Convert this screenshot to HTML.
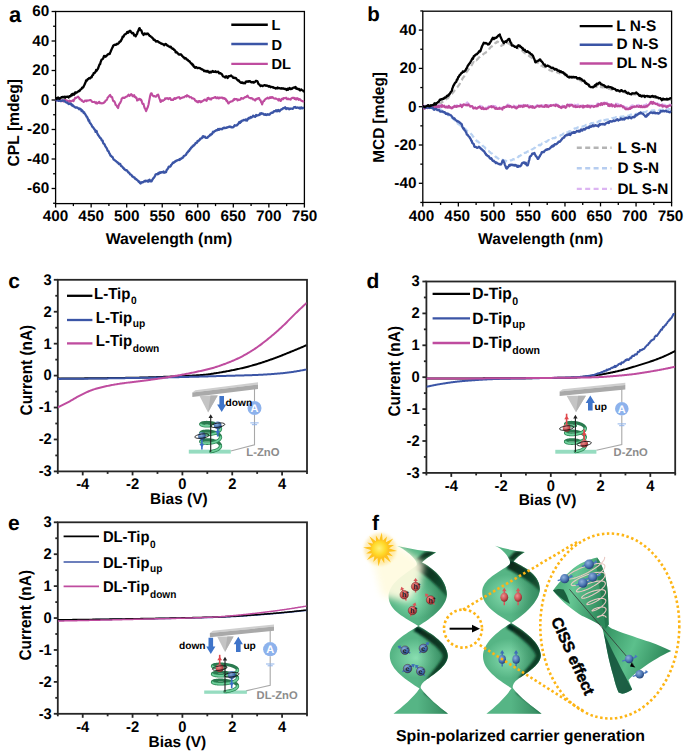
<!DOCTYPE html>
<html><head><meta charset="utf-8"><style>
html,body{margin:0;padding:0;background:#fff;width:685px;height:752px;overflow:hidden}
svg{display:block}
text{font-family:"Liberation Sans",sans-serif;font-weight:bold}
svg{text-rendering:geometricPrecision}
</style></head><body>
<svg width="685" height="752" viewBox="0 0 685 752">
<defs>
<filter id="fBlur3" x="-50%" y="-50%" width="200%" height="200%"><feGaussianBlur stdDeviation="3.5"/></filter>
<filter id="fBlur1" x="-50%" y="-50%" width="200%" height="200%"><feGaussianBlur stdDeviation="1.5"/></filter>
<filter id="fBlur05" x="-50%" y="-50%" width="200%" height="200%"><feGaussianBlur stdDeviation="0.6"/></filter>
<filter id="fBlurB" x="-50%" y="-50%" width="200%" height="200%"><feGaussianBlur stdDeviation="1.2"/></filter>
<clipPath id="clipa"><rect x="55.6" y="11.5" width="248.8" height="192.1"/></clipPath>
<clipPath id="clipb"><rect x="422.8" y="11.2" width="248.8" height="191.2"/></clipPath>
<clipPath id="clipc"><rect x="57.8" y="279.6" width="248.7" height="191.9"/></clipPath>
<clipPath id="clipd"><rect x="426.4" y="281.5" width="248.8" height="191.4"/></clipPath>
<clipPath id="clipe"><rect x="57.8" y="522.3" width="248.7" height="191.5"/></clipPath>
<radialGradient id="gRed" cx="0.38" cy="0.35" r="0.7"><stop offset="0" stop-color="#ec9292"/><stop offset="0.6" stop-color="#c94f52"/><stop offset="1" stop-color="#7e2528"/></radialGradient>
<radialGradient id="gBlue" cx="0.38" cy="0.35" r="0.7"><stop offset="0" stop-color="#8fb0dc"/><stop offset="0.6" stop-color="#4872b0"/><stop offset="1" stop-color="#1f3c6e"/></radialGradient>
<radialGradient id="gBulb" cx="0.45" cy="0.55" r="0.6"><stop offset="0" stop-color="#8fe0b2"/><stop offset="0.55" stop-color="#55b987"/><stop offset="1" stop-color="#2a8a5c"/></radialGradient>
<linearGradient id="gWing" x1="0" y1="0" x2="1" y2="1"><stop offset="0" stop-color="#6cc796"/><stop offset="0.6" stop-color="#3d9c6a"/><stop offset="1" stop-color="#0f4a2c"/></linearGradient>
<linearGradient id="gBase" x1="0" y1="0" x2="1" y2="0"><stop offset="0" stop-color="#5fbf8c"/><stop offset="0.5" stop-color="#62c48f"/><stop offset="1" stop-color="#1d6b44"/></linearGradient>
<linearGradient id="gCone" x1="0" y1="0" x2="1" y2="0.3"><stop offset="0" stop-color="#3c9f6b"/><stop offset="0.45" stop-color="#66c794"/><stop offset="1" stop-color="#2e8a5b"/></linearGradient>
<linearGradient id="gCone2" x1="0" y1="0" x2="1" y2="0.4"><stop offset="0" stop-color="#2f8d5c"/><stop offset="0.5" stop-color="#5cc08c"/><stop offset="1" stop-color="#2a8456"/></linearGradient>
<radialGradient id="gSun" cx="0.45" cy="0.45" r="0.6"><stop offset="0" stop-color="#fff27a"/><stop offset="0.6" stop-color="#ffd928"/><stop offset="1" stop-color="#ffb81c"/></radialGradient>
<linearGradient id="gGlow" x1="0" y1="0" x2="1" y2="1"><stop offset="0" stop-color="#fffbe6" stop-opacity="0.95"/><stop offset="0.6" stop-color="#fffce8" stop-opacity="0.85"/><stop offset="1" stop-color="#fffdf0" stop-opacity="0"/></linearGradient>
<radialGradient id="gHiL" cx="0.5" cy="0.5" r="0.5"><stop offset="0" stop-color="#8fe3b6" stop-opacity="0.9"/><stop offset="1" stop-color="#8fe3b6" stop-opacity="0"/></radialGradient>
<linearGradient id="gDarkR" x1="0" y1="0" x2="1" y2="0"><stop offset="0" stop-color="#1d6b44" stop-opacity="0"/><stop offset="0.7" stop-color="#1d6b44" stop-opacity="0.55"/><stop offset="1" stop-color="#0f4a2c" stop-opacity="0.8"/></linearGradient>
<linearGradient id="gDarkBand" x1="0" y1="0" x2="1" y2="1"><stop offset="0" stop-color="#05261a"/><stop offset="0.5" stop-color="#0b3b24"/><stop offset="1" stop-color="#1a5a38"/></linearGradient>
<radialGradient id="gGlow2" cx="0.3" cy="0.2" r="0.8"><stop offset="0" stop-color="#fffbd0" stop-opacity="0.9"/><stop offset="1" stop-color="#fffbd0" stop-opacity="0"/></radialGradient>
</defs>
<rect x="55.6" y="11.5" width="248.79999999999998" height="192.1" fill="none" stroke="#000" stroke-width="1.3"/>
<line x1="51.60" y1="11.50" x2="55.60" y2="11.50" stroke="#000" stroke-width="1.3" />
<text transform="translate(49.20,16.33)" font-size="15.3" text-anchor="end" fill="#000" >60</text>
<line x1="51.60" y1="41.00" x2="55.60" y2="41.00" stroke="#000" stroke-width="1.3" />
<text transform="translate(49.20,45.83)" font-size="15.3" text-anchor="end" fill="#000" >40</text>
<line x1="51.60" y1="70.50" x2="55.60" y2="70.50" stroke="#000" stroke-width="1.3" />
<text transform="translate(49.20,75.33)" font-size="15.3" text-anchor="end" fill="#000" >20</text>
<line x1="51.60" y1="100.00" x2="55.60" y2="100.00" stroke="#000" stroke-width="1.3" />
<text transform="translate(49.20,104.83)" font-size="15.3" text-anchor="end" fill="#000" >0</text>
<line x1="51.60" y1="129.50" x2="55.60" y2="129.50" stroke="#000" stroke-width="1.3" />
<text transform="translate(49.20,134.33)" font-size="15.3" text-anchor="end" fill="#000" >-20</text>
<line x1="51.60" y1="159.00" x2="55.60" y2="159.00" stroke="#000" stroke-width="1.3" />
<text transform="translate(49.20,163.83)" font-size="15.3" text-anchor="end" fill="#000" >-40</text>
<line x1="51.60" y1="188.50" x2="55.60" y2="188.50" stroke="#000" stroke-width="1.3" />
<text transform="translate(49.20,193.33)" font-size="15.3" text-anchor="end" fill="#000" >-60</text>
<line x1="53.10" y1="26.25" x2="55.60" y2="26.25" stroke="#000" stroke-width="1.3" />
<line x1="53.10" y1="55.75" x2="55.60" y2="55.75" stroke="#000" stroke-width="1.3" />
<line x1="53.10" y1="85.25" x2="55.60" y2="85.25" stroke="#000" stroke-width="1.3" />
<line x1="53.10" y1="114.75" x2="55.60" y2="114.75" stroke="#000" stroke-width="1.3" />
<line x1="53.10" y1="144.25" x2="55.60" y2="144.25" stroke="#000" stroke-width="1.3" />
<line x1="53.10" y1="173.75" x2="55.60" y2="173.75" stroke="#000" stroke-width="1.3" />
<line x1="53.10" y1="203.25" x2="55.60" y2="203.25" stroke="#000" stroke-width="1.3" />
<line x1="55.60" y1="203.60" x2="55.60" y2="207.60" stroke="#000" stroke-width="1.3" />
<text transform="translate(55.60,221.40)" font-size="15.3" text-anchor="middle" fill="#000" >400</text>
<line x1="91.14" y1="203.60" x2="91.14" y2="207.60" stroke="#000" stroke-width="1.3" />
<text transform="translate(91.14,221.40)" font-size="15.3" text-anchor="middle" fill="#000" >450</text>
<line x1="126.69" y1="203.60" x2="126.69" y2="207.60" stroke="#000" stroke-width="1.3" />
<text transform="translate(126.69,221.40)" font-size="15.3" text-anchor="middle" fill="#000" >500</text>
<line x1="162.23" y1="203.60" x2="162.23" y2="207.60" stroke="#000" stroke-width="1.3" />
<text transform="translate(162.23,221.40)" font-size="15.3" text-anchor="middle" fill="#000" >550</text>
<line x1="197.77" y1="203.60" x2="197.77" y2="207.60" stroke="#000" stroke-width="1.3" />
<text transform="translate(197.77,221.40)" font-size="15.3" text-anchor="middle" fill="#000" >600</text>
<line x1="233.31" y1="203.60" x2="233.31" y2="207.60" stroke="#000" stroke-width="1.3" />
<text transform="translate(233.31,221.40)" font-size="15.3" text-anchor="middle" fill="#000" >650</text>
<line x1="268.86" y1="203.60" x2="268.86" y2="207.60" stroke="#000" stroke-width="1.3" />
<text transform="translate(268.86,221.40)" font-size="15.3" text-anchor="middle" fill="#000" >700</text>
<line x1="304.40" y1="203.60" x2="304.40" y2="207.60" stroke="#000" stroke-width="1.3" />
<text transform="translate(304.40,221.40)" font-size="15.3" text-anchor="middle" fill="#000" >750</text>
<line x1="73.37" y1="203.60" x2="73.37" y2="206.10" stroke="#000" stroke-width="1.3" />
<line x1="108.91" y1="203.60" x2="108.91" y2="206.10" stroke="#000" stroke-width="1.3" />
<line x1="144.46" y1="203.60" x2="144.46" y2="206.10" stroke="#000" stroke-width="1.3" />
<line x1="180.00" y1="203.60" x2="180.00" y2="206.10" stroke="#000" stroke-width="1.3" />
<line x1="215.54" y1="203.60" x2="215.54" y2="206.10" stroke="#000" stroke-width="1.3" />
<line x1="251.09" y1="203.60" x2="251.09" y2="206.10" stroke="#000" stroke-width="1.3" />
<line x1="286.63" y1="203.60" x2="286.63" y2="206.10" stroke="#000" stroke-width="1.3" />
<text transform="translate(8.90,21.60)" font-size="22" text-anchor="start" fill="#000" >a</text>
<text transform="translate(18.60,122.70) rotate(-90) scale(1.0,1.03)" font-size="15.65" text-anchor="middle" fill="#000" >CPL [mdeg]</text>
<text transform="translate(169.00,243.80)" font-size="15.8" text-anchor="middle" fill="#000" >Wavelength (nm)</text>
<line x1="231.30" y1="24.80" x2="267.80" y2="24.80" stroke="#000" stroke-width="2.6" />
<text transform="translate(271.50,30.20)" font-size="14.6" text-anchor="start" fill="#000" >L</text>
<line x1="231.30" y1="44.00" x2="267.80" y2="44.00" stroke="#3b55a6" stroke-width="2.6" />
<text transform="translate(271.50,49.60)" font-size="14.6" text-anchor="start" fill="#000" >D</text>
<line x1="231.30" y1="63.90" x2="267.80" y2="63.90" stroke="#bf4c9f" stroke-width="2.4" />
<text transform="translate(271.50,69.20)" font-size="14.6" text-anchor="start" fill="#000" >DL</text>
<g clip-path="url(#clipa)">
<path d="M55.60,99.58 L56.10,100.16 L56.60,100.64 L57.10,100.12 L57.60,99.61 L58.10,100.05 L58.60,100.45 L59.10,100.86 L59.60,99.97 L60.10,99.68 L60.60,100.51 L61.10,100.65 L61.60,101.16 L62.10,101.07 L62.60,100.56 L63.10,100.32 L63.60,101.53 L64.10,100.61 L64.60,100.11 L65.10,99.80 L65.60,100.26 L66.10,100.45 L66.60,100.42 L67.10,100.63 L67.60,100.95 L68.10,101.33 L68.60,101.72 L69.10,101.53 L69.60,100.68 L70.10,101.64 L70.60,101.07 L71.10,101.56 L71.60,100.96 L72.10,100.98 L72.60,100.28 L73.10,100.17 L73.60,101.18 L74.10,99.62 L74.60,99.21 L75.10,97.76 L75.60,97.68 L76.10,97.90 L76.60,97.45 L77.10,97.34 L77.60,97.00 L78.10,96.64 L78.60,97.64 L79.10,97.63 L79.60,99.14 L80.10,98.84 L80.60,99.59 L81.10,99.79 L81.60,100.56 L82.10,100.38 L82.60,101.33 L83.10,101.40 L83.60,101.97 L84.10,101.63 L84.60,101.17 L85.10,100.48 L85.60,100.82 L86.10,100.68 L86.60,101.18 L87.10,100.39 L87.60,100.54 L88.10,100.54 L88.60,100.41 L89.10,100.31 L89.60,100.24 L90.10,100.07 L90.60,100.02 L91.10,100.46 L91.60,101.18 L92.10,101.84 L92.60,101.86 L93.10,101.97 L93.60,101.94 L94.10,101.96 L94.60,101.91 L95.10,102.33 L95.60,103.07 L96.10,102.51 L96.60,102.34 L97.10,103.57 L97.60,102.95 L98.10,102.98 L98.60,102.82 L99.10,101.76 L99.60,102.93 L100.10,103.26 L100.60,102.91 L101.10,103.29 L101.60,103.36 L102.10,103.16 L102.60,103.35 L103.10,103.15 L103.60,103.08 L104.10,102.54 L104.60,101.75 L105.10,101.76 L105.60,100.44 L106.10,100.38 L106.60,100.14 L107.10,99.08 L107.60,97.72 L108.10,97.15 L108.60,96.71 L109.10,96.01 L109.60,95.56 L110.10,94.94 L110.60,95.81 L111.10,96.86 L111.60,97.31 L112.10,97.01 L112.60,98.90 L113.10,100.69 L113.60,101.20 L114.10,101.08 L114.60,101.86 L115.10,102.96 L115.60,104.90 L116.10,105.22 L116.60,105.57 L117.10,106.85 L117.60,107.01 L118.10,108.04 L118.60,105.83 L119.10,104.36 L119.60,103.57 L120.10,103.01 L120.60,101.95 L121.10,100.87 L121.60,99.00 L122.10,98.34 L122.60,97.73 L123.10,97.64 L123.60,98.00 L124.10,97.58 L124.60,97.85 L125.10,97.50 L125.60,96.99 L126.10,96.79 L126.60,96.63 L127.10,96.55 L127.60,95.69 L128.10,95.35 L128.60,94.70 L129.10,95.75 L129.60,95.91 L130.10,95.14 L130.60,94.68 L131.10,94.12 L131.60,94.49 L132.10,94.98 L132.60,96.24 L133.10,95.98 L133.60,95.66 L134.10,95.04 L134.60,96.89 L135.10,97.30 L135.60,96.97 L136.10,98.04 L136.60,97.92 L137.10,100.54 L137.60,100.23 L138.10,99.97 L138.60,99.64 L139.10,98.75 L139.60,99.47 L140.10,99.13 L140.60,100.08 L141.10,99.65 L141.60,100.74 L142.10,102.61 L142.60,103.94 L143.10,103.65 L143.60,104.10 L144.10,106.39 L144.60,108.01 L145.10,108.61 L145.60,109.87 L146.10,111.20 L146.60,109.89 L147.10,108.36 L147.60,107.60 L148.10,105.93 L148.60,104.28 L149.10,101.22 L149.60,98.69 L150.10,96.06 L150.60,94.31 L151.10,93.25 L151.60,93.24 L152.10,94.58 L152.60,95.55 L153.10,95.81 L153.60,96.34 L154.10,96.23 L154.60,95.99 L155.10,96.50 L155.60,96.67 L156.10,96.62 L156.60,95.92 L157.10,95.15 L157.60,95.06 L158.10,94.58 L158.60,95.73 L159.10,97.88 L159.60,98.91 L160.10,100.35 L160.60,102.01 L161.10,101.51 L161.60,100.38 L162.10,101.01 L162.60,100.29 L163.10,100.72 L163.60,100.16 L164.10,100.04 L164.60,99.68 L165.10,98.25 L165.60,98.98 L166.10,98.48 L166.60,98.19 L167.10,98.16 L167.60,98.59 L168.10,98.67 L168.60,99.05 L169.10,98.15 L169.60,98.53 L170.10,98.03 L170.60,99.08 L171.10,99.89 L171.60,99.70 L172.10,99.96 L172.60,99.79 L173.10,99.90 L173.60,98.93 L174.10,98.45 L174.60,98.15 L175.10,99.00 L175.60,98.82 L176.10,98.12 L176.60,97.96 L177.10,97.75 L177.60,97.61 L178.10,97.27 L178.60,97.33 L179.10,97.13 L179.60,97.53 L180.10,98.78 L180.60,98.47 L181.10,98.08 L181.60,97.75 L182.10,97.69 L182.60,97.71 L183.10,97.18 L183.60,97.32 L184.10,97.25 L184.60,96.67 L185.10,96.37 L185.60,96.07 L186.10,95.84 L186.60,96.53 L187.10,95.16 L187.60,95.78 L188.10,95.96 L188.60,96.12 L189.10,96.61 L189.60,97.33 L190.10,97.19 L190.60,97.16 L191.10,97.10 L191.60,97.63 L192.10,98.52 L192.60,98.48 L193.10,98.40 L193.60,98.59 L194.10,98.99 L194.60,99.26 L195.10,100.59 L195.60,100.83 L196.10,100.81 L196.60,101.75 L197.10,101.25 L197.60,101.91 L198.10,102.30 L198.60,101.30 L199.10,100.93 L199.60,101.07 L200.10,101.90 L200.60,102.29 L201.10,101.23 L201.60,101.90 L202.10,101.36 L202.60,101.03 L203.10,100.73 L203.60,100.60 L204.10,99.75 L204.60,99.73 L205.10,99.48 L205.60,100.02 L206.10,100.63 L206.60,100.86 L207.10,99.32 L207.60,97.99 L208.10,97.95 L208.60,97.77 L209.10,99.23 L209.60,99.16 L210.10,98.68 L210.60,99.42 L211.10,99.50 L211.60,98.27 L212.10,98.21 L212.60,98.14 L213.10,98.06 L213.60,97.91 L214.10,97.47 L214.60,97.39 L215.10,97.15 L215.60,97.05 L216.10,98.19 L216.60,98.10 L217.10,98.19 L217.60,97.40 L218.10,97.89 L218.60,98.42 L219.10,97.51 L219.60,98.23 L220.10,97.69 L220.60,97.80 L221.10,97.51 L221.60,97.49 L222.10,97.92 L222.60,97.61 L223.10,98.58 L223.60,98.00 L224.10,97.95 L224.60,98.85 L225.10,98.51 L225.60,98.91 L226.10,100.16 L226.60,101.13 L227.10,100.52 L227.60,101.82 L228.10,103.28 L228.60,103.53 L229.10,102.70 L229.60,102.17 L230.10,102.03 L230.60,101.49 L231.10,101.61 L231.60,101.35 L232.10,101.03 L232.60,101.27 L233.10,100.45 L233.60,99.38 L234.10,99.93 L234.60,98.88 L235.10,98.93 L235.60,99.17 L236.10,99.19 L236.60,98.94 L237.10,99.26 L237.60,100.50 L238.10,99.66 L238.60,99.57 L239.10,99.96 L239.60,99.79 L240.10,99.63 L240.60,99.52 L241.10,98.09 L241.60,98.05 L242.10,98.37 L242.60,98.52 L243.10,98.79 L243.60,98.32 L244.10,97.70 L244.60,97.48 L245.10,97.13 L245.60,97.07 L246.10,97.08 L246.60,96.47 L247.10,95.90 L247.60,95.66 L248.10,96.78 L248.60,97.40 L249.10,97.66 L249.60,97.87 L250.10,98.12 L250.60,98.02 L251.10,98.49 L251.60,98.04 L252.10,98.47 L252.60,98.55 L253.10,99.41 L253.60,99.27 L254.10,99.62 L254.60,100.14 L255.10,100.60 L255.60,99.53 L256.10,98.96 L256.60,99.40 L257.10,98.49 L257.60,98.74 L258.10,98.17 L258.60,98.21 L259.10,98.11 L259.60,99.67 L260.10,100.04 L260.60,100.42 L261.10,102.32 L261.60,102.72 L262.10,104.55 L262.60,102.86 L263.10,101.57 L263.60,100.94 L264.10,100.97 L264.60,99.80 L265.10,99.39 L265.60,99.25 L266.10,98.44 L266.60,98.53 L267.10,98.15 L267.60,97.57 L268.10,98.38 L268.60,98.51 L269.10,98.26 L269.60,97.73 L270.10,97.05 L270.60,97.95 L271.10,97.94 L271.60,97.20 L272.10,97.69 L272.60,97.16 L273.10,97.66 L273.60,98.07 L274.10,98.42 L274.60,98.59 L275.10,98.74 L275.60,98.33 L276.10,98.67 L276.60,98.84 L277.10,99.09 L277.60,99.48 L278.10,99.84 L278.60,100.49 L279.10,98.88 L279.60,99.81 L280.10,99.91 L280.60,100.98 L281.10,100.45 L281.60,98.94 L282.10,99.22 L282.60,98.71 L283.10,99.05 L283.60,98.05 L284.10,98.06 L284.60,98.20 L285.10,98.32 L285.60,98.21 L286.10,97.67 L286.60,98.61 L287.10,99.19 L287.60,98.95 L288.10,98.52 L288.60,99.00 L289.10,99.37 L289.60,99.18 L290.10,99.08 L290.60,99.63 L291.10,98.60 L291.60,98.47 L292.10,97.77 L292.60,98.03 L293.10,98.03 L293.60,97.87 L294.10,97.88 L294.60,98.93 L295.10,98.34 L295.60,98.35 L296.10,99.49 L296.60,98.91 L297.10,98.08 L297.60,98.89 L298.10,98.63 L298.60,99.81 L299.10,99.13 L299.60,99.45 L300.10,99.30 L300.60,100.24 L301.10,100.24 L301.60,100.88 L302.10,101.15 L302.60,101.03 L303.10,101.50 L303.60,101.49 L304.10,100.95" fill="none" stroke="#bf4c9f" stroke-width="2.1" stroke-linejoin="round" />
<path d="M55.60,99.82 L56.10,100.36 L56.60,99.69 L57.10,100.31 L57.60,100.04 L58.10,100.00 L58.60,100.90 L59.10,100.52 L59.60,100.37 L60.10,100.68 L60.60,100.98 L61.10,100.65 L61.60,100.85 L62.10,100.33 L62.60,100.46 L63.10,100.70 L63.60,100.58 L64.10,100.65 L64.60,100.80 L65.10,101.57 L65.60,102.00 L66.10,102.24 L66.60,102.64 L67.10,102.37 L67.60,102.96 L68.10,103.44 L68.60,103.96 L69.10,103.66 L69.60,103.93 L70.10,103.54 L70.60,104.21 L71.10,103.91 L71.60,104.31 L72.10,105.61 L72.60,104.86 L73.10,106.01 L73.60,106.35 L74.10,106.37 L74.60,106.85 L75.10,107.20 L75.60,107.68 L76.10,107.49 L76.60,107.46 L77.10,107.61 L77.60,107.68 L78.10,108.25 L78.60,108.30 L79.10,109.22 L79.60,108.50 L80.10,108.89 L80.60,109.36 L81.10,109.32 L81.60,111.19 L82.10,110.31 L82.60,111.18 L83.10,111.63 L83.60,112.92 L84.10,112.13 L84.60,113.57 L85.10,113.94 L85.60,114.86 L86.10,115.51 L86.60,116.81 L87.10,117.06 L87.60,118.17 L88.10,119.28 L88.60,120.82 L89.10,120.19 L89.60,122.18 L90.10,123.16 L90.60,123.49 L91.10,124.51 L91.60,125.00 L92.10,126.51 L92.60,126.92 L93.10,127.39 L93.60,128.06 L94.10,128.79 L94.60,129.55 L95.10,130.02 L95.60,131.86 L96.10,131.35 L96.60,131.04 L97.10,132.87 L97.60,133.93 L98.10,134.98 L98.60,135.59 L99.10,136.23 L99.60,137.05 L100.10,138.00 L100.60,138.16 L101.10,138.68 L101.60,140.21 L102.10,140.55 L102.60,140.63 L103.10,142.75 L103.60,143.47 L104.10,143.83 L104.60,144.41 L105.10,145.87 L105.60,146.56 L106.10,147.37 L106.60,148.06 L107.10,149.12 L107.60,150.64 L108.10,151.03 L108.60,151.30 L109.10,152.78 L109.60,153.54 L110.10,154.63 L110.60,155.65 L111.10,155.93 L111.60,156.40 L112.10,157.01 L112.60,157.18 L113.10,158.38 L113.60,159.44 L114.10,159.71 L114.60,160.04 L115.10,160.56 L115.60,160.93 L116.10,161.29 L116.60,161.82 L117.10,162.09 L117.60,162.60 L118.10,162.58 L118.60,163.62 L119.10,164.09 L119.60,164.03 L120.10,163.83 L120.60,164.98 L121.10,166.15 L121.60,166.11 L122.10,166.55 L122.60,167.00 L123.10,167.97 L123.60,167.98 L124.10,169.10 L124.60,169.20 L125.10,169.97 L125.60,170.11 L126.10,170.32 L126.60,170.15 L127.10,170.68 L127.60,171.28 L128.10,172.09 L128.60,172.56 L129.10,172.67 L129.60,173.49 L130.10,174.32 L130.60,174.47 L131.10,174.74 L131.60,175.20 L132.10,176.16 L132.60,176.69 L133.10,176.55 L133.60,177.28 L134.10,177.42 L134.60,177.62 L135.10,178.75 L135.60,179.18 L136.10,178.96 L136.60,179.48 L137.10,180.20 L137.60,180.30 L138.10,180.89 L138.60,181.73 L139.10,181.35 L139.60,182.44 L140.10,183.28 L140.60,183.48 L141.10,182.50 L141.60,182.69 L142.10,182.10 L142.60,182.32 L143.10,182.23 L143.60,181.87 L144.10,181.19 L144.60,180.98 L145.10,181.41 L145.60,180.75 L146.10,181.01 L146.60,181.01 L147.10,180.60 L147.60,181.45 L148.10,180.74 L148.60,181.51 L149.10,180.17 L149.60,179.77 L150.10,181.03 L150.60,181.36 L151.10,181.17 L151.60,181.31 L152.10,180.10 L152.60,179.51 L153.10,178.55 L153.60,177.97 L154.10,177.62 L154.60,176.57 L155.10,175.76 L155.60,174.47 L156.10,174.21 L156.60,174.18 L157.10,173.84 L157.60,174.19 L158.10,173.26 L158.60,173.92 L159.10,172.80 L159.60,173.10 L160.10,172.29 L160.60,172.84 L161.10,172.23 L161.60,172.20 L162.10,172.46 L162.60,172.06 L163.10,171.87 L163.60,171.50 L164.10,172.77 L164.60,172.46 L165.10,172.50 L165.60,171.95 L166.10,172.06 L166.60,170.09 L167.10,169.76 L167.60,168.88 L168.10,168.46 L168.60,166.88 L169.10,166.55 L169.60,166.67 L170.10,166.67 L170.60,166.36 L171.10,164.96 L171.60,164.57 L172.10,164.06 L172.60,163.08 L173.10,162.43 L173.60,162.79 L174.10,162.36 L174.60,161.75 L175.10,161.83 L175.60,160.84 L176.10,160.98 L176.60,160.64 L177.10,160.34 L177.60,160.29 L178.10,159.98 L178.60,159.75 L179.10,159.50 L179.60,159.92 L180.10,158.97 L180.60,159.04 L181.10,158.73 L181.60,158.07 L182.10,158.16 L182.60,157.35 L183.10,157.49 L183.60,156.39 L184.10,155.84 L184.60,155.65 L185.10,155.45 L185.60,155.07 L186.10,154.60 L186.60,153.62 L187.10,152.57 L187.60,152.43 L188.10,151.85 L188.60,150.74 L189.10,150.75 L189.60,150.01 L190.10,148.89 L190.60,148.78 L191.10,147.69 L191.60,147.20 L192.10,147.21 L192.60,146.08 L193.10,146.03 L193.60,145.11 L194.10,145.32 L194.60,144.43 L195.10,144.17 L195.60,143.06 L196.10,142.84 L196.60,142.93 L197.10,142.40 L197.60,140.97 L198.10,141.29 L198.60,141.01 L199.10,140.08 L199.60,140.18 L200.10,138.88 L200.60,138.54 L201.10,138.58 L201.60,138.32 L202.10,137.90 L202.60,136.59 L203.10,136.13 L203.60,136.93 L204.10,136.50 L204.60,136.96 L205.10,136.71 L205.60,137.63 L206.10,137.87 L206.60,137.91 L207.10,137.77 L207.60,137.45 L208.10,136.80 L208.60,136.52 L209.10,136.04 L209.60,135.62 L210.10,134.80 L210.60,135.13 L211.10,134.23 L211.60,134.19 L212.10,133.89 L212.60,132.66 L213.10,131.71 L213.60,132.35 L214.10,131.62 L214.60,131.33 L215.10,130.93 L215.60,130.88 L216.10,130.22 L216.60,130.34 L217.10,130.11 L217.60,130.11 L218.10,129.06 L218.60,129.89 L219.10,129.82 L219.60,128.86 L220.10,128.85 L220.60,129.03 L221.10,129.21 L221.60,128.90 L222.10,129.24 L222.60,128.68 L223.10,127.99 L223.60,127.79 L224.10,128.19 L224.60,127.64 L225.10,127.95 L225.60,127.99 L226.10,127.72 L226.60,127.82 L227.10,127.39 L227.60,127.32 L228.10,127.07 L228.60,126.99 L229.10,126.58 L229.60,126.86 L230.10,126.74 L230.60,126.56 L231.10,127.14 L231.60,127.43 L232.10,127.10 L232.60,127.46 L233.10,127.22 L233.60,127.01 L234.10,126.11 L234.60,125.31 L235.10,125.71 L235.60,125.55 L236.10,125.49 L236.60,125.17 L237.10,125.24 L237.60,124.46 L238.10,124.29 L238.60,123.34 L239.10,122.21 L239.60,122.34 L240.10,122.88 L240.60,121.49 L241.10,121.88 L241.60,121.04 L242.10,120.62 L242.60,120.50 L243.10,120.48 L243.60,119.90 L244.10,120.07 L244.60,120.15 L245.10,120.24 L245.60,119.53 L246.10,120.14 L246.60,120.37 L247.10,120.55 L247.60,118.92 L248.10,118.88 L248.60,117.90 L249.10,118.35 L249.60,118.40 L250.10,117.58 L250.60,117.01 L251.10,117.39 L251.60,117.53 L252.10,116.85 L252.60,116.71 L253.10,115.66 L253.60,116.01 L254.10,116.37 L254.60,116.40 L255.10,116.90 L255.60,115.87 L256.10,115.04 L256.60,115.79 L257.10,115.33 L257.60,115.33 L258.10,115.29 L258.60,115.02 L259.10,115.07 L259.60,114.83 L260.10,113.34 L260.60,113.33 L261.10,113.93 L261.60,113.14 L262.10,113.69 L262.60,113.58 L263.10,113.55 L263.60,114.48 L264.10,114.69 L264.60,114.37 L265.10,114.88 L265.60,114.29 L266.10,114.49 L266.60,115.02 L267.10,114.75 L267.60,114.15 L268.10,114.49 L268.60,114.46 L269.10,114.75 L269.60,114.62 L270.10,113.90 L270.60,113.29 L271.10,112.98 L271.60,112.58 L272.10,112.87 L272.60,112.74 L273.10,112.34 L273.60,111.56 L274.10,111.08 L274.60,111.39 L275.10,110.95 L275.60,111.02 L276.10,110.25 L276.60,110.48 L277.10,111.27 L277.60,110.49 L278.10,110.04 L278.60,110.40 L279.10,111.21 L279.60,111.26 L280.10,110.35 L280.60,109.87 L281.10,109.70 L281.60,109.16 L282.10,109.22 L282.60,108.93 L283.10,108.21 L283.60,108.19 L284.10,108.14 L284.60,107.72 L285.10,107.33 L285.60,108.20 L286.10,108.94 L286.60,108.37 L287.10,108.23 L287.60,108.63 L288.10,108.54 L288.60,108.37 L289.10,109.27 L289.60,108.65 L290.10,108.66 L290.60,108.78 L291.10,108.58 L291.60,108.56 L292.10,108.71 L292.60,108.92 L293.10,108.50 L293.60,107.95 L294.10,107.09 L294.60,107.14 L295.10,106.96 L295.60,107.31 L296.10,107.90 L296.60,107.83 L297.10,107.71 L297.60,107.52 L298.10,107.81 L298.60,108.02 L299.10,107.72 L299.60,107.86 L300.10,108.52 L300.60,107.65 L301.10,107.78 L301.60,107.45 L302.10,108.36 L302.60,108.19 L303.10,108.02 L303.60,107.85 L304.10,107.68" fill="none" stroke="#3b55a6" stroke-width="2.3" stroke-linejoin="round" />
<path d="M55.60,98.67 L56.10,98.41 L56.60,98.97 L57.10,97.86 L57.60,98.29 L58.10,97.48 L58.60,98.49 L59.10,98.34 L59.60,98.67 L60.10,97.93 L60.60,97.98 L61.10,97.64 L61.60,97.27 L62.10,97.43 L62.60,96.84 L63.10,96.94 L63.60,97.30 L64.10,97.07 L64.60,96.76 L65.10,97.73 L65.60,97.17 L66.10,96.75 L66.60,96.92 L67.10,96.70 L67.60,96.68 L68.10,96.70 L68.60,97.45 L69.10,96.61 L69.60,96.19 L70.10,96.03 L70.60,96.29 L71.10,95.24 L71.60,94.53 L72.10,95.33 L72.60,93.92 L73.10,93.82 L73.60,94.08 L74.10,94.69 L74.60,93.46 L75.10,92.38 L75.60,93.17 L76.10,92.73 L76.60,92.35 L77.10,92.30 L77.60,91.93 L78.10,91.57 L78.60,90.91 L79.10,91.14 L79.60,91.02 L80.10,90.08 L80.60,89.28 L81.10,89.21 L81.60,88.77 L82.10,87.72 L82.60,87.32 L83.10,87.49 L83.60,86.64 L84.10,85.38 L84.60,84.45 L85.10,83.32 L85.60,82.22 L86.10,80.36 L86.60,80.88 L87.10,80.15 L87.60,79.16 L88.10,79.27 L88.60,78.69 L89.10,78.07 L89.60,78.07 L90.10,78.33 L90.60,77.48 L91.10,77.40 L91.60,77.37 L92.10,75.79 L92.60,74.98 L93.10,74.80 L93.60,73.29 L94.10,72.96 L94.60,73.02 L95.10,72.49 L95.60,71.71 L96.10,70.04 L96.60,70.80 L97.10,69.87 L97.60,69.23 L98.10,68.49 L98.60,66.94 L99.10,65.58 L99.60,64.28 L100.10,64.20 L100.60,62.14 L101.10,60.82 L101.60,59.65 L102.10,59.46 L102.60,59.02 L103.10,58.43 L103.60,57.28 L104.10,55.82 L104.60,56.47 L105.10,56.54 L105.60,56.73 L106.10,56.06 L106.60,55.45 L107.10,55.47 L107.60,54.48 L108.10,54.19 L108.60,53.91 L109.10,54.14 L109.60,54.00 L110.10,52.72 L110.60,51.77 L111.10,50.41 L111.60,49.31 L112.10,48.12 L112.60,47.43 L113.10,45.91 L113.60,45.49 L114.10,44.87 L114.60,45.07 L115.10,44.85 L115.60,44.84 L116.10,44.82 L116.60,43.90 L117.10,43.99 L117.60,44.19 L118.10,43.29 L118.60,43.28 L119.10,42.60 L119.60,41.64 L120.10,41.87 L120.60,41.23 L121.10,40.51 L121.60,39.36 L122.10,38.61 L122.60,36.69 L123.10,37.09 L123.60,36.53 L124.10,35.40 L124.60,34.50 L125.10,34.26 L125.60,34.12 L126.10,33.64 L126.60,33.33 L127.10,32.13 L127.60,31.93 L128.10,32.69 L128.60,32.30 L129.10,31.30 L129.60,31.09 L130.10,30.73 L130.60,31.18 L131.10,32.43 L131.60,32.48 L132.10,33.28 L132.60,33.38 L133.10,33.04 L133.60,33.65 L134.10,35.36 L134.60,34.97 L135.10,35.07 L135.60,36.37 L136.10,35.45 L136.60,34.34 L137.10,33.91 L137.60,31.77 L138.10,31.31 L138.60,29.87 L139.10,28.60 L139.60,28.11 L140.10,29.71 L140.60,30.18 L141.10,30.16 L141.60,30.98 L142.10,32.82 L142.60,33.69 L143.10,33.62 L143.60,35.03 L144.10,34.13 L144.60,33.43 L145.10,33.57 L145.60,33.97 L146.10,34.27 L146.60,34.04 L147.10,33.42 L147.60,33.66 L148.10,33.70 L148.60,34.62 L149.10,35.02 L149.60,35.82 L150.10,35.78 L150.60,36.43 L151.10,36.83 L151.60,37.17 L152.10,37.63 L152.60,38.18 L153.10,38.63 L153.60,39.83 L154.10,40.11 L154.60,39.74 L155.10,40.52 L155.60,40.80 L156.10,41.51 L156.60,41.18 L157.10,41.22 L157.60,41.18 L158.10,41.64 L158.60,42.11 L159.10,42.35 L159.60,42.46 L160.10,43.04 L160.60,43.23 L161.10,43.56 L161.60,43.39 L162.10,44.02 L162.60,43.92 L163.10,44.17 L163.60,44.48 L164.10,45.22 L164.60,44.86 L165.10,44.22 L165.60,43.83 L166.10,44.20 L166.60,44.99 L167.10,45.51 L167.60,45.44 L168.10,45.92 L168.60,46.20 L169.10,46.57 L169.60,46.62 L170.10,47.09 L170.60,46.67 L171.10,47.14 L171.60,48.15 L172.10,48.11 L172.60,48.91 L173.10,48.60 L173.60,49.10 L174.10,49.97 L174.60,50.00 L175.10,50.49 L175.60,52.29 L176.10,51.89 L176.60,52.11 L177.10,52.58 L177.60,53.23 L178.10,53.55 L178.60,54.26 L179.10,54.59 L179.60,54.39 L180.10,54.55 L180.60,54.36 L181.10,54.46 L181.60,55.00 L182.10,55.96 L182.60,56.19 L183.10,56.84 L183.60,57.35 L184.10,57.32 L184.60,58.51 L185.10,58.06 L185.60,58.15 L186.10,58.52 L186.60,59.54 L187.10,59.58 L187.60,59.60 L188.10,60.35 L188.60,61.11 L189.10,61.09 L189.60,61.29 L190.10,62.15 L190.60,62.83 L191.10,63.48 L191.60,63.42 L192.10,64.27 L192.60,65.00 L193.10,64.78 L193.60,66.38 L194.10,66.76 L194.60,66.70 L195.10,67.86 L195.60,67.46 L196.10,67.10 L196.60,67.38 L197.10,67.84 L197.60,68.19 L198.10,68.06 L198.60,67.81 L199.10,67.92 L199.60,68.02 L200.10,68.13 L200.60,68.76 L201.10,68.93 L201.60,69.38 L202.10,69.33 L202.60,69.46 L203.10,69.96 L203.60,70.21 L204.10,71.07 L204.60,70.66 L205.10,71.16 L205.60,71.32 L206.10,70.88 L206.60,71.65 L207.10,71.71 L207.60,70.86 L208.10,71.77 L208.60,72.24 L209.10,71.74 L209.60,72.67 L210.10,72.38 L210.60,71.82 L211.10,72.41 L211.60,72.10 L212.10,71.54 L212.60,70.99 L213.10,71.73 L213.60,71.50 L214.10,71.93 L214.60,71.89 L215.10,71.45 L215.60,71.25 L216.10,72.07 L216.60,72.22 L217.10,72.06 L217.60,71.82 L218.10,71.71 L218.60,72.14 L219.10,73.32 L219.60,73.39 L220.10,73.33 L220.60,73.14 L221.10,73.87 L221.60,73.92 L222.10,74.69 L222.60,75.57 L223.10,76.32 L223.60,76.51 L224.10,76.72 L224.60,77.02 L225.10,77.63 L225.60,77.17 L226.10,76.26 L226.60,77.13 L227.10,76.81 L227.60,77.97 L228.10,76.66 L228.60,76.36 L229.10,76.13 L229.60,76.28 L230.10,75.93 L230.60,75.64 L231.10,75.49 L231.60,76.29 L232.10,76.49 L232.60,76.64 L233.10,77.90 L233.60,77.85 L234.10,78.08 L234.60,77.61 L235.10,77.92 L235.60,77.92 L236.10,78.29 L236.60,79.16 L237.10,79.70 L237.60,80.08 L238.10,80.48 L238.60,80.29 L239.10,80.86 L239.60,81.83 L240.10,82.16 L240.60,82.34 L241.10,82.74 L241.60,82.34 L242.10,82.32 L242.60,82.94 L243.10,82.63 L243.60,83.26 L244.10,83.08 L244.60,83.14 L245.10,83.29 L245.60,81.80 L246.10,82.01 L246.60,81.40 L247.10,81.38 L247.60,81.35 L248.10,81.71 L248.60,81.12 L249.10,81.55 L249.60,81.10 L250.10,81.33 L250.60,81.63 L251.10,82.24 L251.60,82.20 L252.10,82.13 L252.60,82.40 L253.10,81.92 L253.60,82.62 L254.10,82.45 L254.60,82.09 L255.10,81.75 L255.60,81.11 L256.10,80.83 L256.60,81.06 L257.10,81.18 L257.60,81.65 L258.10,83.18 L258.60,84.06 L259.10,84.25 L259.60,84.83 L260.10,85.30 L260.60,86.13 L261.10,85.51 L261.60,85.54 L262.10,85.71 L262.60,86.14 L263.10,85.59 L263.60,85.62 L264.10,85.34 L264.60,85.19 L265.10,85.14 L265.60,85.43 L266.10,85.84 L266.60,85.49 L267.10,85.54 L267.60,85.75 L268.10,86.23 L268.60,86.64 L269.10,86.09 L269.60,86.69 L270.10,86.44 L270.60,87.17 L271.10,86.83 L271.60,86.80 L272.10,87.00 L272.60,87.38 L273.10,87.18 L273.60,87.67 L274.10,87.85 L274.60,87.94 L275.10,88.10 L275.60,88.46 L276.10,87.98 L276.60,88.19 L277.10,88.30 L277.60,87.57 L278.10,88.31 L278.60,88.06 L279.10,88.01 L279.60,88.10 L280.10,88.35 L280.60,88.52 L281.10,88.63 L281.60,88.19 L282.10,88.62 L282.60,88.63 L283.10,88.31 L283.60,88.43 L284.10,88.85 L284.60,88.89 L285.10,89.06 L285.60,88.93 L286.10,89.36 L286.60,89.98 L287.10,89.51 L287.60,88.60 L288.10,89.72 L288.60,89.19 L289.10,88.66 L289.60,87.95 L290.10,88.73 L290.60,89.12 L291.10,89.08 L291.60,88.40 L292.10,88.81 L292.60,88.21 L293.10,87.71 L293.60,87.70 L294.10,87.64 L294.60,87.44 L295.10,87.83 L295.60,87.08 L296.10,88.54 L296.60,88.30 L297.10,88.90 L297.60,88.67 L298.10,89.17 L298.60,89.36 L299.10,89.03 L299.60,89.90 L300.10,90.44 L300.60,89.96 L301.10,89.45 L301.60,89.92 L302.10,90.03 L302.60,90.49 L303.10,90.62 L303.60,91.35 L304.10,91.23" fill="none" stroke="#000" stroke-width="2.3" stroke-linejoin="round" />
</g>
<rect x="422.8" y="11.2" width="248.8" height="191.20000000000002" fill="none" stroke="#000" stroke-width="1.3"/>
<line x1="418.80" y1="30.10" x2="422.80" y2="30.10" stroke="#000" stroke-width="1.3" />
<text transform="translate(416.40,34.93)" font-size="15.3" text-anchor="end" fill="#000" >40</text>
<line x1="418.80" y1="68.40" x2="422.80" y2="68.40" stroke="#000" stroke-width="1.3" />
<text transform="translate(416.40,73.23)" font-size="15.3" text-anchor="end" fill="#000" >20</text>
<line x1="418.80" y1="106.70" x2="422.80" y2="106.70" stroke="#000" stroke-width="1.3" />
<text transform="translate(416.40,111.53)" font-size="15.3" text-anchor="end" fill="#000" >0</text>
<line x1="418.80" y1="145.00" x2="422.80" y2="145.00" stroke="#000" stroke-width="1.3" />
<text transform="translate(416.40,149.83)" font-size="15.3" text-anchor="end" fill="#000" >-20</text>
<line x1="418.80" y1="183.30" x2="422.80" y2="183.30" stroke="#000" stroke-width="1.3" />
<text transform="translate(416.40,188.13)" font-size="15.3" text-anchor="end" fill="#000" >-40</text>
<line x1="420.30" y1="10.95" x2="422.80" y2="10.95" stroke="#000" stroke-width="1.3" />
<line x1="420.30" y1="49.25" x2="422.80" y2="49.25" stroke="#000" stroke-width="1.3" />
<line x1="420.30" y1="87.55" x2="422.80" y2="87.55" stroke="#000" stroke-width="1.3" />
<line x1="420.30" y1="125.85" x2="422.80" y2="125.85" stroke="#000" stroke-width="1.3" />
<line x1="420.30" y1="164.15" x2="422.80" y2="164.15" stroke="#000" stroke-width="1.3" />
<line x1="420.30" y1="202.45" x2="422.80" y2="202.45" stroke="#000" stroke-width="1.3" />
<line x1="422.80" y1="202.40" x2="422.80" y2="206.40" stroke="#000" stroke-width="1.3" />
<text transform="translate(421.60,221.40)" font-size="15.3" text-anchor="middle" fill="#000" >400</text>
<line x1="458.34" y1="202.40" x2="458.34" y2="206.40" stroke="#000" stroke-width="1.3" />
<text transform="translate(457.14,221.40)" font-size="15.3" text-anchor="middle" fill="#000" >450</text>
<line x1="493.89" y1="202.40" x2="493.89" y2="206.40" stroke="#000" stroke-width="1.3" />
<text transform="translate(492.69,221.40)" font-size="15.3" text-anchor="middle" fill="#000" >500</text>
<line x1="529.43" y1="202.40" x2="529.43" y2="206.40" stroke="#000" stroke-width="1.3" />
<text transform="translate(528.23,221.40)" font-size="15.3" text-anchor="middle" fill="#000" >550</text>
<line x1="564.97" y1="202.40" x2="564.97" y2="206.40" stroke="#000" stroke-width="1.3" />
<text transform="translate(563.77,221.40)" font-size="15.3" text-anchor="middle" fill="#000" >600</text>
<line x1="600.51" y1="202.40" x2="600.51" y2="206.40" stroke="#000" stroke-width="1.3" />
<text transform="translate(599.31,221.40)" font-size="15.3" text-anchor="middle" fill="#000" >650</text>
<line x1="636.06" y1="202.40" x2="636.06" y2="206.40" stroke="#000" stroke-width="1.3" />
<text transform="translate(634.86,221.40)" font-size="15.3" text-anchor="middle" fill="#000" >700</text>
<line x1="671.60" y1="202.40" x2="671.60" y2="206.40" stroke="#000" stroke-width="1.3" />
<text transform="translate(670.40,221.40)" font-size="15.3" text-anchor="middle" fill="#000" >750</text>
<line x1="440.57" y1="202.40" x2="440.57" y2="204.90" stroke="#000" stroke-width="1.3" />
<line x1="476.11" y1="202.40" x2="476.11" y2="204.90" stroke="#000" stroke-width="1.3" />
<line x1="511.66" y1="202.40" x2="511.66" y2="204.90" stroke="#000" stroke-width="1.3" />
<line x1="547.20" y1="202.40" x2="547.20" y2="204.90" stroke="#000" stroke-width="1.3" />
<line x1="582.74" y1="202.40" x2="582.74" y2="204.90" stroke="#000" stroke-width="1.3" />
<line x1="618.29" y1="202.40" x2="618.29" y2="204.90" stroke="#000" stroke-width="1.3" />
<line x1="653.83" y1="202.40" x2="653.83" y2="204.90" stroke="#000" stroke-width="1.3" />
<text transform="translate(367.30,20.60)" font-size="20.5" text-anchor="start" fill="#000" >b</text>
<text transform="translate(383.90,117.40) rotate(-90) scale(1.0,1.03)" font-size="15.4" text-anchor="middle" fill="#000" >MCD [mdeg]</text>
<text transform="translate(540.60,243.80)" font-size="15.6" text-anchor="middle" fill="#000" >Wavelength (nm)</text>
<line x1="579.70" y1="26.10" x2="612.60" y2="26.10" stroke="#000" stroke-width="2.4" />
<text transform="translate(616.30,30.80)" font-size="15.4" text-anchor="start" fill="#000" >L N-S</text>
<line x1="579.70" y1="44.70" x2="612.60" y2="44.70" stroke="#3b55a6" stroke-width="2.4" />
<text transform="translate(616.50,49.20)" font-size="15.4" text-anchor="start" fill="#000" >D N-S</text>
<line x1="579.70" y1="63.50" x2="612.60" y2="63.50" stroke="#bf4c9f" stroke-width="2.4" />
<text transform="translate(616.50,68.00)" font-size="15.4" text-anchor="start" fill="#000" >DL N-S</text>
<line x1="576.80" y1="147.70" x2="611.60" y2="147.70" stroke="#b4b4b4" stroke-width="2.4" stroke-dasharray="5,3.4"/>
<text transform="translate(617.50,152.80)" font-size="15.3" text-anchor="start" fill="#000" >L S-N</text>
<line x1="576.80" y1="168.30" x2="611.60" y2="168.30" stroke="#b6cdf0" stroke-width="2.4" stroke-dasharray="5,3.4"/>
<text transform="translate(617.50,173.30)" font-size="15.3" text-anchor="start" fill="#000" >D S-N</text>
<line x1="576.80" y1="188.90" x2="611.60" y2="188.90" stroke="#dcb4f2" stroke-width="2.4" stroke-dasharray="5,3.4"/>
<text transform="translate(617.50,193.90)" font-size="15.3" text-anchor="start" fill="#000" >DL S-N</text>
<g clip-path="url(#clipb)">
<path d="M422.80,106.69 L423.40,106.80 L424.00,106.25 L424.60,106.00 L425.20,106.17 L425.80,106.50 L426.40,106.21 L427.00,105.67 L427.60,105.54 L428.20,105.62 L428.80,105.83 L429.40,105.59 L430.00,105.37 L430.60,105.28 L431.20,105.28 L431.80,105.00 L432.40,105.04 L433.00,105.05 L433.60,105.33 L434.20,104.93 L434.80,105.00 L435.40,104.47 L436.00,104.71 L436.60,104.47 L437.20,104.02 L437.80,103.83 L438.40,103.82 L439.00,103.34 L439.60,103.35 L440.20,103.29 L440.80,103.12 L441.40,102.89 L442.00,101.93 L442.60,101.86 L443.20,101.41 L443.80,101.50 L444.40,101.13 L445.00,100.60 L445.60,100.08 L446.20,99.26 L446.80,98.77 L447.40,98.01 L448.00,98.07 L448.60,97.05 L449.20,96.45 L449.80,95.43 L450.40,94.79 L451.00,94.34 L451.60,94.20 L452.20,93.61 L452.80,92.79 L453.40,91.79 L454.00,91.59 L454.60,90.30 L455.20,89.44 L455.80,88.99 L456.40,87.97 L457.00,87.45 L457.60,86.95 L458.20,86.03 L458.80,85.35 L459.40,84.48 L460.00,83.23 L460.60,81.50 L461.20,80.73 L461.80,80.05 L462.40,78.71 L463.00,77.84 L463.60,77.03 L464.20,76.32 L464.80,74.71 L465.40,73.69 L466.00,72.83 L466.60,72.03 L467.20,70.78 L467.80,70.62 L468.40,69.34 L469.00,68.85 L469.60,67.81 L470.20,67.07 L470.80,66.58 L471.40,65.63 L472.00,64.62 L472.60,63.46 L473.20,62.63 L473.80,61.85 L474.40,62.11 L475.00,60.94 L475.60,59.96 L476.20,60.33 L476.80,59.99 L477.40,59.10 L478.00,58.76 L478.60,57.88 L479.20,57.30 L479.80,57.02 L480.40,56.56 L481.00,55.91 L481.60,55.92 L482.20,55.40 L482.80,54.78 L483.40,53.95 L484.00,53.72 L484.60,53.23 L485.20,52.83 L485.80,52.61 L486.40,51.89 L487.00,51.57 L487.60,51.17 L488.20,50.41 L488.80,50.17 L489.40,48.61 L490.00,48.06 L490.60,47.13 L491.20,46.64 L491.80,46.64 L492.40,45.12 L493.00,44.70 L493.60,44.56 L494.20,44.09 L494.80,43.87 L495.40,42.91 L496.00,42.97 L496.60,42.23 L497.20,41.65 L497.80,41.64 L498.40,42.49 L499.00,42.98 L499.60,43.63 L500.20,44.50 L500.80,45.34 L501.40,45.89 L502.00,45.28 L502.60,44.49 L503.20,44.88 L503.80,44.44 L504.40,43.68 L505.00,43.09 L505.60,42.85 L506.20,42.57 L506.80,42.02 L507.40,43.08 L508.00,43.36 L508.60,43.47 L509.20,43.88 L509.80,44.19 L510.40,44.69 L511.00,44.83 L511.60,45.36 L512.20,45.80 L512.80,45.68 L513.40,45.82 L514.00,45.96 L514.60,46.37 L515.20,46.59 L515.80,47.04 L516.40,47.46 L517.00,47.86 L517.60,47.76 L518.20,48.50 L518.80,48.59 L519.40,48.87 L520.00,49.07 L520.60,48.97 L521.20,49.86 L521.80,49.94 L522.40,51.00 L523.00,51.37 L523.60,52.18 L524.20,52.51 L524.80,52.94 L525.40,53.57 L526.00,53.71 L526.60,54.47 L527.20,54.60 L527.80,55.05 L528.40,55.26 L529.00,55.94 L529.60,56.48 L530.20,56.67 L530.80,56.84 L531.40,57.52 L532.00,58.14 L532.60,58.50 L533.20,58.72 L533.80,59.16 L534.40,59.71 L535.00,59.61 L535.60,60.41 L536.20,61.47 L536.80,61.43 L537.40,62.00 L538.00,62.96 L538.60,63.32 L539.20,63.80 L539.80,64.00 L540.40,64.08 L541.00,65.47 L541.60,65.57 L542.20,65.82 L542.80,66.51 L543.40,66.77 L544.00,66.93 L544.60,66.95 L545.20,67.46 L545.80,67.87 L546.40,68.13 L547.00,68.43 L547.60,68.74 L548.20,69.32 L548.80,69.58 L549.40,69.99 L550.00,70.40 L550.60,70.48 L551.20,70.55 L551.80,71.09 L552.40,71.15 L553.00,70.77 L553.60,70.97 L554.20,71.39 L554.80,71.38 L555.40,71.91 L556.00,71.57 L556.60,71.56 L557.20,72.41 L557.80,72.69 L558.40,72.36 L559.00,72.81 L559.60,73.39 L560.20,73.08 L560.80,73.09 L561.40,73.22 L562.00,73.44 L562.60,73.45 L563.20,73.89 L563.80,73.91 L564.40,74.42 L565.00,75.24 L565.60,74.80 L566.20,75.28 L566.80,75.62 L567.40,74.98 L568.00,75.52 L568.60,75.78 L569.20,75.90 L569.80,76.35 L570.40,76.30 L571.00,76.61 L571.60,76.65 L572.20,76.85 L572.80,76.88 L573.40,77.77 L574.00,77.59 L574.60,77.40 L575.20,78.23 L575.80,78.52 L576.40,78.41 L577.00,78.48 L577.60,78.70 L578.20,79.47 L578.80,79.53 L579.40,79.66 L580.00,80.31 L580.60,80.44 L581.20,80.75 L581.80,81.55 L582.40,81.74 L583.00,82.10 L583.60,82.22 L584.20,82.69 L584.80,82.68 L585.40,83.18 L586.00,83.56 L586.60,83.53 L587.20,83.52 L587.80,84.18 L588.40,84.43 L589.00,84.91 L589.60,84.96 L590.20,85.47 L590.80,85.95 L591.40,86.66 L592.00,86.94 L592.60,86.81 L593.20,87.01 L593.80,86.58 L594.40,86.94 L595.00,86.82 L595.60,87.11 L596.20,86.98 L596.80,86.84 L597.40,86.71 L598.00,87.19 L598.60,87.07 L599.20,87.23 L599.80,87.25 L600.40,86.66 L601.00,87.17 L601.60,87.11 L602.20,87.32 L602.80,87.44 L603.40,86.93 L604.00,87.19 L604.60,87.36 L605.20,87.55 L605.80,87.84 L606.40,87.66 L607.00,87.84 L607.60,88.23 L608.20,87.85 L608.80,88.78 L609.40,88.48 L610.00,89.07 L610.60,89.07 L611.20,89.63 L611.80,89.70 L612.40,89.58 L613.00,89.25 L613.60,89.72 L614.20,90.03 L614.80,90.30 L615.40,90.05 L616.00,90.20 L616.60,90.38 L617.20,90.82 L617.80,90.78 L618.40,91.03 L619.00,91.45 L619.60,91.32 L620.20,91.81 L620.80,91.78 L621.40,91.72 L622.00,92.12 L622.60,92.18 L623.20,92.09 L623.80,92.07 L624.40,92.29 L625.00,92.53 L625.60,92.89 L626.20,92.87 L626.80,92.72 L627.40,92.59 L628.00,93.03 L628.60,93.28 L629.20,93.62 L629.80,93.40 L630.40,93.22 L631.00,93.76 L631.60,93.75 L632.20,93.56 L632.80,94.28 L633.40,94.38 L634.00,94.28 L634.60,94.37 L635.20,94.22 L635.80,94.68 L636.40,94.53 L637.00,94.56 L637.60,94.67 L638.20,94.57 L638.80,95.15 L639.40,95.56 L640.00,95.53 L640.60,94.89 L641.20,95.20 L641.80,95.29 L642.40,95.64 L643.00,95.19 L643.60,95.12 L644.20,95.60 L644.80,96.17 L645.40,96.12 L646.00,96.77 L646.60,96.28 L647.20,96.43 L647.80,96.49 L648.40,96.41 L649.00,96.93 L649.60,96.55 L650.20,96.57 L650.80,96.81 L651.40,96.92 L652.00,97.42 L652.60,97.22 L653.20,97.49 L653.80,97.39 L654.40,97.86 L655.00,97.75 L655.60,97.85 L656.20,97.47 L656.80,98.01 L657.40,97.90 L658.00,98.31 L658.60,98.41 L659.20,98.51 L659.80,98.75 L660.40,98.71 L661.00,98.45 L661.60,98.69 L662.20,98.81 L662.80,98.57 L663.40,98.99 L664.00,99.38 L664.60,99.25 L665.20,99.23 L665.80,99.36 L666.40,99.61 L667.00,99.33 L667.60,99.67 L668.20,99.40 L668.80,99.69 L669.40,99.82 L670.00,99.47 L670.60,99.90 L671.20,99.97" fill="none" stroke="#b9b9b9" stroke-width="2.2" stroke-linejoin="round" stroke-dasharray="5.5,3.2"/>
<path d="M422.80,106.93 L423.40,106.88 L424.00,107.86 L424.60,107.44 L425.20,107.29 L425.80,107.37 L426.40,107.20 L427.00,107.15 L427.60,107.52 L428.20,107.43 L428.80,107.79 L429.40,107.68 L430.00,107.30 L430.60,107.36 L431.20,107.55 L431.80,107.37 L432.40,107.87 L433.00,108.02 L433.60,108.45 L434.20,108.16 L434.80,108.29 L435.40,108.60 L436.00,108.79 L436.60,108.45 L437.20,109.06 L437.80,108.74 L438.40,109.18 L439.00,108.98 L439.60,108.94 L440.20,108.88 L440.80,109.52 L441.40,110.66 L442.00,110.50 L442.60,111.31 L443.20,111.80 L443.80,111.78 L444.40,112.47 L445.00,113.04 L445.60,113.06 L446.20,113.29 L446.80,114.09 L447.40,114.42 L448.00,115.28 L448.60,115.38 L449.20,115.29 L449.80,115.85 L450.40,116.05 L451.00,117.02 L451.60,117.68 L452.20,117.96 L452.80,118.30 L453.40,119.25 L454.00,119.58 L454.60,120.48 L455.20,120.55 L455.80,121.13 L456.40,121.61 L457.00,122.01 L457.60,123.49 L458.20,124.04 L458.80,123.98 L459.40,124.71 L460.00,124.63 L460.60,125.77 L461.20,126.39 L461.80,126.53 L462.40,126.91 L463.00,127.51 L463.60,128.08 L464.20,128.37 L464.80,128.67 L465.40,129.24 L466.00,129.71 L466.60,130.50 L467.20,130.89 L467.80,131.38 L468.40,131.36 L469.00,132.03 L469.60,132.56 L470.20,133.02 L470.80,133.63 L471.40,134.32 L472.00,134.71 L472.60,135.96 L473.20,136.83 L473.80,137.21 L474.40,138.12 L475.00,138.48 L475.60,139.00 L476.20,139.93 L476.80,141.16 L477.40,141.39 L478.00,141.43 L478.60,142.26 L479.20,142.65 L479.80,143.08 L480.40,143.84 L481.00,143.87 L481.60,144.22 L482.20,144.76 L482.80,145.94 L483.40,146.40 L484.00,146.72 L484.60,147.16 L485.20,148.01 L485.80,148.78 L486.40,148.86 L487.00,149.51 L487.60,150.62 L488.20,150.85 L488.80,151.04 L489.40,151.64 L490.00,152.12 L490.60,152.78 L491.20,153.24 L491.80,153.46 L492.40,153.94 L493.00,154.54 L493.60,154.75 L494.20,155.33 L494.80,155.57 L495.40,156.52 L496.00,157.21 L496.60,157.09 L497.20,157.83 L497.80,158.19 L498.40,158.59 L499.00,158.94 L499.60,159.35 L500.20,159.72 L500.80,159.35 L501.40,159.93 L502.00,159.88 L502.60,159.74 L503.20,160.08 L503.80,160.47 L504.40,160.50 L505.00,160.71 L505.60,160.71 L506.20,160.76 L506.80,161.29 L507.40,161.04 L508.00,161.28 L508.60,161.08 L509.20,160.75 L509.80,160.57 L510.40,160.39 L511.00,160.30 L511.60,160.17 L512.20,160.01 L512.80,159.38 L513.40,159.05 L514.00,159.49 L514.60,159.26 L515.20,159.11 L515.80,158.94 L516.40,158.22 L517.00,158.33 L517.60,157.61 L518.20,156.99 L518.80,156.21 L519.40,156.13 L520.00,155.70 L520.60,155.42 L521.20,154.82 L521.80,153.88 L522.40,153.41 L523.00,153.79 L523.60,153.22 L524.20,153.05 L524.80,152.83 L525.40,152.78 L526.00,152.62 L526.60,152.01 L527.20,151.78 L527.80,151.27 L528.40,151.56 L529.00,151.31 L529.60,150.68 L530.20,150.96 L530.80,150.47 L531.40,149.78 L532.00,149.45 L532.60,149.03 L533.20,148.80 L533.80,148.49 L534.40,147.91 L535.00,147.72 L535.60,146.60 L536.20,146.59 L536.80,146.65 L537.40,146.53 L538.00,146.25 L538.60,145.47 L539.20,144.86 L539.80,144.81 L540.40,145.26 L541.00,144.66 L541.60,144.01 L542.20,143.36 L542.80,143.43 L543.40,143.08 L544.00,143.01 L544.60,142.70 L545.20,141.74 L545.80,141.81 L546.40,141.86 L547.00,141.31 L547.60,140.78 L548.20,140.42 L548.80,140.06 L549.40,140.64 L550.00,140.41 L550.60,139.61 L551.20,139.67 L551.80,138.85 L552.40,138.53 L553.00,138.17 L553.60,137.99 L554.20,137.95 L554.80,138.12 L555.40,137.68 L556.00,137.16 L556.60,136.91 L557.20,136.56 L557.80,136.45 L558.40,135.93 L559.00,135.89 L559.60,135.76 L560.20,135.69 L560.80,135.04 L561.40,135.00 L562.00,134.78 L562.60,134.27 L563.20,133.65 L563.80,133.66 L564.40,133.87 L565.00,133.43 L565.60,133.74 L566.20,133.18 L566.80,132.47 L567.40,132.21 L568.00,132.07 L568.60,131.82 L569.20,131.35 L569.80,131.18 L570.40,131.56 L571.00,130.94 L571.60,130.35 L572.20,129.80 L572.80,129.09 L573.40,129.17 L574.00,128.83 L574.60,128.61 L575.20,128.27 L575.80,128.41 L576.40,128.41 L577.00,127.84 L577.60,127.38 L578.20,127.55 L578.80,127.76 L579.40,127.45 L580.00,127.26 L580.60,126.61 L581.20,126.51 L581.80,126.65 L582.40,126.51 L583.00,126.24 L583.60,126.18 L584.20,126.11 L584.80,125.77 L585.40,125.33 L586.00,124.90 L586.60,125.05 L587.20,124.87 L587.80,124.69 L588.40,124.84 L589.00,124.30 L589.60,124.11 L590.20,124.16 L590.80,123.66 L591.40,123.06 L592.00,123.16 L592.60,123.41 L593.20,123.00 L593.80,122.84 L594.40,122.25 L595.00,122.73 L595.60,121.99 L596.20,121.92 L596.80,121.89 L597.40,122.30 L598.00,121.83 L598.60,121.36 L599.20,120.93 L599.80,121.01 L600.40,120.71 L601.00,120.67 L601.60,120.74 L602.20,120.96 L602.80,120.34 L603.40,120.69 L604.00,119.85 L604.60,120.49 L605.20,119.93 L605.80,119.74 L606.40,119.56 L607.00,119.59 L607.60,119.43 L608.20,119.22 L608.80,118.97 L609.40,118.83 L610.00,118.85 L610.60,118.61 L611.20,118.40 L611.80,118.06 L612.40,118.23 L613.00,118.30 L613.60,117.85 L614.20,118.12 L614.80,117.85 L615.40,117.71 L616.00,117.11 L616.60,117.46 L617.20,117.65 L617.80,117.81 L618.40,117.14 L619.00,117.00 L619.60,117.10 L620.20,117.00 L620.80,116.60 L621.40,116.59 L622.00,116.74 L622.60,116.61 L623.20,116.34 L623.80,116.47 L624.40,115.80 L625.00,116.01 L625.60,115.72 L626.20,115.64 L626.80,115.84 L627.40,116.06 L628.00,115.73 L628.60,115.48 L629.20,115.71 L629.80,115.49 L630.40,114.60 L631.00,114.67 L631.60,114.60 L632.20,114.51 L632.80,114.20 L633.40,114.57 L634.00,114.47 L634.60,114.74 L635.20,114.21 L635.80,114.06 L636.40,113.70 L637.00,113.94 L637.60,113.98 L638.20,114.00 L638.80,113.74 L639.40,113.17 L640.00,113.35 L640.60,112.78 L641.20,112.58 L641.80,112.54 L642.40,113.00 L643.00,112.34 L643.60,111.98 L644.20,112.08 L644.80,112.25 L645.40,112.05 L646.00,111.89 L646.60,111.40 L647.20,111.27 L647.80,111.55 L648.40,111.25 L649.00,110.87 L649.60,110.74 L650.20,111.03 L650.80,111.11 L651.40,110.76 L652.00,110.33 L652.60,110.79 L653.20,110.33 L653.80,110.34 L654.40,110.40 L655.00,110.27 L655.60,110.17 L656.20,110.55 L656.80,110.31 L657.40,109.77 L658.00,109.79 L658.60,110.24 L659.20,109.98 L659.80,109.66 L660.40,110.01 L661.00,109.98 L661.60,109.83 L662.20,109.89 L662.80,109.64 L663.40,109.67 L664.00,109.75 L664.60,109.46 L665.20,109.80 L665.80,109.29 L666.40,109.89 L667.00,109.54 L667.60,109.48 L668.20,109.04 L668.80,109.37 L669.40,109.04 L670.00,109.24 L670.60,109.15 L671.20,108.89" fill="none" stroke="#b9d2f2" stroke-width="2.2" stroke-linejoin="round" stroke-dasharray="5.5,3.2"/>
<path d="M422.80,106.77 L423.40,105.78 L424.00,106.11 L424.60,106.02 L425.20,105.79 L425.80,105.89 L426.40,105.99 L427.00,106.23 L427.60,106.55 L428.20,106.94 L428.80,106.78 L429.40,107.13 L430.00,107.02 L430.60,106.74 L431.20,106.48 L431.80,106.04 L432.40,105.61 L433.00,106.03 L433.60,106.06 L434.20,106.21 L434.80,106.20 L435.40,105.51 L436.00,105.47 L436.60,105.24 L437.20,105.96 L437.80,105.67 L438.40,105.63 L439.00,105.15 L439.60,104.81 L440.20,104.98 L440.80,105.33 L441.40,105.72 L442.00,105.12 L442.60,105.74 L443.20,105.52 L443.80,105.66 L444.40,105.84 L445.00,105.92 L445.60,106.37 L446.20,106.73 L446.80,106.70 L447.40,106.40 L448.00,106.76 L448.60,106.92 L449.20,107.23 L449.80,107.15 L450.40,106.32 L451.00,106.31 L451.60,106.37 L452.20,106.84 L452.80,106.48 L453.40,106.72 L454.00,106.47 L454.60,105.73 L455.20,105.92 L455.80,106.10 L456.40,106.02 L457.00,105.18 L457.60,105.60 L458.20,105.26 L458.80,104.48 L459.40,104.77 L460.00,104.23 L460.60,104.27 L461.20,105.27 L461.80,105.89 L462.40,105.45 L463.00,104.99 L463.60,105.35 L464.20,104.77 L464.80,103.99 L465.40,103.10 L466.00,104.08 L466.60,103.05 L467.20,102.42 L467.80,103.02 L468.40,103.75 L469.00,103.93 L469.60,105.02 L470.20,105.18 L470.80,105.63 L471.40,106.13 L472.00,106.16 L472.60,106.76 L473.20,108.06 L473.80,107.44 L474.40,107.60 L475.00,107.63 L475.60,107.12 L476.20,107.05 L476.80,106.27 L477.40,106.43 L478.00,106.57 L478.60,106.93 L479.20,106.87 L479.80,106.14 L480.40,105.83 L481.00,107.09 L481.60,107.23 L482.20,106.30 L482.80,106.79 L483.40,106.85 L484.00,107.12 L484.60,106.91 L485.20,107.50 L485.80,107.78 L486.40,107.81 L487.00,108.11 L487.60,107.70 L488.20,106.83 L488.80,106.18 L489.40,106.30 L490.00,106.83 L490.60,106.73 L491.20,105.91 L491.80,106.19 L492.40,106.09 L493.00,105.81 L493.60,106.26 L494.20,106.31 L494.80,106.04 L495.40,106.35 L496.00,106.80 L496.60,107.52 L497.20,106.91 L497.80,107.36 L498.40,107.53 L499.00,107.68 L499.60,107.37 L500.20,108.27 L500.80,108.33 L501.40,108.32 L502.00,107.72 L502.60,107.79 L503.20,107.29 L503.80,107.18 L504.40,106.47 L505.00,106.33 L505.60,105.92 L506.20,105.36 L506.80,105.29 L507.40,104.85 L508.00,104.57 L508.60,104.96 L509.20,105.06 L509.80,106.25 L510.40,106.56 L511.00,106.46 L511.60,106.39 L512.20,105.79 L512.80,106.14 L513.40,105.63 L514.00,105.89 L514.60,106.10 L515.20,106.29 L515.80,106.92 L516.40,106.35 L517.00,107.34 L517.60,106.35 L518.20,106.50 L518.80,105.46 L519.40,106.04 L520.00,105.26 L520.60,105.49 L521.20,105.37 L521.80,105.56 L522.40,105.43 L523.00,105.20 L523.60,104.81 L524.20,105.52 L524.80,104.91 L525.40,105.01 L526.00,104.93 L526.60,105.24 L527.20,104.98 L527.80,105.21 L528.40,105.74 L529.00,105.55 L529.60,106.01 L530.20,105.81 L530.80,106.65 L531.40,106.36 L532.00,107.13 L532.60,106.71 L533.20,106.25 L533.80,106.48 L534.40,106.56 L535.00,106.66 L535.60,106.56 L536.20,106.25 L536.80,105.26 L537.40,105.73 L538.00,105.39 L538.60,105.41 L539.20,105.69 L539.80,104.90 L540.40,105.52 L541.00,106.19 L541.60,105.69 L542.20,105.22 L542.80,105.80 L543.40,105.53 L544.00,105.84 L544.60,106.05 L545.20,105.03 L545.80,105.50 L546.40,104.94 L547.00,105.13 L547.60,105.76 L548.20,105.21 L548.80,105.13 L549.40,105.15 L550.00,105.39 L550.60,105.42 L551.20,105.39 L551.80,104.93 L552.40,104.63 L553.00,104.94 L553.60,104.44 L554.20,104.25 L554.80,104.73 L555.40,104.21 L556.00,103.94 L556.60,105.11 L557.20,105.27 L557.80,104.72 L558.40,105.44 L559.00,107.02 L559.60,108.14 L560.20,107.30 L560.80,107.21 L561.40,107.07 L562.00,106.74 L562.60,105.65 L563.20,106.34 L563.80,106.13 L564.40,105.74 L565.00,104.94 L565.60,104.97 L566.20,105.07 L566.80,104.91 L567.40,104.94 L568.00,104.57 L568.60,104.90 L569.20,104.88 L569.80,104.23 L570.40,104.30 L571.00,104.78 L571.60,104.58 L572.20,105.34 L572.80,104.84 L573.40,105.05 L574.00,105.30 L574.60,104.72 L575.20,105.55 L575.80,105.26 L576.40,105.01 L577.00,104.99 L577.60,104.63 L578.20,104.70 L578.80,105.91 L579.40,105.67 L580.00,105.58 L580.60,105.74 L581.20,105.96 L581.80,105.48 L582.40,105.59 L583.00,105.83 L583.60,106.21 L584.20,106.03 L584.80,106.55 L585.40,105.97 L586.00,105.76 L586.60,105.29 L587.20,105.70 L587.80,106.11 L588.40,105.89 L589.00,105.86 L589.60,105.55 L590.20,105.57 L590.80,105.50 L591.40,105.52 L592.00,105.89 L592.60,105.68 L593.20,105.67 L593.80,105.68 L594.40,104.92 L595.00,105.31 L595.60,104.81 L596.20,104.02 L596.80,103.96 L597.40,104.06 L598.00,103.40 L598.60,104.64 L599.20,103.97 L599.80,104.03 L600.40,103.12 L601.00,103.27 L601.60,103.28 L602.20,102.78 L602.80,102.93 L603.40,102.77 L604.00,102.88 L604.60,102.48 L605.20,103.17 L605.80,103.19 L606.40,103.10 L607.00,102.66 L607.60,103.46 L608.20,103.75 L608.80,105.07 L609.40,104.16 L610.00,105.09 L610.60,105.40 L611.20,105.29 L611.80,105.32 L612.40,105.40 L613.00,104.57 L613.60,105.44 L614.20,104.97 L614.80,104.63 L615.40,104.78 L616.00,103.69 L616.60,103.90 L617.20,103.98 L617.80,103.81 L618.40,104.59 L619.00,105.19 L619.60,104.70 L620.20,104.50 L620.80,105.00 L621.40,105.04 L622.00,105.53 L622.60,106.01 L623.20,106.12 L623.80,106.30 L624.40,106.77 L625.00,107.13 L625.60,107.71 L626.20,107.23 L626.80,107.30 L627.40,107.34 L628.00,107.61 L628.60,106.85 L629.20,107.49 L629.80,107.65 L630.40,106.69 L631.00,107.02 L631.60,105.70 L632.20,105.97 L632.80,105.32 L633.40,106.07 L634.00,106.07 L634.60,105.81 L635.20,105.23 L635.80,104.91 L636.40,105.46 L637.00,105.27 L637.60,105.72 L638.20,104.97 L638.80,105.58 L639.40,105.82 L640.00,104.80 L640.60,104.92 L641.20,105.21 L641.80,105.36 L642.40,104.98 L643.00,105.59 L643.60,105.34 L644.20,105.71 L644.80,105.14 L645.40,104.96 L646.00,105.34 L646.60,104.20 L647.20,104.25 L647.80,104.58 L648.40,104.13 L649.00,102.87 L649.60,103.62 L650.20,102.45 L650.80,102.42 L651.40,102.41 L652.00,102.09 L652.60,102.49 L653.20,101.36 L653.80,102.27 L654.40,102.67 L655.00,102.70 L655.60,103.01 L656.20,103.59 L656.80,103.82 L657.40,103.37 L658.00,103.91 L658.60,104.33 L659.20,104.14 L659.80,104.31 L660.40,103.32 L661.00,103.48 L661.60,104.42 L662.20,104.05 L662.80,104.99 L663.40,105.50 L664.00,104.89 L664.60,104.75 L665.20,105.19 L665.80,105.60 L666.40,105.89 L667.00,105.45 L667.60,105.34 L668.20,104.81 L668.80,105.08 L669.40,104.65 L670.00,105.15 L670.60,105.10 L671.20,104.06" fill="none" stroke="#dcb4f2" stroke-width="2.2" stroke-linejoin="round" stroke-dasharray="5.5,3.2"/>
<path d="M422.80,106.45 L423.30,105.66 L423.80,107.29 L424.30,108.80 L424.80,107.78 L425.30,108.01 L425.80,108.12 L426.30,107.92 L426.80,107.89 L427.30,108.13 L427.80,107.38 L428.30,106.42 L428.80,106.07 L429.30,107.43 L429.80,107.75 L430.30,107.52 L430.80,106.04 L431.30,106.78 L431.80,107.06 L432.30,106.54 L432.80,106.48 L433.30,108.16 L433.80,108.13 L434.30,107.75 L434.80,107.30 L435.30,106.67 L435.80,106.49 L436.30,107.02 L436.80,106.21 L437.30,106.29 L437.80,107.39 L438.30,105.92 L438.80,105.73 L439.30,107.17 L439.80,106.72 L440.30,106.50 L440.80,105.90 L441.30,105.43 L441.80,106.91 L442.30,105.15 L442.80,106.50 L443.30,106.35 L443.80,106.64 L444.30,105.59 L444.80,107.11 L445.30,107.45 L445.80,107.42 L446.30,107.55 L446.80,106.58 L447.30,107.26 L447.80,107.70 L448.30,107.56 L448.80,105.72 L449.30,107.06 L449.80,107.64 L450.30,107.03 L450.80,107.48 L451.30,108.29 L451.80,107.64 L452.30,108.22 L452.80,107.22 L453.30,106.74 L453.80,107.13 L454.30,106.49 L454.80,105.76 L455.30,106.69 L455.80,106.71 L456.30,107.00 L456.80,106.15 L457.30,106.09 L457.80,106.57 L458.30,106.06 L458.80,106.01 L459.30,106.20 L459.80,105.61 L460.30,105.96 L460.80,104.97 L461.30,105.79 L461.80,107.28 L462.30,106.44 L462.80,105.50 L463.30,104.41 L463.80,104.30 L464.30,104.72 L464.80,104.49 L465.30,105.12 L465.80,105.03 L466.30,105.31 L466.80,104.74 L467.30,105.11 L467.80,105.50 L468.30,104.45 L468.80,104.89 L469.30,105.25 L469.80,105.61 L470.30,106.69 L470.80,106.36 L471.30,106.16 L471.80,106.07 L472.30,106.19 L472.80,107.29 L473.30,108.45 L473.80,108.52 L474.30,107.99 L474.80,108.07 L475.30,107.56 L475.80,108.47 L476.30,108.13 L476.80,108.74 L477.30,108.36 L477.80,108.13 L478.30,107.04 L478.80,107.49 L479.30,107.01 L479.80,106.68 L480.30,107.10 L480.80,108.25 L481.30,108.04 L481.80,109.00 L482.30,108.60 L482.80,107.38 L483.30,107.64 L483.80,109.27 L484.30,109.10 L484.80,108.87 L485.30,108.60 L485.80,109.01 L486.30,109.17 L486.80,108.53 L487.30,108.41 L487.80,108.43 L488.30,107.48 L488.80,107.55 L489.30,107.13 L489.80,106.93 L490.30,106.56 L490.80,106.47 L491.30,106.18 L491.80,107.46 L492.30,106.78 L492.80,107.04 L493.30,106.53 L493.80,107.03 L494.30,107.46 L494.80,108.37 L495.30,108.83 L495.80,107.78 L496.30,108.88 L496.80,108.31 L497.30,108.91 L497.80,108.44 L498.30,108.86 L498.80,108.61 L499.30,107.89 L499.80,108.91 L500.30,108.61 L500.80,108.47 L501.30,108.53 L501.80,108.57 L502.30,109.62 L502.80,107.73 L503.30,107.37 L503.80,106.89 L504.30,107.90 L504.80,107.18 L505.30,106.67 L505.80,107.01 L506.30,106.76 L506.80,106.84 L507.30,105.55 L507.80,105.92 L508.30,106.41 L508.80,105.96 L509.30,106.96 L509.80,106.55 L510.30,106.09 L510.80,106.23 L511.30,106.89 L511.80,107.45 L512.30,106.79 L512.80,107.28 L513.30,106.96 L513.80,106.60 L514.30,106.51 L514.80,107.55 L515.30,107.23 L515.80,107.56 L516.30,108.46 L516.80,108.24 L517.30,107.26 L517.80,106.96 L518.30,107.10 L518.80,105.68 L519.30,106.77 L519.80,106.20 L520.30,106.79 L520.80,106.04 L521.30,105.94 L521.80,106.50 L522.30,106.48 L522.80,107.06 L523.30,105.82 L523.80,105.29 L524.30,106.40 L524.80,106.28 L525.30,105.33 L525.80,105.52 L526.30,106.16 L526.80,105.91 L527.30,105.34 L527.80,106.12 L528.30,106.65 L528.80,107.37 L529.30,107.56 L529.80,107.51 L530.30,106.64 L530.80,106.22 L531.30,106.28 L531.80,107.29 L532.30,107.74 L532.80,106.19 L533.30,107.07 L533.80,107.46 L534.30,107.88 L534.80,107.51 L535.30,107.45 L535.80,106.95 L536.30,106.44 L536.80,106.30 L537.30,106.26 L537.80,105.55 L538.30,105.87 L538.80,106.56 L539.30,105.93 L539.80,106.59 L540.30,105.57 L540.80,106.07 L541.30,105.55 L541.80,106.49 L542.30,106.61 L542.80,106.81 L543.30,106.82 L543.80,106.67 L544.30,107.01 L544.80,106.61 L545.30,104.99 L545.80,106.03 L546.30,106.59 L546.80,105.16 L547.30,106.78 L547.80,106.57 L548.30,107.10 L548.80,106.42 L549.30,106.44 L549.80,105.80 L550.30,105.89 L550.80,105.09 L551.30,105.84 L551.80,105.64 L552.30,105.37 L552.80,105.18 L553.30,104.93 L553.80,105.35 L554.30,105.37 L554.80,105.20 L555.30,106.06 L555.80,104.85 L556.30,105.06 L556.80,104.89 L557.30,105.68 L557.80,106.20 L558.30,105.65 L558.80,106.97 L559.30,106.21 L559.80,107.10 L560.30,107.46 L560.80,106.81 L561.30,108.06 L561.80,107.64 L562.30,106.54 L562.80,107.10 L563.30,107.17 L563.80,106.53 L564.30,106.08 L564.80,106.87 L565.30,107.80 L565.80,106.77 L566.30,107.46 L566.80,105.33 L567.30,104.63 L567.80,105.32 L568.30,105.00 L568.80,105.32 L569.30,106.44 L569.80,105.14 L570.30,105.64 L570.80,105.56 L571.30,104.83 L571.80,105.27 L572.30,104.92 L572.80,105.36 L573.30,106.54 L573.80,106.68 L574.30,106.77 L574.80,106.29 L575.30,105.81 L575.80,107.21 L576.30,106.47 L576.80,106.53 L577.30,106.95 L577.80,106.41 L578.30,106.65 L578.80,106.46 L579.30,106.67 L579.80,107.09 L580.30,105.92 L580.80,106.41 L581.30,106.20 L581.80,106.34 L582.30,106.73 L582.80,107.50 L583.30,105.66 L583.80,107.34 L584.30,106.51 L584.80,106.12 L585.30,106.08 L585.80,106.61 L586.30,106.76 L586.80,105.70 L587.30,105.46 L587.80,106.92 L588.30,106.74 L588.80,105.64 L589.30,106.29 L589.80,106.46 L590.30,107.51 L590.80,106.37 L591.30,106.07 L591.80,106.00 L592.30,106.34 L592.80,106.44 L593.30,106.47 L593.80,107.04 L594.30,106.04 L594.80,106.66 L595.30,105.88 L595.80,105.97 L596.30,106.02 L596.80,106.44 L597.30,104.86 L597.80,106.19 L598.30,104.06 L598.80,104.38 L599.30,104.38 L599.80,104.38 L600.30,105.13 L600.80,103.46 L601.30,103.18 L601.80,104.25 L602.30,104.95 L602.80,103.41 L603.30,103.18 L603.80,103.74 L604.30,104.08 L604.80,103.01 L605.30,103.64 L605.80,103.68 L606.30,103.42 L606.80,104.04 L607.30,103.96 L607.80,103.76 L608.30,105.89 L608.80,104.99 L609.30,104.55 L609.80,106.22 L610.30,105.51 L610.80,105.37 L611.30,104.21 L611.80,104.53 L612.30,106.39 L612.80,105.54 L613.30,105.50 L613.80,105.58 L614.30,105.82 L614.80,106.89 L615.30,105.08 L615.80,104.52 L616.30,106.20 L616.80,106.17 L617.30,106.16 L617.80,106.46 L618.30,105.70 L618.80,105.91 L619.30,106.16 L619.80,106.43 L620.30,105.93 L620.80,105.19 L621.30,105.42 L621.80,105.97 L622.30,106.21 L622.80,107.38 L623.30,106.60 L623.80,107.49 L624.30,107.39 L624.80,107.91 L625.30,109.00 L625.80,109.27 L626.30,108.58 L626.80,108.74 L627.30,109.18 L627.80,108.64 L628.30,108.97 L628.80,109.13 L629.30,108.06 L629.80,108.19 L630.30,108.94 L630.80,108.29 L631.30,107.19 L631.80,107.96 L632.30,107.27 L632.80,106.82 L633.30,106.97 L633.80,107.11 L634.30,106.28 L634.80,106.45 L635.30,106.66 L635.80,106.89 L636.30,106.46 L636.80,105.95 L637.30,106.30 L637.80,106.61 L638.30,106.61 L638.80,107.06 L639.30,106.87 L639.80,105.83 L640.30,106.68 L640.80,107.16 L641.30,105.79 L641.80,106.82 L642.30,107.24 L642.80,107.14 L643.30,107.20 L643.80,106.46 L644.30,107.04 L644.80,107.19 L645.30,106.24 L645.80,106.55 L646.30,106.64 L646.80,105.73 L647.30,106.49 L647.80,105.54 L648.30,104.97 L648.80,104.79 L649.30,104.26 L649.80,103.72 L650.30,103.06 L650.80,101.94 L651.30,101.72 L651.80,102.68 L652.30,103.85 L652.80,103.16 L653.30,101.88 L653.80,103.44 L654.30,102.92 L654.80,103.00 L655.30,103.83 L655.80,104.06 L656.30,104.21 L656.80,103.95 L657.30,103.88 L657.80,104.65 L658.30,105.15 L658.80,105.34 L659.30,105.63 L659.80,105.70 L660.30,105.14 L660.80,105.55 L661.30,105.50 L661.80,105.06 L662.30,106.52 L662.80,106.69 L663.30,105.87 L663.80,105.77 L664.30,106.17 L664.80,106.29 L665.30,106.25 L665.80,106.37 L666.30,107.31 L666.80,106.48 L667.30,105.96 L667.80,106.86 L668.30,106.21 L668.80,105.85 L669.30,105.45 L669.80,105.67 L670.30,105.51 L670.80,105.42 L671.30,105.35" fill="none" stroke="#bf4c9f" stroke-width="2.1" stroke-linejoin="round" />
<path d="M422.80,106.15 L423.30,107.29 L423.80,107.18 L424.30,106.80 L424.80,107.34 L425.30,106.74 L425.80,107.95 L426.30,107.66 L426.80,107.33 L427.30,107.62 L427.80,106.93 L428.30,107.47 L428.80,107.86 L429.30,108.00 L429.80,107.89 L430.30,107.30 L430.80,107.81 L431.30,107.37 L431.80,108.00 L432.30,107.96 L432.80,107.99 L433.30,108.74 L433.80,109.57 L434.30,109.73 L434.80,109.11 L435.30,109.01 L435.80,108.86 L436.30,109.08 L436.80,109.58 L437.30,110.00 L437.80,109.88 L438.30,110.17 L438.80,109.90 L439.30,110.22 L439.80,111.20 L440.30,111.64 L440.80,111.56 L441.30,111.49 L441.80,111.65 L442.30,111.46 L442.80,111.34 L443.30,112.13 L443.80,111.83 L444.30,112.49 L444.80,112.20 L445.30,112.74 L445.80,113.77 L446.30,113.83 L446.80,113.72 L447.30,114.01 L447.80,113.53 L448.30,114.57 L448.80,114.34 L449.30,114.43 L449.80,114.67 L450.30,115.23 L450.80,115.29 L451.30,115.67 L451.80,116.53 L452.30,116.97 L452.80,117.83 L453.30,118.21 L453.80,118.79 L454.30,118.31 L454.80,118.96 L455.30,119.63 L455.80,120.28 L456.30,120.28 L456.80,120.96 L457.30,121.60 L457.80,121.22 L458.30,121.40 L458.80,121.72 L459.30,122.50 L459.80,122.44 L460.30,123.14 L460.80,123.41 L461.30,123.94 L461.80,124.42 L462.30,126.82 L462.80,127.74 L463.30,128.53 L463.80,128.32 L464.30,129.85 L464.80,130.42 L465.30,130.83 L465.80,131.84 L466.30,132.78 L466.80,134.42 L467.30,134.71 L467.80,135.15 L468.30,135.93 L468.80,136.60 L469.30,136.54 L469.80,137.93 L470.30,138.41 L470.80,139.38 L471.30,140.76 L471.80,141.08 L472.30,142.96 L472.80,143.18 L473.30,143.98 L473.80,144.16 L474.30,146.38 L474.80,146.93 L475.30,146.78 L475.80,146.80 L476.30,147.31 L476.80,147.73 L477.30,147.76 L477.80,147.44 L478.30,147.23 L478.80,146.73 L479.30,147.14 L479.80,147.76 L480.30,147.66 L480.80,148.63 L481.30,149.02 L481.80,149.10 L482.30,149.88 L482.80,150.43 L483.30,150.64 L483.80,151.31 L484.30,151.47 L484.80,152.44 L485.30,153.64 L485.80,153.74 L486.30,155.00 L486.80,154.97 L487.30,155.69 L487.80,156.15 L488.30,156.20 L488.80,156.37 L489.30,157.41 L489.80,158.22 L490.30,158.49 L490.80,158.88 L491.30,158.20 L491.80,159.07 L492.30,160.19 L492.80,160.81 L493.30,160.95 L493.80,160.76 L494.30,161.60 L494.80,161.61 L495.30,162.28 L495.80,162.97 L496.30,162.46 L496.80,162.79 L497.30,163.30 L497.80,163.55 L498.30,163.61 L498.80,164.02 L499.30,164.27 L499.80,163.84 L500.30,163.99 L500.80,164.58 L501.30,164.01 L501.80,162.93 L502.30,161.24 L502.80,160.47 L503.30,160.63 L503.80,162.00 L504.30,162.56 L504.80,164.62 L505.30,165.71 L505.80,167.01 L506.30,168.19 L506.80,168.51 L507.30,167.10 L507.80,167.50 L508.30,166.77 L508.80,166.12 L509.30,164.87 L509.80,165.80 L510.30,165.12 L510.80,164.69 L511.30,164.63 L511.80,165.04 L512.30,164.65 L512.80,164.92 L513.30,165.26 L513.80,164.85 L514.30,164.79 L514.80,165.58 L515.30,165.07 L515.80,165.01 L516.30,165.62 L516.80,166.51 L517.30,166.76 L517.80,165.82 L518.30,166.83 L518.80,165.86 L519.30,166.01 L519.80,166.36 L520.30,166.17 L520.80,165.70 L521.30,165.10 L521.80,163.63 L522.30,162.93 L522.80,163.02 L523.30,162.89 L523.80,162.31 L524.30,162.40 L524.80,163.06 L525.30,163.79 L525.80,162.72 L526.30,164.35 L526.80,165.29 L527.30,165.42 L527.80,165.18 L528.30,163.50 L528.80,161.24 L529.30,159.76 L529.80,157.01 L530.30,156.31 L530.80,156.02 L531.30,155.33 L531.80,154.55 L532.30,153.63 L532.80,153.48 L533.30,153.76 L533.80,153.59 L534.30,152.86 L534.80,153.90 L535.30,154.92 L535.80,156.05 L536.30,156.44 L536.80,157.10 L537.30,157.97 L537.80,158.93 L538.30,158.93 L538.80,157.70 L539.30,156.93 L539.80,156.23 L540.30,155.12 L540.80,154.35 L541.30,153.48 L541.80,152.07 L542.30,152.50 L542.80,151.84 L543.30,151.83 L543.80,152.10 L544.30,151.37 L544.80,150.51 L545.30,150.39 L545.80,149.87 L546.30,149.71 L546.80,149.92 L547.30,149.21 L547.80,149.35 L548.30,149.07 L548.80,149.27 L549.30,148.68 L549.80,148.41 L550.30,148.01 L550.80,147.24 L551.30,146.83 L551.80,146.22 L552.30,145.72 L552.80,146.64 L553.30,145.44 L553.80,145.72 L554.30,145.03 L554.80,144.23 L555.30,144.22 L555.80,144.31 L556.30,144.14 L556.80,143.94 L557.30,143.17 L557.80,142.90 L558.30,142.14 L558.80,141.64 L559.30,141.85 L559.80,141.76 L560.30,141.06 L560.80,140.61 L561.30,139.79 L561.80,139.41 L562.30,138.42 L562.80,138.25 L563.30,137.73 L563.80,137.12 L564.30,137.44 L564.80,136.01 L565.30,135.60 L565.80,135.64 L566.30,134.93 L566.80,135.27 L567.30,134.53 L567.80,134.70 L568.30,134.53 L568.80,134.88 L569.30,133.61 L569.80,134.38 L570.30,134.99 L570.80,134.18 L571.30,133.13 L571.80,133.18 L572.30,132.52 L572.80,133.01 L573.30,132.77 L573.80,132.05 L574.30,132.90 L574.80,132.25 L575.30,132.65 L575.80,131.92 L576.30,131.59 L576.80,131.05 L577.30,131.40 L577.80,131.21 L578.30,130.74 L578.80,131.59 L579.30,130.96 L579.80,131.54 L580.30,130.92 L580.80,129.78 L581.30,129.45 L581.80,129.95 L582.30,130.59 L582.80,129.90 L583.30,129.24 L583.80,128.96 L584.30,129.49 L584.80,129.69 L585.30,128.92 L585.80,128.25 L586.30,127.81 L586.80,128.31 L587.30,127.58 L587.80,127.64 L588.30,127.43 L588.80,128.02 L589.30,126.61 L589.80,126.35 L590.30,126.35 L590.80,126.92 L591.30,126.28 L591.80,126.62 L592.30,125.99 L592.80,125.26 L593.30,125.43 L593.80,126.29 L594.30,125.78 L594.80,125.34 L595.30,125.52 L595.80,125.28 L596.30,125.62 L596.80,125.65 L597.30,125.89 L597.80,125.76 L598.30,126.45 L598.80,124.94 L599.30,125.50 L599.80,123.81 L600.30,124.75 L600.80,124.38 L601.30,124.27 L601.80,124.05 L602.30,124.31 L602.80,123.98 L603.30,124.23 L603.80,123.84 L604.30,124.08 L604.80,124.61 L605.30,123.86 L605.80,123.52 L606.30,122.84 L606.80,122.94 L607.30,122.69 L607.80,122.22 L608.30,122.02 L608.80,123.03 L609.30,121.65 L609.80,121.31 L610.30,121.21 L610.80,121.50 L611.30,121.37 L611.80,121.55 L612.30,121.47 L612.80,121.23 L613.30,120.59 L613.80,120.47 L614.30,120.98 L614.80,121.09 L615.30,120.41 L615.80,120.48 L616.30,119.89 L616.80,119.58 L617.30,119.24 L617.80,119.99 L618.30,120.59 L618.80,119.97 L619.30,119.86 L619.80,119.82 L620.30,119.39 L620.80,118.39 L621.30,119.28 L621.80,119.22 L622.30,119.54 L622.80,118.97 L623.30,118.60 L623.80,119.43 L624.30,119.49 L624.80,118.97 L625.30,117.98 L625.80,117.84 L626.30,117.73 L626.80,118.06 L627.30,117.99 L627.80,117.90 L628.30,118.22 L628.80,117.34 L629.30,116.90 L629.80,117.45 L630.30,117.76 L630.80,117.65 L631.30,118.32 L631.80,117.52 L632.30,117.25 L632.80,117.17 L633.30,116.80 L633.80,117.26 L634.30,116.89 L634.80,117.01 L635.30,115.43 L635.80,114.95 L636.30,115.55 L636.80,115.20 L637.30,114.61 L637.80,114.39 L638.30,114.29 L638.80,113.40 L639.30,113.66 L639.80,113.26 L640.30,112.61 L640.80,112.42 L641.30,113.35 L641.80,113.42 L642.30,113.55 L642.80,113.59 L643.30,114.20 L643.80,114.94 L644.30,115.04 L644.80,115.51 L645.30,116.65 L645.80,116.50 L646.30,116.53 L646.80,116.13 L647.30,114.47 L647.80,114.99 L648.30,114.60 L648.80,113.72 L649.30,113.52 L649.80,113.05 L650.30,112.78 L650.80,112.31 L651.30,112.61 L651.80,112.64 L652.30,112.96 L652.80,113.16 L653.30,112.46 L653.80,112.78 L654.30,113.00 L654.80,112.36 L655.30,113.27 L655.80,113.20 L656.30,113.09 L656.80,113.28 L657.30,112.85 L657.80,113.29 L658.30,113.60 L658.80,113.62 L659.30,113.00 L659.80,112.59 L660.30,112.10 L660.80,110.96 L661.30,111.21 L661.80,111.13 L662.30,111.37 L662.80,110.98 L663.30,110.66 L663.80,111.23 L664.30,111.15 L664.80,111.31 L665.30,110.75 L665.80,110.98 L666.30,110.92 L666.80,111.71 L667.30,111.62 L667.80,111.55 L668.30,111.75 L668.80,111.71 L669.30,112.25 L669.80,112.39 L670.30,112.02 L670.80,111.55 L671.30,111.97" fill="none" stroke="#3b55a6" stroke-width="2.3" stroke-linejoin="round" />
<path d="M422.80,106.50 L423.30,106.19 L423.80,106.50 L424.30,106.94 L424.80,107.17 L425.30,106.81 L425.80,106.45 L426.30,106.19 L426.80,106.01 L427.30,105.69 L427.80,105.35 L428.30,105.13 L428.80,106.20 L429.30,106.05 L429.80,106.41 L430.30,105.41 L430.80,105.61 L431.30,105.41 L431.80,105.48 L432.30,104.98 L432.80,105.16 L433.30,105.09 L433.80,105.05 L434.30,103.51 L434.80,103.26 L435.30,104.09 L435.80,104.65 L436.30,103.84 L436.80,102.90 L437.30,102.94 L437.80,102.25 L438.30,101.75 L438.80,101.75 L439.30,100.94 L439.80,99.69 L440.30,99.42 L440.80,99.75 L441.30,99.14 L441.80,99.32 L442.30,98.86 L442.80,99.03 L443.30,98.51 L443.80,98.79 L444.30,98.23 L444.80,97.52 L445.30,97.67 L445.80,97.39 L446.30,96.95 L446.80,95.89 L447.30,95.73 L447.80,95.99 L448.30,95.53 L448.80,94.42 L449.30,94.56 L449.80,93.80 L450.30,92.93 L450.80,92.03 L451.30,91.43 L451.80,90.89 L452.30,88.45 L452.80,87.53 L453.30,85.92 L453.80,85.14 L454.30,84.14 L454.80,83.29 L455.30,82.61 L455.80,82.34 L456.30,81.75 L456.80,79.74 L457.30,79.77 L457.80,78.53 L458.30,76.84 L458.80,76.97 L459.30,75.58 L459.80,74.80 L460.30,74.72 L460.80,73.78 L461.30,73.17 L461.80,72.95 L462.30,72.60 L462.80,71.33 L463.30,71.86 L463.80,71.63 L464.30,71.59 L464.80,70.96 L465.30,70.56 L465.80,69.70 L466.30,68.60 L466.80,68.09 L467.30,66.87 L467.80,65.64 L468.30,65.24 L468.80,64.45 L469.30,63.56 L469.80,63.12 L470.30,62.34 L470.80,61.35 L471.30,60.46 L471.80,59.48 L472.30,58.46 L472.80,58.96 L473.30,57.78 L473.80,56.07 L474.30,56.21 L474.80,55.54 L475.30,54.89 L475.80,54.60 L476.30,54.42 L476.80,54.33 L477.30,53.57 L477.80,53.09 L478.30,52.98 L478.80,51.53 L479.30,51.13 L479.80,50.81 L480.30,51.46 L480.80,49.94 L481.30,48.30 L481.80,47.01 L482.30,45.58 L482.80,44.92 L483.30,43.68 L483.80,42.66 L484.30,42.96 L484.80,43.23 L485.30,43.27 L485.80,43.01 L486.30,43.42 L486.80,43.51 L487.30,43.70 L487.80,44.43 L488.30,43.89 L488.80,44.40 L489.30,44.05 L489.80,43.13 L490.30,42.08 L490.80,41.43 L491.30,40.59 L491.80,39.47 L492.30,38.61 L492.80,37.76 L493.30,37.98 L493.80,39.17 L494.30,37.87 L494.80,38.21 L495.30,37.89 L495.80,37.99 L496.30,37.76 L496.80,37.01 L497.30,36.68 L497.80,36.15 L498.30,35.68 L498.80,35.22 L499.30,35.10 L499.80,34.46 L500.30,36.11 L500.80,37.55 L501.30,38.60 L501.80,39.53 L502.30,41.00 L502.80,41.12 L503.30,42.29 L503.80,43.06 L504.30,42.36 L504.80,41.84 L505.30,41.61 L505.80,41.23 L506.30,41.94 L506.80,41.07 L507.30,40.49 L507.80,39.75 L508.30,39.35 L508.80,38.96 L509.30,38.97 L509.80,40.39 L510.30,41.87 L510.80,42.70 L511.30,43.31 L511.80,45.53 L512.30,45.60 L512.80,45.72 L513.30,45.46 L513.80,46.06 L514.30,46.40 L514.80,46.83 L515.30,46.93 L515.80,46.95 L516.30,46.74 L516.80,47.85 L517.30,46.06 L517.80,46.32 L518.30,45.32 L518.80,45.95 L519.30,45.87 L519.80,45.62 L520.30,46.87 L520.80,46.96 L521.30,46.98 L521.80,47.90 L522.30,48.43 L522.80,48.22 L523.30,49.78 L523.80,49.75 L524.30,49.96 L524.80,49.62 L525.30,51.14 L525.80,51.35 L526.30,51.63 L526.80,51.83 L527.30,51.23 L527.80,51.37 L528.30,52.14 L528.80,52.07 L529.30,52.81 L529.80,52.71 L530.30,53.66 L530.80,54.32 L531.30,54.07 L531.80,54.48 L532.30,55.25 L532.80,55.52 L533.30,56.75 L533.80,58.18 L534.30,59.04 L534.80,60.37 L535.30,62.14 L535.80,62.32 L536.30,61.61 L536.80,61.28 L537.30,61.25 L537.80,61.00 L538.30,60.59 L538.80,60.18 L539.30,60.36 L539.80,59.35 L540.30,59.53 L540.80,60.66 L541.30,61.22 L541.80,61.68 L542.30,62.13 L542.80,62.82 L543.30,63.74 L543.80,64.57 L544.30,64.65 L544.80,64.54 L545.30,66.29 L545.80,66.00 L546.30,66.27 L546.80,66.03 L547.30,65.50 L547.80,65.66 L548.30,65.76 L548.80,66.16 L549.30,66.55 L549.80,66.73 L550.30,66.82 L550.80,67.63 L551.30,67.55 L551.80,68.08 L552.30,68.16 L552.80,67.74 L553.30,67.80 L553.80,68.89 L554.30,68.88 L554.80,69.61 L555.30,69.35 L555.80,68.99 L556.30,69.36 L556.80,69.85 L557.30,69.73 L557.80,70.68 L558.30,70.77 L558.80,70.88 L559.30,70.64 L559.80,71.88 L560.30,71.77 L560.80,71.34 L561.30,72.29 L561.80,72.02 L562.30,72.63 L562.80,72.26 L563.30,72.45 L563.80,73.51 L564.30,73.43 L564.80,73.63 L565.30,74.69 L565.80,74.91 L566.30,74.60 L566.80,75.94 L567.30,76.19 L567.80,76.86 L568.30,76.72 L568.80,77.37 L569.30,77.51 L569.80,76.65 L570.30,76.95 L570.80,77.23 L571.30,76.88 L571.80,77.50 L572.30,77.47 L572.80,76.96 L573.30,76.94 L573.80,76.98 L574.30,77.36 L574.80,77.09 L575.30,77.31 L575.80,77.15 L576.30,77.25 L576.80,78.11 L577.30,78.70 L577.80,78.60 L578.30,78.36 L578.80,78.17 L579.30,78.41 L579.80,78.06 L580.30,79.25 L580.80,79.12 L581.30,78.95 L581.80,79.33 L582.30,80.18 L582.80,80.70 L583.30,80.67 L583.80,81.29 L584.30,80.70 L584.80,81.72 L585.30,82.99 L585.80,83.30 L586.30,83.04 L586.80,83.94 L587.30,84.04 L587.80,84.09 L588.30,84.79 L588.80,84.95 L589.30,86.45 L589.80,86.54 L590.30,86.61 L590.80,87.06 L591.30,87.10 L591.80,87.01 L592.30,86.91 L592.80,87.28 L593.30,87.33 L593.80,86.74 L594.30,86.23 L594.80,85.29 L595.30,84.87 L595.80,85.73 L596.30,84.51 L596.80,83.64 L597.30,83.92 L597.80,84.26 L598.30,83.35 L598.80,82.94 L599.30,83.25 L599.80,82.57 L600.30,83.05 L600.80,83.86 L601.30,84.62 L601.80,84.40 L602.30,84.55 L602.80,84.97 L603.30,85.43 L603.80,85.10 L604.30,85.68 L604.80,86.15 L605.30,86.90 L605.80,86.56 L606.30,87.24 L606.80,87.29 L607.30,87.25 L607.80,86.77 L608.30,86.39 L608.80,86.91 L609.30,87.19 L609.80,87.07 L610.30,87.37 L610.80,87.23 L611.30,87.45 L611.80,87.60 L612.30,88.75 L612.80,87.92 L613.30,88.49 L613.80,88.93 L614.30,88.80 L614.80,88.78 L615.30,89.38 L615.80,89.89 L616.30,90.43 L616.80,90.64 L617.30,90.18 L617.80,90.27 L618.30,90.29 L618.80,90.83 L619.30,90.84 L619.80,91.32 L620.30,91.15 L620.80,90.72 L621.30,90.08 L621.80,90.34 L622.30,91.13 L622.80,91.47 L623.30,91.39 L623.80,91.49 L624.30,91.18 L624.80,90.85 L625.30,91.16 L625.80,91.71 L626.30,92.34 L626.80,92.98 L627.30,93.19 L627.80,93.50 L628.30,92.69 L628.80,93.23 L629.30,93.45 L629.80,94.00 L630.30,94.14 L630.80,94.23 L631.30,94.31 L631.80,93.50 L632.30,93.27 L632.80,93.43 L633.30,93.34 L633.80,93.32 L634.30,93.43 L634.80,93.48 L635.30,93.23 L635.80,92.78 L636.30,92.38 L636.80,93.15 L637.30,93.75 L637.80,93.69 L638.30,94.29 L638.80,94.95 L639.30,95.63 L639.80,95.90 L640.30,95.31 L640.80,96.05 L641.30,96.21 L641.80,96.59 L642.30,95.99 L642.80,95.80 L643.30,96.22 L643.80,96.21 L644.30,95.84 L644.80,97.07 L645.30,96.32 L645.80,96.12 L646.30,96.19 L646.80,95.98 L647.30,96.02 L647.80,96.50 L648.30,96.51 L648.80,96.07 L649.30,96.45 L649.80,96.96 L650.30,97.14 L650.80,96.50 L651.30,96.25 L651.80,96.52 L652.30,95.99 L652.80,95.97 L653.30,96.78 L653.80,96.67 L654.30,96.64 L654.80,96.42 L655.30,96.29 L655.80,96.54 L656.30,97.35 L656.80,97.28 L657.30,97.35 L657.80,97.54 L658.30,97.69 L658.80,98.34 L659.30,98.24 L659.80,98.07 L660.30,98.20 L660.80,98.93 L661.30,99.21 L661.80,100.22 L662.30,99.03 L662.80,99.62 L663.30,98.69 L663.80,99.36 L664.30,99.08 L664.80,99.24 L665.30,99.45 L665.80,99.15 L666.30,99.37 L666.80,98.76 L667.30,99.48 L667.80,99.13 L668.30,99.17 L668.80,99.27 L669.30,98.63 L669.80,98.64 L670.30,98.24 L670.80,98.37 L671.30,97.93" fill="none" stroke="#000" stroke-width="2.3" stroke-linejoin="round" />
</g>
<rect x="57.8" y="279.8" width="249.2" height="191.59999999999997" fill="none" stroke="#262626" stroke-width="1.8"/>
<line x1="53.80" y1="279.80" x2="57.80" y2="279.80" stroke="#262626" stroke-width="1.8" />
<text transform="translate(51.80,284.65) scale(1.0,1.04)" font-size="14.75" text-anchor="end" fill="#000" >3</text>
<line x1="53.80" y1="311.73" x2="57.80" y2="311.73" stroke="#262626" stroke-width="1.8" />
<text transform="translate(51.80,316.58) scale(1.0,1.04)" font-size="14.75" text-anchor="end" fill="#000" >2</text>
<line x1="53.80" y1="343.67" x2="57.80" y2="343.67" stroke="#262626" stroke-width="1.8" />
<text transform="translate(51.80,348.51) scale(1.0,1.04)" font-size="14.75" text-anchor="end" fill="#000" >1</text>
<line x1="53.80" y1="375.60" x2="57.80" y2="375.60" stroke="#262626" stroke-width="1.8" />
<text transform="translate(51.80,380.45) scale(1.0,1.04)" font-size="14.75" text-anchor="end" fill="#000" >0</text>
<line x1="53.80" y1="407.53" x2="57.80" y2="407.53" stroke="#262626" stroke-width="1.8" />
<text transform="translate(51.80,412.38) scale(1.0,1.04)" font-size="14.75" text-anchor="end" fill="#000" >-1</text>
<line x1="53.80" y1="439.47" x2="57.80" y2="439.47" stroke="#262626" stroke-width="1.8" />
<text transform="translate(51.80,444.31) scale(1.0,1.04)" font-size="14.75" text-anchor="end" fill="#000" >-2</text>
<line x1="53.80" y1="471.40" x2="57.80" y2="471.40" stroke="#262626" stroke-width="1.8" />
<text transform="translate(51.80,476.25) scale(1.0,1.04)" font-size="14.75" text-anchor="end" fill="#000" >-3</text>
<line x1="55.30" y1="295.77" x2="57.80" y2="295.77" stroke="#262626" stroke-width="1.8" />
<line x1="55.30" y1="327.70" x2="57.80" y2="327.70" stroke="#262626" stroke-width="1.8" />
<line x1="55.30" y1="359.63" x2="57.80" y2="359.63" stroke="#262626" stroke-width="1.8" />
<line x1="55.30" y1="391.57" x2="57.80" y2="391.57" stroke="#262626" stroke-width="1.8" />
<line x1="55.30" y1="423.50" x2="57.80" y2="423.50" stroke="#262626" stroke-width="1.8" />
<line x1="55.30" y1="455.43" x2="57.80" y2="455.43" stroke="#262626" stroke-width="1.8" />
<line x1="82.72" y1="471.40" x2="82.72" y2="475.40" stroke="#262626" stroke-width="1.8" />
<text transform="translate(82.72,489.40) scale(1.0,1.04)" font-size="14.75" text-anchor="middle" fill="#000" >-4</text>
<line x1="132.56" y1="471.40" x2="132.56" y2="475.40" stroke="#262626" stroke-width="1.8" />
<text transform="translate(132.56,489.40) scale(1.0,1.04)" font-size="14.75" text-anchor="middle" fill="#000" >-2</text>
<line x1="182.40" y1="471.40" x2="182.40" y2="475.40" stroke="#262626" stroke-width="1.8" />
<text transform="translate(182.40,489.40) scale(1.0,1.04)" font-size="14.75" text-anchor="middle" fill="#000" >0</text>
<line x1="232.24" y1="471.40" x2="232.24" y2="475.40" stroke="#262626" stroke-width="1.8" />
<text transform="translate(232.24,489.40) scale(1.0,1.04)" font-size="14.75" text-anchor="middle" fill="#000" >2</text>
<line x1="282.08" y1="471.40" x2="282.08" y2="475.40" stroke="#262626" stroke-width="1.8" />
<text transform="translate(282.08,489.40) scale(1.0,1.04)" font-size="14.75" text-anchor="middle" fill="#000" >4</text>
<line x1="57.80" y1="471.40" x2="57.80" y2="473.90" stroke="#262626" stroke-width="1.8" />
<line x1="107.64" y1="471.40" x2="107.64" y2="473.90" stroke="#262626" stroke-width="1.8" />
<line x1="157.48" y1="471.40" x2="157.48" y2="473.90" stroke="#262626" stroke-width="1.8" />
<line x1="207.32" y1="471.40" x2="207.32" y2="473.90" stroke="#262626" stroke-width="1.8" />
<line x1="257.16" y1="471.40" x2="257.16" y2="473.90" stroke="#262626" stroke-width="1.8" />
<line x1="307.00" y1="471.40" x2="307.00" y2="473.90" stroke="#262626" stroke-width="1.8" />
<text transform="translate(32.10,370.10) rotate(-90) scale(1.0,1.09)" font-size="15.4" text-anchor="middle" fill="#000" >Current (nA)</text>
<text transform="translate(178.90,503.80)" font-size="15.5" text-anchor="middle" fill="#000" >Bias (V)</text>
<text transform="translate(8.30,288.00)" font-size="21" text-anchor="start" fill="#000" >c</text>
<line x1="67.00" y1="295.80" x2="92.40" y2="295.80" stroke="#000" stroke-width="2.3" />
<text transform="translate(94.00,298.60) scale(1,1.06)" font-size="15.0" fill="#000" font-family="Liberation Sans, sans-serif" font-weight="bold">L-Tip<tspan font-size="10.2" dy="5.3" dx="0.5">0</tspan></text>
<line x1="67.00" y1="320.00" x2="92.40" y2="320.00" stroke="#3b55a6" stroke-width="2.3" />
<text transform="translate(95.80,322.80) scale(1,1.06)" font-size="15.0" fill="#000" font-family="Liberation Sans, sans-serif" font-weight="bold">L-Tip<tspan font-size="10.2" dy="4.2" dx="0.5">up</tspan></text>
<line x1="67.00" y1="343.40" x2="92.40" y2="343.40" stroke="#bf4c9f" stroke-width="2.3" />
<text transform="translate(95.80,346.20) scale(1,1.06)" font-size="15.0" fill="#000" font-family="Liberation Sans, sans-serif" font-weight="bold">L-Tip<tspan font-size="10.2" dy="5.3" dx="0.5">down</tspan></text>
<g clip-path="url(#clipc)">
<path d="M57.80,378.50 L58.80,378.50 L59.80,378.50 L60.80,378.50 L61.80,378.50 L62.80,378.49 L63.80,378.49 L64.80,378.49 L65.80,378.49 L66.80,378.48 L67.80,378.48 L68.80,378.48 L69.80,378.47 L70.80,378.47 L71.80,378.46 L72.80,378.46 L73.80,378.45 L74.80,378.45 L75.80,378.44 L76.80,378.43 L77.80,378.43 L78.80,378.42 L79.80,378.41 L80.80,378.41 L81.80,378.40 L82.80,378.39 L83.80,378.38 L84.80,378.37 L85.80,378.36 L86.80,378.36 L87.80,378.35 L88.80,378.34 L89.80,378.33 L90.80,378.32 L91.80,378.31 L92.80,378.30 L93.80,378.29 L94.80,378.28 L95.80,378.26 L96.80,378.25 L97.80,378.24 L98.80,378.23 L99.80,378.22 L100.80,378.21 L101.80,378.19 L102.80,378.18 L103.80,378.17 L104.80,378.16 L105.80,378.14 L106.80,378.13 L107.80,378.12 L108.80,378.11 L109.80,378.09 L110.80,378.08 L111.80,378.07 L112.80,378.05 L113.80,378.04 L114.80,378.02 L115.80,378.01 L116.80,378.00 L117.80,377.98 L118.80,377.97 L119.80,377.95 L120.80,377.94 L121.80,377.92 L122.80,377.91 L123.80,377.89 L124.80,377.88 L125.80,377.86 L126.80,377.85 L127.80,377.83 L128.80,377.82 L129.80,377.80 L130.80,377.79 L131.80,377.77 L132.80,377.75 L133.80,377.74 L134.80,377.72 L135.80,377.70 L136.80,377.68 L137.80,377.66 L138.80,377.63 L139.80,377.61 L140.80,377.59 L141.80,377.56 L142.80,377.54 L143.80,377.51 L144.80,377.49 L145.80,377.46 L146.80,377.43 L147.80,377.40 L148.80,377.37 L149.80,377.34 L150.80,377.31 L151.80,377.28 L152.80,377.25 L153.80,377.22 L154.80,377.19 L155.80,377.15 L156.80,377.12 L157.80,377.09 L158.80,377.05 L159.80,377.02 L160.80,376.98 L161.80,376.94 L162.80,376.91 L163.80,376.87 L164.80,376.83 L165.80,376.79 L166.80,376.75 L167.80,376.72 L168.80,376.68 L169.80,376.64 L170.80,376.60 L171.80,376.55 L172.80,376.51 L173.80,376.47 L174.80,376.43 L175.80,376.39 L176.80,376.35 L177.80,376.30 L178.80,376.26 L179.80,376.22 L180.80,376.17 L181.80,376.13 L182.80,376.08 L183.80,376.04 L184.80,376.00 L185.80,375.95 L186.80,375.90 L187.80,375.86 L188.80,375.81 L189.80,375.76 L190.80,375.71 L191.80,375.66 L192.80,375.60 L193.80,375.54 L194.80,375.49 L195.80,375.42 L196.80,375.36 L197.80,375.29 L198.80,375.23 L199.80,375.15 L200.80,375.08 L201.80,375.00 L202.80,374.92 L203.80,374.83 L204.80,374.73 L205.80,374.62 L206.80,374.51 L207.80,374.39 L208.80,374.26 L209.80,374.12 L210.80,373.98 L211.80,373.83 L212.80,373.68 L213.80,373.52 L214.80,373.36 L215.80,373.20 L216.80,373.03 L217.80,372.87 L218.80,372.70 L219.80,372.53 L220.80,372.37 L221.80,372.20 L222.80,372.03 L223.80,371.86 L224.80,371.68 L225.80,371.50 L226.80,371.32 L227.80,371.13 L228.80,370.94 L229.80,370.75 L230.80,370.55 L231.80,370.35 L232.80,370.14 L233.80,369.94 L234.80,369.73 L235.80,369.51 L236.80,369.30 L237.80,369.08 L238.80,368.86 L239.80,368.63 L240.80,368.40 L241.80,368.17 L242.80,367.93 L243.80,367.69 L244.80,367.44 L245.80,367.19 L246.80,366.93 L247.80,366.67 L248.80,366.41 L249.80,366.14 L250.80,365.87 L251.80,365.60 L252.80,365.32 L253.80,365.03 L254.80,364.75 L255.80,364.46 L256.80,364.17 L257.80,363.87 L258.80,363.57 L259.80,363.26 L260.80,362.95 L261.80,362.63 L262.80,362.30 L263.80,361.98 L264.80,361.64 L265.80,361.30 L266.80,360.96 L267.80,360.61 L268.80,360.26 L269.80,359.91 L270.80,359.55 L271.80,359.19 L272.80,358.83 L273.80,358.47 L274.80,358.10 L275.80,357.74 L276.80,357.37 L277.80,356.99 L278.80,356.61 L279.80,356.23 L280.80,355.84 L281.80,355.45 L282.80,355.05 L283.80,354.65 L284.80,354.25 L285.80,353.85 L286.80,353.44 L287.80,353.03 L288.80,352.62 L289.80,352.21 L290.80,351.80 L291.80,351.39 L292.80,350.98 L293.80,350.56 L294.80,350.15 L295.80,349.74 L296.80,349.33 L297.80,348.91 L298.80,348.49 L299.80,348.07 L300.80,347.65 L301.80,347.23 L302.80,346.80 L303.80,346.37 L304.80,345.95 L305.80,345.52 L306.80,345.09" fill="none" stroke="#000" stroke-width="2.0" stroke-linejoin="round" />
<path d="M57.80,378.90 L58.80,378.89 L59.80,378.88 L60.80,378.88 L61.80,378.87 L62.80,378.86 L63.80,378.86 L64.80,378.85 L65.80,378.84 L66.80,378.83 L67.80,378.83 L68.80,378.82 L69.80,378.81 L70.80,378.80 L71.80,378.79 L72.80,378.78 L73.80,378.78 L74.80,378.77 L75.80,378.76 L76.80,378.75 L77.80,378.74 L78.80,378.73 L79.80,378.72 L80.80,378.71 L81.80,378.70 L82.80,378.69 L83.80,378.68 L84.80,378.67 L85.80,378.66 L86.80,378.65 L87.80,378.63 L88.80,378.62 L89.80,378.61 L90.80,378.60 L91.80,378.59 L92.80,378.58 L93.80,378.56 L94.80,378.55 L95.80,378.54 L96.80,378.53 L97.80,378.51 L98.80,378.50 L99.80,378.49 L100.80,378.48 L101.80,378.46 L102.80,378.45 L103.80,378.44 L104.80,378.42 L105.80,378.41 L106.80,378.39 L107.80,378.38 L108.80,378.37 L109.80,378.35 L110.80,378.34 L111.80,378.32 L112.80,378.31 L113.80,378.29 L114.80,378.28 L115.80,378.26 L116.80,378.25 L117.80,378.23 L118.80,378.22 L119.80,378.20 L120.80,378.19 L121.80,378.17 L122.80,378.16 L123.80,378.14 L124.80,378.13 L125.80,378.11 L126.80,378.09 L127.80,378.08 L128.80,378.06 L129.80,378.04 L130.80,378.03 L131.80,378.01 L132.80,378.00 L133.80,377.98 L134.80,377.96 L135.80,377.95 L136.80,377.93 L137.80,377.91 L138.80,377.89 L139.80,377.88 L140.80,377.86 L141.80,377.84 L142.80,377.83 L143.80,377.81 L144.80,377.79 L145.80,377.77 L146.80,377.76 L147.80,377.74 L148.80,377.72 L149.80,377.70 L150.80,377.69 L151.80,377.67 L152.80,377.65 L153.80,377.63 L154.80,377.61 L155.80,377.60 L156.80,377.58 L157.80,377.56 L158.80,377.54 L159.80,377.52 L160.80,377.50 L161.80,377.49 L162.80,377.47 L163.80,377.45 L164.80,377.43 L165.80,377.41 L166.80,377.39 L167.80,377.38 L168.80,377.36 L169.80,377.34 L170.80,377.32 L171.80,377.30 L172.80,377.28 L173.80,377.25 L174.80,377.23 L175.80,377.21 L176.80,377.19 L177.80,377.17 L178.80,377.14 L179.80,377.12 L180.80,377.10 L181.80,377.07 L182.80,377.05 L183.80,377.02 L184.80,377.00 L185.80,376.97 L186.80,376.95 L187.80,376.92 L188.80,376.90 L189.80,376.87 L190.80,376.84 L191.80,376.82 L192.80,376.79 L193.80,376.77 L194.80,376.74 L195.80,376.71 L196.80,376.68 L197.80,376.66 L198.80,376.63 L199.80,376.60 L200.80,376.57 L201.80,376.55 L202.80,376.52 L203.80,376.49 L204.80,376.46 L205.80,376.43 L206.80,376.41 L207.80,376.38 L208.80,376.35 L209.80,376.32 L210.80,376.29 L211.80,376.26 L212.80,376.24 L213.80,376.21 L214.80,376.18 L215.80,376.15 L216.80,376.12 L217.80,376.10 L218.80,376.07 L219.80,376.04 L220.80,376.01 L221.80,375.98 L222.80,375.96 L223.80,375.93 L224.80,375.90 L225.80,375.88 L226.80,375.85 L227.80,375.82 L228.80,375.80 L229.80,375.77 L230.80,375.75 L231.80,375.72 L232.80,375.70 L233.80,375.67 L234.80,375.64 L235.80,375.62 L236.80,375.59 L237.80,375.56 L238.80,375.54 L239.80,375.51 L240.80,375.48 L241.80,375.45 L242.80,375.43 L243.80,375.40 L244.80,375.37 L245.80,375.34 L246.80,375.30 L247.80,375.27 L248.80,375.24 L249.80,375.20 L250.80,375.17 L251.80,375.13 L252.80,375.10 L253.80,375.06 L254.80,375.02 L255.80,374.98 L256.80,374.94 L257.80,374.90 L258.80,374.85 L259.80,374.80 L260.80,374.76 L261.80,374.71 L262.80,374.65 L263.80,374.60 L264.80,374.54 L265.80,374.48 L266.80,374.42 L267.80,374.36 L268.80,374.29 L269.80,374.22 L270.80,374.15 L271.80,374.08 L272.80,374.01 L273.80,373.93 L274.80,373.85 L275.80,373.77 L276.80,373.69 L277.80,373.60 L278.80,373.52 L279.80,373.43 L280.80,373.34 L281.80,373.24 L282.80,373.15 L283.80,373.05 L284.80,372.95 L285.80,372.84 L286.80,372.72 L287.80,372.60 L288.80,372.47 L289.80,372.34 L290.80,372.20 L291.80,372.06 L292.80,371.91 L293.80,371.76 L294.80,371.60 L295.80,371.44 L296.80,371.28 L297.80,371.11 L298.80,370.93 L299.80,370.76 L300.80,370.58 L301.80,370.39 L302.80,370.21 L303.80,370.02 L304.80,369.83 L305.80,369.64 L306.80,369.44" fill="none" stroke="#3b55a6" stroke-width="2.0" stroke-linejoin="round" />
<path d="M57.80,407.34 L58.80,406.87 L59.80,406.41 L60.80,405.93 L61.80,405.45 L62.80,404.96 L63.80,404.46 L64.80,403.95 L65.80,403.44 L66.80,402.93 L67.80,402.41 L68.80,401.87 L69.80,401.31 L70.80,400.74 L71.80,400.15 L72.80,399.56 L73.80,398.96 L74.80,398.37 L75.80,397.79 L76.80,397.22 L77.80,396.67 L78.80,396.15 L79.80,395.64 L80.80,395.14 L81.80,394.63 L82.80,394.13 L83.80,393.63 L84.80,393.14 L85.80,392.66 L86.80,392.19 L87.80,391.73 L88.80,391.29 L89.80,390.87 L90.80,390.47 L91.80,390.09 L92.80,389.73 L93.80,389.40 L94.80,389.09 L95.80,388.79 L96.80,388.49 L97.80,388.21 L98.80,387.94 L99.80,387.68 L100.80,387.43 L101.80,387.19 L102.80,386.95 L103.80,386.72 L104.80,386.50 L105.80,386.28 L106.80,386.07 L107.80,385.86 L108.80,385.66 L109.80,385.46 L110.80,385.27 L111.80,385.08 L112.80,384.89 L113.80,384.72 L114.80,384.54 L115.80,384.37 L116.80,384.20 L117.80,384.04 L118.80,383.88 L119.80,383.73 L120.80,383.58 L121.80,383.43 L122.80,383.29 L123.80,383.15 L124.80,383.01 L125.80,382.88 L126.80,382.75 L127.80,382.63 L128.80,382.51 L129.80,382.39 L130.80,382.28 L131.80,382.16 L132.80,382.04 L133.80,381.93 L134.80,381.81 L135.80,381.69 L136.80,381.56 L137.80,381.44 L138.80,381.31 L139.80,381.18 L140.80,381.06 L141.80,380.93 L142.80,380.80 L143.80,380.68 L144.80,380.55 L145.80,380.42 L146.80,380.29 L147.80,380.16 L148.80,380.02 L149.80,379.89 L150.80,379.75 L151.80,379.61 L152.80,379.47 L153.80,379.33 L154.80,379.19 L155.80,379.04 L156.80,378.90 L157.80,378.75 L158.80,378.60 L159.80,378.45 L160.80,378.29 L161.80,378.14 L162.80,377.99 L163.80,377.83 L164.80,377.67 L165.80,377.51 L166.80,377.35 L167.80,377.19 L168.80,377.03 L169.80,376.86 L170.80,376.70 L171.80,376.53 L172.80,376.36 L173.80,376.19 L174.80,376.02 L175.80,375.85 L176.80,375.67 L177.80,375.50 L178.80,375.32 L179.80,375.14 L180.80,374.96 L181.80,374.77 L182.80,374.58 L183.80,374.40 L184.80,374.20 L185.80,374.01 L186.80,373.82 L187.80,373.62 L188.80,373.42 L189.80,373.22 L190.80,373.02 L191.80,372.81 L192.80,372.61 L193.80,372.40 L194.80,372.19 L195.80,371.98 L196.80,371.77 L197.80,371.56 L198.80,371.35 L199.80,371.14 L200.80,370.93 L201.80,370.71 L202.80,370.50 L203.80,370.28 L204.80,370.05 L205.80,369.82 L206.80,369.59 L207.80,369.34 L208.80,369.09 L209.80,368.83 L210.80,368.56 L211.80,368.29 L212.80,368.00 L213.80,367.70 L214.80,367.39 L215.80,367.08 L216.80,366.75 L217.80,366.42 L218.80,366.08 L219.80,365.74 L220.80,365.39 L221.80,365.03 L222.80,364.67 L223.80,364.31 L224.80,363.94 L225.80,363.56 L226.80,363.18 L227.80,362.80 L228.80,362.41 L229.80,362.01 L230.80,361.60 L231.80,361.18 L232.80,360.76 L233.80,360.33 L234.80,359.89 L235.80,359.44 L236.80,358.98 L237.80,358.52 L238.80,358.04 L239.80,357.55 L240.80,357.05 L241.80,356.54 L242.80,356.02 L243.80,355.48 L244.80,354.93 L245.80,354.37 L246.80,353.79 L247.80,353.21 L248.80,352.62 L249.80,352.01 L250.80,351.40 L251.80,350.77 L252.80,350.14 L253.80,349.49 L254.80,348.84 L255.80,348.17 L256.80,347.48 L257.80,346.78 L258.80,346.06 L259.80,345.33 L260.80,344.59 L261.80,343.83 L262.80,343.07 L263.80,342.29 L264.80,341.51 L265.80,340.72 L266.80,339.93 L267.80,339.12 L268.80,338.32 L269.80,337.51 L270.80,336.68 L271.80,335.85 L272.80,335.00 L273.80,334.15 L274.80,333.29 L275.80,332.41 L276.80,331.53 L277.80,330.64 L278.80,329.74 L279.80,328.84 L280.80,327.92 L281.80,327.00 L282.80,326.07 L283.80,325.13 L284.80,324.17 L285.80,323.18 L286.80,322.18 L287.80,321.17 L288.80,320.15 L289.80,319.12 L290.80,318.10 L291.80,317.09 L292.80,316.08 L293.80,315.09 L294.80,314.12 L295.80,313.15 L296.80,312.18 L297.80,311.22 L298.80,310.27 L299.80,309.32 L300.80,308.37 L301.80,307.43 L302.80,306.49 L303.80,305.56 L304.80,304.63 L305.80,303.70 L306.80,302.78" fill="none" stroke="#bf4c9f" stroke-width="2.0" stroke-linejoin="round" />
</g>
<rect x="426.4" y="281.5" width="248.80000000000007" height="191.39999999999998" fill="none" stroke="#262626" stroke-width="1.8"/>
<line x1="422.40" y1="281.50" x2="426.40" y2="281.50" stroke="#262626" stroke-width="1.8" />
<text transform="translate(419.60,286.35) scale(1.0,1.04)" font-size="14.75" text-anchor="end" fill="#000" >3</text>
<line x1="422.40" y1="313.40" x2="426.40" y2="313.40" stroke="#262626" stroke-width="1.8" />
<text transform="translate(419.60,318.25) scale(1.0,1.04)" font-size="14.75" text-anchor="end" fill="#000" >2</text>
<line x1="422.40" y1="345.30" x2="426.40" y2="345.30" stroke="#262626" stroke-width="1.8" />
<text transform="translate(419.60,350.15) scale(1.0,1.04)" font-size="14.75" text-anchor="end" fill="#000" >1</text>
<line x1="422.40" y1="377.20" x2="426.40" y2="377.20" stroke="#262626" stroke-width="1.8" />
<text transform="translate(419.60,382.05) scale(1.0,1.04)" font-size="14.75" text-anchor="end" fill="#000" >0</text>
<line x1="422.40" y1="409.10" x2="426.40" y2="409.10" stroke="#262626" stroke-width="1.8" />
<text transform="translate(419.60,413.95) scale(1.0,1.04)" font-size="14.75" text-anchor="end" fill="#000" >-1</text>
<line x1="422.40" y1="441.00" x2="426.40" y2="441.00" stroke="#262626" stroke-width="1.8" />
<text transform="translate(419.60,445.85) scale(1.0,1.04)" font-size="14.75" text-anchor="end" fill="#000" >-2</text>
<line x1="422.40" y1="472.90" x2="426.40" y2="472.90" stroke="#262626" stroke-width="1.8" />
<text transform="translate(419.60,477.75) scale(1.0,1.04)" font-size="14.75" text-anchor="end" fill="#000" >-3</text>
<line x1="423.90" y1="297.45" x2="426.40" y2="297.45" stroke="#262626" stroke-width="1.8" />
<line x1="423.90" y1="329.35" x2="426.40" y2="329.35" stroke="#262626" stroke-width="1.8" />
<line x1="423.90" y1="361.25" x2="426.40" y2="361.25" stroke="#262626" stroke-width="1.8" />
<line x1="423.90" y1="393.15" x2="426.40" y2="393.15" stroke="#262626" stroke-width="1.8" />
<line x1="423.90" y1="425.05" x2="426.40" y2="425.05" stroke="#262626" stroke-width="1.8" />
<line x1="423.90" y1="456.95" x2="426.40" y2="456.95" stroke="#262626" stroke-width="1.8" />
<line x1="451.28" y1="472.90" x2="451.28" y2="476.90" stroke="#262626" stroke-width="1.8" />
<text transform="translate(451.28,491.20) scale(1.0,1.04)" font-size="14.75" text-anchor="middle" fill="#000" >-4</text>
<line x1="501.04" y1="472.90" x2="501.04" y2="476.90" stroke="#262626" stroke-width="1.8" />
<text transform="translate(501.04,491.20) scale(1.0,1.04)" font-size="14.75" text-anchor="middle" fill="#000" >-2</text>
<line x1="550.80" y1="472.90" x2="550.80" y2="476.90" stroke="#262626" stroke-width="1.8" />
<text transform="translate(550.80,491.20) scale(1.0,1.04)" font-size="14.75" text-anchor="middle" fill="#000" >0</text>
<line x1="600.56" y1="472.90" x2="600.56" y2="476.90" stroke="#262626" stroke-width="1.8" />
<text transform="translate(600.56,491.20) scale(1.0,1.04)" font-size="14.75" text-anchor="middle" fill="#000" >2</text>
<line x1="650.32" y1="472.90" x2="650.32" y2="476.90" stroke="#262626" stroke-width="1.8" />
<text transform="translate(650.32,491.20) scale(1.0,1.04)" font-size="14.75" text-anchor="middle" fill="#000" >4</text>
<line x1="426.40" y1="472.90" x2="426.40" y2="475.40" stroke="#262626" stroke-width="1.8" />
<line x1="476.16" y1="472.90" x2="476.16" y2="475.40" stroke="#262626" stroke-width="1.8" />
<line x1="525.92" y1="472.90" x2="525.92" y2="475.40" stroke="#262626" stroke-width="1.8" />
<line x1="575.68" y1="472.90" x2="575.68" y2="475.40" stroke="#262626" stroke-width="1.8" />
<line x1="625.44" y1="472.90" x2="625.44" y2="475.40" stroke="#262626" stroke-width="1.8" />
<line x1="675.20" y1="472.90" x2="675.20" y2="475.40" stroke="#262626" stroke-width="1.8" />
<text transform="translate(399.70,371.30) rotate(-90) scale(1.0,1.09)" font-size="15.4" text-anchor="middle" fill="#000" >Current (nA)</text>
<text transform="translate(547.50,505.00)" font-size="15.5" text-anchor="middle" fill="#000" >Bias (V)</text>
<text transform="translate(366.50,288.30)" font-size="21" text-anchor="start" fill="#000" >d</text>
<line x1="432.60" y1="293.90" x2="470.00" y2="293.90" stroke="#000" stroke-width="2.3" />
<text transform="translate(472.30,299.00) scale(1,1.06)" font-size="15.6" fill="#000" font-family="Liberation Sans, sans-serif" font-weight="bold">D-Tip<tspan font-size="10.6" dy="5.3" dx="0.5">0</tspan></text>
<line x1="432.60" y1="318.40" x2="470.00" y2="318.40" stroke="#3b55a6" stroke-width="2.3" />
<text transform="translate(472.30,323.50) scale(1,1.06)" font-size="15.6" fill="#000" font-family="Liberation Sans, sans-serif" font-weight="bold">D-Tip<tspan font-size="10.6" dy="4.2" dx="0.5">up</tspan></text>
<line x1="432.60" y1="343.00" x2="470.00" y2="343.00" stroke="#bf4c9f" stroke-width="2.3" />
<text transform="translate(472.30,348.10) scale(1,1.06)" font-size="15.6" fill="#000" font-family="Liberation Sans, sans-serif" font-weight="bold">D-Tip<tspan font-size="10.6" dy="5.3" dx="0.5">down</tspan></text>
<g clip-path="url(#clipd)">
<path d="M426.40,378.50 L427.20,378.50 L428.00,378.50 L428.80,378.50 L429.60,378.50 L430.40,378.50 L431.20,378.50 L432.00,378.50 L432.80,378.50 L433.60,378.50 L434.40,378.50 L435.20,378.50 L436.00,378.50 L436.80,378.49 L437.60,378.49 L438.40,378.49 L439.20,378.49 L440.00,378.49 L440.80,378.49 L441.60,378.49 L442.40,378.49 L443.20,378.49 L444.00,378.49 L444.80,378.48 L445.60,378.48 L446.40,378.48 L447.20,378.48 L448.00,378.48 L448.80,378.48 L449.60,378.48 L450.40,378.47 L451.20,378.47 L452.00,378.47 L452.80,378.47 L453.60,378.47 L454.40,378.47 L455.20,378.46 L456.00,378.46 L456.80,378.46 L457.60,378.46 L458.40,378.46 L459.20,378.45 L460.00,378.45 L460.80,378.45 L461.60,378.45 L462.40,378.45 L463.20,378.44 L464.00,378.44 L464.80,378.44 L465.60,378.44 L466.40,378.43 L467.20,378.43 L468.00,378.43 L468.80,378.43 L469.60,378.42 L470.40,378.42 L471.20,378.42 L472.00,378.42 L472.80,378.41 L473.60,378.41 L474.40,378.41 L475.20,378.40 L476.00,378.40 L476.80,378.40 L477.60,378.40 L478.40,378.39 L479.20,378.39 L480.00,378.39 L480.80,378.38 L481.60,378.38 L482.40,378.38 L483.20,378.37 L484.00,378.37 L484.80,378.37 L485.60,378.36 L486.40,378.36 L487.20,378.36 L488.00,378.35 L488.80,378.35 L489.60,378.35 L490.40,378.34 L491.20,378.34 L492.00,378.34 L492.80,378.33 L493.60,378.33 L494.40,378.33 L495.20,378.32 L496.00,378.32 L496.80,378.32 L497.60,378.31 L498.40,378.31 L499.20,378.30 L500.00,378.30 L500.80,378.30 L501.60,378.29 L502.40,378.29 L503.20,378.29 L504.00,378.28 L504.80,378.28 L505.60,378.27 L506.40,378.27 L507.20,378.27 L508.00,378.26 L508.80,378.26 L509.60,378.25 L510.40,378.25 L511.20,378.25 L512.00,378.24 L512.80,378.24 L513.60,378.23 L514.40,378.23 L515.20,378.23 L516.00,378.22 L516.80,378.22 L517.60,378.21 L518.40,378.21 L519.20,378.20 L520.00,378.20 L520.80,378.20 L521.60,378.19 L522.40,378.19 L523.20,378.18 L524.00,378.18 L524.80,378.17 L525.60,378.17 L526.40,378.16 L527.20,378.16 L528.00,378.16 L528.80,378.15 L529.60,378.15 L530.40,378.14 L531.20,378.14 L532.00,378.13 L532.80,378.12 L533.60,378.12 L534.40,378.11 L535.20,378.11 L536.00,378.10 L536.80,378.10 L537.60,378.09 L538.40,378.08 L539.20,378.08 L540.00,378.07 L540.80,378.06 L541.60,378.06 L542.40,378.05 L543.20,378.04 L544.00,378.03 L544.80,378.03 L545.60,378.02 L546.40,378.01 L547.20,378.00 L548.00,377.99 L548.80,377.98 L549.60,377.97 L550.40,377.97 L551.20,377.96 L552.00,377.95 L552.80,377.94 L553.60,377.93 L554.40,377.91 L555.20,377.90 L556.00,377.89 L556.80,377.88 L557.60,377.87 L558.40,377.86 L559.20,377.84 L560.00,377.83 L560.80,377.82 L561.60,377.81 L562.40,377.79 L563.20,377.78 L564.00,377.76 L564.80,377.75 L565.60,377.73 L566.40,377.72 L567.20,377.70 L568.00,377.69 L568.80,377.67 L569.60,377.65 L570.40,377.64 L571.20,377.62 L572.00,377.60 L572.80,377.58 L573.60,377.55 L574.40,377.52 L575.20,377.48 L576.00,377.43 L576.80,377.38 L577.60,377.33 L578.40,377.27 L579.20,377.21 L580.00,377.14 L580.80,377.06 L581.60,376.99 L582.40,376.91 L583.20,376.82 L584.00,376.74 L584.80,376.65 L585.60,376.56 L586.40,376.46 L587.20,376.36 L588.00,376.26 L588.80,376.16 L589.60,376.06 L590.40,375.95 L591.20,375.85 L592.00,375.74 L592.80,375.63 L593.60,375.53 L594.40,375.42 L595.20,375.31 L596.00,375.20 L596.80,375.09 L597.60,374.99 L598.40,374.88 L599.20,374.76 L600.00,374.64 L600.80,374.52 L601.60,374.39 L602.40,374.26 L603.20,374.12 L604.00,373.98 L604.80,373.84 L605.60,373.69 L606.40,373.54 L607.20,373.39 L608.00,373.24 L608.80,373.08 L609.60,372.92 L610.40,372.75 L611.20,372.59 L612.00,372.42 L612.80,372.25 L613.60,372.08 L614.40,371.91 L615.20,371.73 L616.00,371.56 L616.80,371.38 L617.60,371.19 L618.40,371.00 L619.20,370.81 L620.00,370.62 L620.80,370.42 L621.60,370.21 L622.40,370.00 L623.20,369.79 L624.00,369.58 L624.80,369.36 L625.60,369.15 L626.40,368.92 L627.20,368.70 L628.00,368.47 L628.80,368.24 L629.60,368.01 L630.40,367.78 L631.20,367.55 L632.00,367.31 L632.80,367.07 L633.60,366.83 L634.40,366.59 L635.20,366.35 L636.00,366.11 L636.80,365.87 L637.60,365.63 L638.40,365.39 L639.20,365.14 L640.00,364.90 L640.80,364.65 L641.60,364.41 L642.40,364.16 L643.20,363.91 L644.00,363.66 L644.80,363.40 L645.60,363.15 L646.40,362.89 L647.20,362.63 L648.00,362.37 L648.80,362.10 L649.60,361.83 L650.40,361.56 L651.20,361.29 L652.00,361.01 L652.80,360.73 L653.60,360.45 L654.40,360.16 L655.20,359.87 L656.00,359.57 L656.80,359.28 L657.60,358.97 L658.40,358.67 L659.20,358.36 L660.00,358.04 L660.80,357.72 L661.60,357.39 L662.40,357.06 L663.20,356.72 L664.00,356.37 L664.80,356.02 L665.60,355.66 L666.40,355.30 L667.20,354.93 L668.00,354.56 L668.80,354.18 L669.60,353.80 L670.40,353.41 L671.20,353.02 L672.00,352.63 L672.80,352.23 L673.60,351.83 L674.40,351.42 L675.20,351.01" fill="none" stroke="#000" stroke-width="2.0" stroke-linejoin="round" />
<path d="M426.40,386.81 L426.90,386.70 L427.40,386.59 L427.90,386.48 L428.40,386.37 L428.90,386.26 L429.40,386.15 L429.90,386.04 L430.40,385.93 L430.90,385.83 L431.40,385.72 L431.90,385.62 L432.40,385.52 L432.90,385.41 L433.40,385.31 L433.90,385.21 L434.40,385.11 L434.90,385.02 L435.40,384.92 L435.90,384.83 L436.40,384.73 L436.90,384.64 L437.40,384.55 L437.90,384.46 L438.40,384.37 L438.90,384.28 L439.40,384.20 L439.90,384.11 L440.40,384.03 L440.90,383.95 L441.40,383.87 L441.90,383.79 L442.40,383.71 L442.90,383.63 L443.40,383.55 L443.90,383.48 L444.40,383.40 L444.90,383.32 L445.40,383.24 L445.90,383.17 L446.40,383.09 L446.90,383.01 L447.40,382.94 L447.90,382.86 L448.40,382.79 L448.90,382.72 L449.40,382.65 L449.90,382.57 L450.40,382.50 L450.90,382.43 L451.40,382.36 L451.90,382.30 L452.40,382.23 L452.90,382.16 L453.40,382.10 L453.90,382.03 L454.40,381.97 L454.90,381.91 L455.40,381.84 L455.90,381.78 L456.40,381.72 L456.90,381.67 L457.40,381.61 L457.90,381.55 L458.40,381.50 L458.90,381.44 L459.40,381.39 L459.90,381.34 L460.40,381.29 L460.90,381.24 L461.40,381.20 L461.90,381.15 L462.40,381.11 L462.90,381.07 L463.40,381.02 L463.90,380.98 L464.40,380.94 L464.90,380.90 L465.40,380.86 L465.90,380.82 L466.40,380.77 L466.90,380.73 L467.40,380.69 L467.90,380.65 L468.40,380.61 L468.90,380.58 L469.40,380.54 L469.90,380.50 L470.40,380.46 L470.90,380.42 L471.40,380.38 L471.90,380.35 L472.40,380.31 L472.90,380.27 L473.40,380.24 L473.90,380.20 L474.40,380.16 L474.90,380.13 L475.40,380.09 L475.90,380.06 L476.40,380.03 L476.90,379.99 L477.40,379.96 L477.90,379.92 L478.40,379.89 L478.90,379.86 L479.40,379.83 L479.90,379.80 L480.40,379.76 L480.90,379.73 L481.40,379.70 L481.90,379.67 L482.40,379.64 L482.90,379.61 L483.40,379.58 L483.90,379.56 L484.40,379.53 L484.90,379.50 L485.40,379.47 L485.90,379.45 L486.40,379.42 L486.90,379.39 L487.40,379.37 L487.90,379.34 L488.40,379.32 L488.90,379.29 L489.40,379.27 L489.90,379.25 L490.40,379.22 L490.90,379.20 L491.40,379.18 L491.90,379.16 L492.40,379.14 L492.90,379.11 L493.40,379.09 L493.90,379.07 L494.40,379.05 L494.90,379.04 L495.40,379.02 L495.90,379.00 L496.40,378.98 L496.90,378.97 L497.40,378.95 L497.90,378.93 L498.40,378.92 L498.90,378.90 L499.40,378.89 L499.90,378.87 L500.40,378.86 L500.90,378.85 L501.40,378.83 L501.90,378.82 L502.40,378.81 L502.90,378.79 L503.40,378.78 L503.90,378.77 L504.40,378.76 L504.90,378.75 L505.40,378.74 L505.90,378.72 L506.40,378.71 L506.90,378.70 L507.40,378.69 L507.90,378.68 L508.40,378.67 L508.90,378.66 L509.40,378.65 L509.90,378.64 L510.40,378.63 L510.90,378.62 L511.40,378.61 L511.90,378.60 L512.40,378.59 L512.90,378.58 L513.40,378.58 L513.90,378.57 L514.40,378.56 L514.90,378.55 L515.40,378.54 L515.90,378.53 L516.40,378.52 L516.90,378.52 L517.40,378.51 L517.90,378.50 L518.40,378.49 L518.90,378.48 L519.40,378.48 L519.90,378.47 L520.40,378.46 L520.90,378.45 L521.40,378.44 L521.90,378.44 L522.40,378.43 L522.90,378.42 L523.40,378.41 L523.90,378.40 L524.40,378.40 L524.90,378.39 L525.40,378.38 L525.90,378.37 L526.40,378.36 L526.90,378.36 L527.40,378.35 L527.90,378.34 L528.40,378.33 L528.90,378.32 L529.40,378.31 L529.90,378.31 L530.40,378.30 L530.90,378.29 L531.40,378.28 L531.90,378.27 L532.40,378.26 L532.90,378.25 L533.40,378.24 L533.90,378.23 L534.40,378.22 L534.90,378.21 L535.40,378.20 L535.90,378.19 L536.40,378.18 L536.90,378.17 L537.40,378.16 L537.90,378.15 L538.40,378.14 L538.90,378.13 L539.40,378.13 L539.90,378.12 L540.40,378.11 L540.90,378.10 L541.40,378.09 L541.90,378.08 L542.40,378.07 L542.90,378.06 L543.40,378.06 L543.90,378.05 L544.40,378.04 L544.90,378.03 L545.40,378.02 L545.90,378.02 L546.40,378.01 L546.90,378.00 L547.40,377.99 L547.90,377.98 L548.40,377.97 L548.90,377.97 L549.40,377.96 L549.90,377.95 L550.40,377.94 L550.90,377.93 L551.40,377.92 L551.90,377.92 L552.40,377.91 L552.90,377.90 L553.40,377.89 L553.90,377.88 L554.40,377.87 L554.90,377.86 L555.40,377.85 L555.90,377.84 L556.40,377.83 L556.90,377.82 L557.40,377.81 L557.90,377.80 L558.40,377.79 L558.90,377.78 L559.40,377.77 L559.90,377.76 L560.40,377.75 L560.90,377.74 L561.40,377.72 L561.90,377.71 L562.40,377.70 L562.90,377.69 L563.40,377.67 L563.90,377.66 L564.40,377.65 L564.90,377.63 L565.40,377.62 L565.90,377.61 L566.40,377.59 L566.90,377.58 L567.40,377.56 L567.90,377.54 L568.40,377.53 L568.90,377.51 L569.40,377.49 L569.90,377.48 L570.40,377.46 L570.90,377.44 L571.40,377.42 L571.90,377.40 L572.40,377.38 L572.90,377.36 L573.40,377.34 L573.90,377.31 L574.40,377.29 L574.90,377.26 L575.40,377.23 L575.90,377.19 L576.40,377.16 L576.90,377.13 L577.40,377.09 L577.90,377.05 L578.40,377.01 L578.90,376.97 L579.40,376.92 L579.90,376.88 L580.40,376.83 L580.90,376.78 L581.40,376.73 L581.90,376.68 L582.40,376.62 L582.90,376.57 L583.40,376.51 L583.90,376.45 L584.40,376.40 L584.90,376.33 L585.40,376.27 L585.90,376.21 L586.40,376.14 L586.90,376.08 L587.40,376.01 L587.90,375.94 L588.40,375.87 L588.90,375.79 L589.40,375.72 L589.90,375.65 L590.40,375.57 L590.90,375.49 L591.40,375.37 L591.90,375.31 L592.40,375.20 L592.90,375.09 L593.40,374.97 L593.90,374.93 L594.40,374.79 L594.90,374.68 L595.40,374.42 L595.90,374.22 L596.40,373.98 L596.90,373.88 L597.40,373.43 L597.90,373.71 L598.40,373.48 L598.90,373.28 L599.40,373.20 L599.90,372.86 L600.40,372.73 L600.90,372.65 L601.40,372.06 L601.90,372.37 L602.40,372.01 L602.90,371.87 L603.40,371.33 L603.90,371.11 L604.40,371.43 L604.90,370.86 L605.40,370.57 L605.90,370.57 L606.40,370.67 L606.90,369.53 L607.40,370.11 L607.90,369.81 L608.40,369.76 L608.90,369.03 L609.40,369.07 L609.90,369.35 L610.40,368.73 L610.90,368.21 L611.40,367.96 L611.90,367.68 L612.40,367.91 L612.90,367.60 L613.40,367.08 L613.90,367.24 L614.40,366.38 L614.90,365.81 L615.40,367.04 L615.90,365.96 L616.40,366.41 L616.90,365.63 L617.40,365.16 L617.90,365.16 L618.40,364.35 L618.90,363.92 L619.40,363.90 L619.90,363.61 L620.40,363.87 L620.90,364.35 L621.40,362.79 L621.90,362.28 L622.40,362.72 L622.90,362.54 L623.40,362.58 L623.90,361.50 L624.40,361.63 L624.90,361.15 L625.40,360.05 L625.90,360.52 L626.40,359.49 L626.90,360.00 L627.40,359.47 L627.90,359.22 L628.40,360.07 L628.90,359.82 L629.40,359.01 L629.90,358.53 L630.40,357.61 L630.90,358.09 L631.40,357.72 L631.90,356.67 L632.40,355.74 L632.90,356.04 L633.40,355.81 L633.90,356.02 L634.40,354.93 L634.90,354.44 L635.40,354.68 L635.90,354.35 L636.40,354.42 L636.90,354.27 L637.40,353.00 L637.90,351.66 L638.40,352.16 L638.90,351.67 L639.40,351.72 L639.90,350.04 L640.40,350.52 L640.90,350.48 L641.40,349.87 L641.90,349.92 L642.40,349.45 L642.90,349.08 L643.40,349.18 L643.90,348.91 L644.40,348.48 L644.90,347.65 L645.40,346.97 L645.90,346.66 L646.40,346.13 L646.90,345.15 L647.40,345.07 L647.90,344.97 L648.40,343.97 L648.90,343.01 L649.40,343.19 L649.90,342.27 L650.40,341.29 L650.90,341.25 L651.40,340.30 L651.90,340.53 L652.40,339.84 L652.90,339.56 L653.40,339.61 L653.90,339.23 L654.40,338.14 L654.90,336.38 L655.40,336.30 L655.90,335.54 L656.40,335.89 L656.90,335.89 L657.40,335.06 L657.90,334.35 L658.40,333.67 L658.90,333.10 L659.40,331.99 L659.90,331.84 L660.40,330.79 L660.90,329.63 L661.40,329.44 L661.90,329.70 L662.40,328.50 L662.90,326.96 L663.40,327.53 L663.90,326.81 L664.40,326.32 L664.90,325.28 L665.40,325.00 L665.90,325.05 L666.40,323.56 L666.90,323.34 L667.40,322.69 L667.90,321.50 L668.40,321.22 L668.90,320.92 L669.40,319.72 L669.90,319.91 L670.40,318.45 L670.90,318.69 L671.40,318.08 L671.90,317.30 L672.40,316.15 L672.90,315.38 L673.40,314.04 L673.90,314.27 L674.40,313.87 L674.90,313.66" fill="none" stroke="#3b55a6" stroke-width="2.0" stroke-linejoin="round" />
<path d="M426.40,378.50 L427.20,378.50 L428.00,378.50 L428.80,378.50 L429.60,378.50 L430.40,378.50 L431.20,378.50 L432.00,378.50 L432.80,378.50 L433.60,378.50 L434.40,378.50 L435.20,378.50 L436.00,378.50 L436.80,378.50 L437.60,378.50 L438.40,378.49 L439.20,378.49 L440.00,378.49 L440.80,378.49 L441.60,378.49 L442.40,378.49 L443.20,378.49 L444.00,378.49 L444.80,378.49 L445.60,378.49 L446.40,378.49 L447.20,378.48 L448.00,378.48 L448.80,378.48 L449.60,378.48 L450.40,378.48 L451.20,378.48 L452.00,378.48 L452.80,378.48 L453.60,378.47 L454.40,378.47 L455.20,378.47 L456.00,378.47 L456.80,378.47 L457.60,378.47 L458.40,378.46 L459.20,378.46 L460.00,378.46 L460.80,378.46 L461.60,378.46 L462.40,378.45 L463.20,378.45 L464.00,378.45 L464.80,378.45 L465.60,378.45 L466.40,378.44 L467.20,378.44 L468.00,378.44 L468.80,378.44 L469.60,378.43 L470.40,378.43 L471.20,378.43 L472.00,378.43 L472.80,378.42 L473.60,378.42 L474.40,378.42 L475.20,378.42 L476.00,378.41 L476.80,378.41 L477.60,378.41 L478.40,378.40 L479.20,378.40 L480.00,378.40 L480.80,378.39 L481.60,378.39 L482.40,378.39 L483.20,378.38 L484.00,378.38 L484.80,378.38 L485.60,378.37 L486.40,378.37 L487.20,378.37 L488.00,378.36 L488.80,378.36 L489.60,378.36 L490.40,378.35 L491.20,378.35 L492.00,378.34 L492.80,378.34 L493.60,378.34 L494.40,378.33 L495.20,378.33 L496.00,378.32 L496.80,378.32 L497.60,378.32 L498.40,378.31 L499.20,378.31 L500.00,378.30 L500.80,378.30 L501.60,378.29 L502.40,378.29 L503.20,378.28 L504.00,378.28 L504.80,378.27 L505.60,378.27 L506.40,378.26 L507.20,378.26 L508.00,378.25 L508.80,378.25 L509.60,378.24 L510.40,378.24 L511.20,378.23 L512.00,378.23 L512.80,378.22 L513.60,378.22 L514.40,378.21 L515.20,378.21 L516.00,378.20 L516.80,378.19 L517.60,378.19 L518.40,378.18 L519.20,378.18 L520.00,378.17 L520.80,378.17 L521.60,378.16 L522.40,378.15 L523.20,378.15 L524.00,378.14 L524.80,378.13 L525.60,378.13 L526.40,378.12 L527.20,378.12 L528.00,378.11 L528.80,378.10 L529.60,378.10 L530.40,378.09 L531.20,378.08 L532.00,378.08 L532.80,378.07 L533.60,378.06 L534.40,378.05 L535.20,378.05 L536.00,378.04 L536.80,378.03 L537.60,378.03 L538.40,378.02 L539.20,378.01 L540.00,378.00 L540.80,378.00 L541.60,377.99 L542.40,377.98 L543.20,377.97 L544.00,377.96 L544.80,377.96 L545.60,377.95 L546.40,377.94 L547.20,377.93 L548.00,377.92 L548.80,377.92 L549.60,377.91 L550.40,377.90 L551.20,377.89 L552.00,377.88 L552.80,377.87 L553.60,377.87 L554.40,377.86 L555.20,377.85 L556.00,377.84 L556.80,377.83 L557.60,377.82 L558.40,377.81 L559.20,377.80 L560.00,377.80 L560.80,377.79 L561.60,377.78 L562.40,377.77 L563.20,377.76 L564.00,377.75 L564.80,377.74 L565.60,377.73 L566.40,377.72 L567.20,377.71 L568.00,377.70 L568.80,377.69 L569.60,377.68 L570.40,377.67 L571.20,377.66 L572.00,377.65 L572.80,377.64 L573.60,377.63 L574.40,377.62 L575.20,377.61 L576.00,377.60 L576.80,377.59 L577.60,377.58 L578.40,377.57 L579.20,377.56 L580.00,377.54 L580.80,377.53 L581.60,377.52 L582.40,377.51 L583.20,377.50 L584.00,377.49 L584.80,377.48 L585.60,377.47 L586.40,377.46 L587.20,377.44 L588.00,377.43 L588.80,377.42 L589.60,377.41 L590.40,377.40 L591.20,377.38 L592.00,377.37 L592.80,377.35 L593.60,377.32 L594.40,377.30 L595.20,377.27 L596.00,377.24 L596.80,377.21 L597.60,377.18 L598.40,377.14 L599.20,377.10 L600.00,377.06 L600.80,377.02 L601.60,376.97 L602.40,376.93 L603.20,376.88 L604.00,376.83 L604.80,376.77 L605.60,376.72 L606.40,376.67 L607.20,376.61 L608.00,376.55 L608.80,376.49 L609.60,376.43 L610.40,376.36 L611.20,376.30 L612.00,376.24 L612.80,376.17 L613.60,376.10 L614.40,376.03 L615.20,375.96 L616.00,375.89 L616.80,375.82 L617.60,375.75 L618.40,375.68 L619.20,375.60 L620.00,375.53 L620.80,375.46 L621.60,375.38 L622.40,375.31 L623.20,375.23 L624.00,375.16 L624.80,375.08 L625.60,375.00 L626.40,374.93 L627.20,374.85 L628.00,374.77 L628.80,374.69 L629.60,374.60 L630.40,374.51 L631.20,374.42 L632.00,374.32 L632.80,374.22 L633.60,374.12 L634.40,374.01 L635.20,373.90 L636.00,373.79 L636.80,373.68 L637.60,373.56 L638.40,373.45 L639.20,373.33 L640.00,373.21 L640.80,373.08 L641.60,372.96 L642.40,372.83 L643.20,372.71 L644.00,372.58 L644.80,372.45 L645.60,372.32 L646.40,372.19 L647.20,372.05 L648.00,371.92 L648.80,371.79 L649.60,371.65 L650.40,371.52 L651.20,371.38 L652.00,371.25 L652.80,371.12 L653.60,370.98 L654.40,370.84 L655.20,370.70 L656.00,370.56 L656.80,370.42 L657.60,370.27 L658.40,370.12 L659.20,369.98 L660.00,369.82 L660.80,369.67 L661.60,369.52 L662.40,369.36 L663.20,369.21 L664.00,369.05 L664.80,368.89 L665.60,368.73 L666.40,368.56 L667.20,368.40 L668.00,368.23 L668.80,368.06 L669.60,367.90 L670.40,367.73 L671.20,367.55 L672.00,367.38 L672.80,367.21 L673.60,367.03 L674.40,366.86 L675.20,366.68" fill="none" stroke="#bf4c9f" stroke-width="2.0" stroke-linejoin="round" />
</g>
<rect x="57.8" y="522.3" width="249.2" height="191.5" fill="none" stroke="#262626" stroke-width="1.8"/>
<line x1="53.80" y1="522.30" x2="57.80" y2="522.30" stroke="#262626" stroke-width="1.8" />
<text transform="translate(51.80,527.15) scale(1.0,1.04)" font-size="14.75" text-anchor="end" fill="#000" >3</text>
<line x1="53.80" y1="554.22" x2="57.80" y2="554.22" stroke="#262626" stroke-width="1.8" />
<text transform="translate(51.80,559.06) scale(1.0,1.04)" font-size="14.75" text-anchor="end" fill="#000" >2</text>
<line x1="53.80" y1="586.13" x2="57.80" y2="586.13" stroke="#262626" stroke-width="1.8" />
<text transform="translate(51.80,590.98) scale(1.0,1.04)" font-size="14.75" text-anchor="end" fill="#000" >1</text>
<line x1="53.80" y1="618.05" x2="57.80" y2="618.05" stroke="#262626" stroke-width="1.8" />
<text transform="translate(51.80,622.90) scale(1.0,1.04)" font-size="14.75" text-anchor="end" fill="#000" >0</text>
<line x1="53.80" y1="649.97" x2="57.80" y2="649.97" stroke="#262626" stroke-width="1.8" />
<text transform="translate(51.80,654.81) scale(1.0,1.04)" font-size="14.75" text-anchor="end" fill="#000" >-1</text>
<line x1="53.80" y1="681.88" x2="57.80" y2="681.88" stroke="#262626" stroke-width="1.8" />
<text transform="translate(51.80,686.73) scale(1.0,1.04)" font-size="14.75" text-anchor="end" fill="#000" >-2</text>
<line x1="53.80" y1="713.80" x2="57.80" y2="713.80" stroke="#262626" stroke-width="1.8" />
<text transform="translate(51.80,718.65) scale(1.0,1.04)" font-size="14.75" text-anchor="end" fill="#000" >-3</text>
<line x1="55.30" y1="538.26" x2="57.80" y2="538.26" stroke="#262626" stroke-width="1.8" />
<line x1="55.30" y1="570.17" x2="57.80" y2="570.17" stroke="#262626" stroke-width="1.8" />
<line x1="55.30" y1="602.09" x2="57.80" y2="602.09" stroke="#262626" stroke-width="1.8" />
<line x1="55.30" y1="634.01" x2="57.80" y2="634.01" stroke="#262626" stroke-width="1.8" />
<line x1="55.30" y1="665.92" x2="57.80" y2="665.92" stroke="#262626" stroke-width="1.8" />
<line x1="55.30" y1="697.84" x2="57.80" y2="697.84" stroke="#262626" stroke-width="1.8" />
<line x1="82.72" y1="713.80" x2="82.72" y2="717.80" stroke="#262626" stroke-width="1.8" />
<text transform="translate(82.72,731.80) scale(1.0,1.04)" font-size="14.75" text-anchor="middle" fill="#000" >-4</text>
<line x1="132.56" y1="713.80" x2="132.56" y2="717.80" stroke="#262626" stroke-width="1.8" />
<text transform="translate(132.56,731.80) scale(1.0,1.04)" font-size="14.75" text-anchor="middle" fill="#000" >-2</text>
<line x1="182.40" y1="713.80" x2="182.40" y2="717.80" stroke="#262626" stroke-width="1.8" />
<text transform="translate(182.40,731.80) scale(1.0,1.04)" font-size="14.75" text-anchor="middle" fill="#000" >0</text>
<line x1="232.24" y1="713.80" x2="232.24" y2="717.80" stroke="#262626" stroke-width="1.8" />
<text transform="translate(232.24,731.80) scale(1.0,1.04)" font-size="14.75" text-anchor="middle" fill="#000" >2</text>
<line x1="282.08" y1="713.80" x2="282.08" y2="717.80" stroke="#262626" stroke-width="1.8" />
<text transform="translate(282.08,731.80) scale(1.0,1.04)" font-size="14.75" text-anchor="middle" fill="#000" >4</text>
<line x1="57.80" y1="713.80" x2="57.80" y2="716.30" stroke="#262626" stroke-width="1.8" />
<line x1="107.64" y1="713.80" x2="107.64" y2="716.30" stroke="#262626" stroke-width="1.8" />
<line x1="157.48" y1="713.80" x2="157.48" y2="716.30" stroke="#262626" stroke-width="1.8" />
<line x1="207.32" y1="713.80" x2="207.32" y2="716.30" stroke="#262626" stroke-width="1.8" />
<line x1="257.16" y1="713.80" x2="257.16" y2="716.30" stroke="#262626" stroke-width="1.8" />
<line x1="307.00" y1="713.80" x2="307.00" y2="716.30" stroke="#262626" stroke-width="1.8" />
<text transform="translate(31.40,615.30) rotate(-90) scale(1.0,1.09)" font-size="15.4" text-anchor="middle" fill="#000" >Current (nA)</text>
<text transform="translate(177.30,746.70)" font-size="15.5" text-anchor="middle" fill="#000" >Bias (V)</text>
<text transform="translate(8.00,529.90)" font-size="21" text-anchor="start" fill="#000" >e</text>
<line x1="63.60" y1="536.40" x2="99.00" y2="536.40" stroke="#000" stroke-width="1.6" />
<text transform="translate(102.90,541.90) scale(1,1.06)" font-size="14.8" fill="#000" font-family="Liberation Sans, sans-serif" font-weight="bold">DL-Tip<tspan font-size="10.1" dy="5.3" dx="0.5">0</tspan></text>
<line x1="63.60" y1="562.00" x2="99.00" y2="562.00" stroke="#3b55a6" stroke-width="1.6" />
<text transform="translate(102.90,567.50) scale(1,1.06)" font-size="14.8" fill="#000" font-family="Liberation Sans, sans-serif" font-weight="bold">DL-Tip<tspan font-size="10.1" dy="4.2" dx="0.5">up</tspan></text>
<line x1="63.60" y1="586.40" x2="99.00" y2="586.40" stroke="#bf4c9f" stroke-width="1.6" />
<text transform="translate(102.90,591.90) scale(1,1.06)" font-size="14.8" fill="#000" font-family="Liberation Sans, sans-serif" font-weight="bold">DL-Tip<tspan font-size="10.1" dy="5.3" dx="0.5">down</tspan></text>
<g clip-path="url(#clipe)">
<path d="M57.80,620.09 L58.80,620.08 L59.80,620.07 L60.80,620.06 L61.80,620.05 L62.80,620.04 L63.80,620.03 L64.80,620.02 L65.80,620.01 L66.80,619.99 L67.80,619.98 L68.80,619.97 L69.80,619.96 L70.80,619.95 L71.80,619.94 L72.80,619.92 L73.80,619.91 L74.80,619.90 L75.80,619.89 L76.80,619.88 L77.80,619.86 L78.80,619.85 L79.80,619.84 L80.80,619.83 L81.80,619.81 L82.80,619.80 L83.80,619.79 L84.80,619.77 L85.80,619.76 L86.80,619.75 L87.80,619.73 L88.80,619.72 L89.80,619.71 L90.80,619.69 L91.80,619.68 L92.80,619.67 L93.80,619.65 L94.80,619.64 L95.80,619.62 L96.80,619.61 L97.80,619.60 L98.80,619.58 L99.80,619.57 L100.80,619.55 L101.80,619.54 L102.80,619.52 L103.80,619.51 L104.80,619.49 L105.80,619.48 L106.80,619.46 L107.80,619.45 L108.80,619.43 L109.80,619.42 L110.80,619.40 L111.80,619.39 L112.80,619.37 L113.80,619.36 L114.80,619.34 L115.80,619.33 L116.80,619.31 L117.80,619.30 L118.80,619.28 L119.80,619.26 L120.80,619.25 L121.80,619.23 L122.80,619.22 L123.80,619.20 L124.80,619.18 L125.80,619.17 L126.80,619.15 L127.80,619.14 L128.80,619.12 L129.80,619.10 L130.80,619.09 L131.80,619.07 L132.80,619.05 L133.80,619.04 L134.80,619.02 L135.80,619.00 L136.80,618.99 L137.80,618.97 L138.80,618.95 L139.80,618.94 L140.80,618.92 L141.80,618.90 L142.80,618.89 L143.80,618.87 L144.80,618.85 L145.80,618.84 L146.80,618.82 L147.80,618.80 L148.80,618.78 L149.80,618.77 L150.80,618.75 L151.80,618.73 L152.80,618.72 L153.80,618.70 L154.80,618.68 L155.80,618.66 L156.80,618.65 L157.80,618.63 L158.80,618.61 L159.80,618.59 L160.80,618.57 L161.80,618.56 L162.80,618.54 L163.80,618.52 L164.80,618.50 L165.80,618.48 L166.80,618.47 L167.80,618.45 L168.80,618.43 L169.80,618.41 L170.80,618.39 L171.80,618.37 L172.80,618.35 L173.80,618.33 L174.80,618.31 L175.80,618.29 L176.80,618.27 L177.80,618.25 L178.80,618.23 L179.80,618.21 L180.80,618.19 L181.80,618.17 L182.80,618.15 L183.80,618.13 L184.80,618.10 L185.80,618.08 L186.80,618.06 L187.80,618.04 L188.80,618.02 L189.80,617.99 L190.80,617.97 L191.80,617.95 L192.80,617.92 L193.80,617.90 L194.80,617.88 L195.80,617.85 L196.80,617.83 L197.80,617.80 L198.80,617.78 L199.80,617.75 L200.80,617.73 L201.80,617.70 L202.80,617.67 L203.80,617.65 L204.80,617.62 L205.80,617.59 L206.80,617.57 L207.80,617.54 L208.80,617.51 L209.80,617.48 L210.80,617.45 L211.80,617.43 L212.80,617.40 L213.80,617.37 L214.80,617.34 L215.80,617.31 L216.80,617.27 L217.80,617.24 L218.80,617.21 L219.80,617.17 L220.80,617.13 L221.80,617.09 L222.80,617.04 L223.80,617.00 L224.80,616.95 L225.80,616.91 L226.80,616.86 L227.80,616.81 L228.80,616.76 L229.80,616.71 L230.80,616.66 L231.80,616.60 L232.80,616.55 L233.80,616.49 L234.80,616.44 L235.80,616.38 L236.80,616.32 L237.80,616.26 L238.80,616.20 L239.80,616.14 L240.80,616.08 L241.80,616.01 L242.80,615.95 L243.80,615.88 L244.80,615.82 L245.80,615.75 L246.80,615.68 L247.80,615.62 L248.80,615.55 L249.80,615.48 L250.80,615.41 L251.80,615.33 L252.80,615.26 L253.80,615.19 L254.80,615.12 L255.80,615.04 L256.80,614.97 L257.80,614.89 L258.80,614.82 L259.80,614.74 L260.80,614.66 L261.80,614.59 L262.80,614.51 L263.80,614.43 L264.80,614.35 L265.80,614.27 L266.80,614.20 L267.80,614.12 L268.80,614.04 L269.80,613.95 L270.80,613.87 L271.80,613.79 L272.80,613.71 L273.80,613.62 L274.80,613.53 L275.80,613.45 L276.80,613.36 L277.80,613.27 L278.80,613.18 L279.80,613.09 L280.80,613.00 L281.80,612.90 L282.80,612.81 L283.80,612.72 L284.80,612.62 L285.80,612.52 L286.80,612.43 L287.80,612.33 L288.80,612.23 L289.80,612.13 L290.80,612.03 L291.80,611.93 L292.80,611.83 L293.80,611.72 L294.80,611.62 L295.80,611.52 L296.80,611.41 L297.80,611.31 L298.80,611.20 L299.80,611.09 L300.80,610.98 L301.80,610.87 L302.80,610.77 L303.80,610.66 L304.80,610.55 L305.80,610.43 L306.80,610.32" fill="none" stroke="#3b55a6" stroke-width="1.5" stroke-linejoin="round" />
<path d="M57.80,619.79 L58.80,619.78 L59.80,619.77 L60.80,619.76 L61.80,619.75 L62.80,619.74 L63.80,619.73 L64.80,619.72 L65.80,619.71 L66.80,619.69 L67.80,619.68 L68.80,619.67 L69.80,619.66 L70.80,619.65 L71.80,619.64 L72.80,619.62 L73.80,619.61 L74.80,619.60 L75.80,619.59 L76.80,619.58 L77.80,619.56 L78.80,619.55 L79.80,619.54 L80.80,619.53 L81.80,619.51 L82.80,619.50 L83.80,619.49 L84.80,619.47 L85.80,619.46 L86.80,619.45 L87.80,619.43 L88.80,619.42 L89.80,619.41 L90.80,619.39 L91.80,619.38 L92.80,619.37 L93.80,619.35 L94.80,619.34 L95.80,619.32 L96.80,619.31 L97.80,619.30 L98.80,619.28 L99.80,619.27 L100.80,619.25 L101.80,619.24 L102.80,619.22 L103.80,619.21 L104.80,619.19 L105.80,619.18 L106.80,619.16 L107.80,619.15 L108.80,619.13 L109.80,619.12 L110.80,619.10 L111.80,619.09 L112.80,619.07 L113.80,619.06 L114.80,619.04 L115.80,619.03 L116.80,619.01 L117.80,619.00 L118.80,618.98 L119.80,618.96 L120.80,618.95 L121.80,618.93 L122.80,618.92 L123.80,618.90 L124.80,618.88 L125.80,618.87 L126.80,618.85 L127.80,618.84 L128.80,618.82 L129.80,618.80 L130.80,618.79 L131.80,618.77 L132.80,618.75 L133.80,618.74 L134.80,618.72 L135.80,618.70 L136.80,618.69 L137.80,618.67 L138.80,618.65 L139.80,618.64 L140.80,618.62 L141.80,618.60 L142.80,618.59 L143.80,618.57 L144.80,618.55 L145.80,618.54 L146.80,618.52 L147.80,618.50 L148.80,618.48 L149.80,618.47 L150.80,618.45 L151.80,618.43 L152.80,618.42 L153.80,618.40 L154.80,618.38 L155.80,618.36 L156.80,618.35 L157.80,618.33 L158.80,618.31 L159.80,618.29 L160.80,618.27 L161.80,618.26 L162.80,618.24 L163.80,618.22 L164.80,618.20 L165.80,618.18 L166.80,618.17 L167.80,618.15 L168.80,618.13 L169.80,618.11 L170.80,618.09 L171.80,618.07 L172.80,618.05 L173.80,618.03 L174.80,618.01 L175.80,617.99 L176.80,617.97 L177.80,617.95 L178.80,617.93 L179.80,617.91 L180.80,617.89 L181.80,617.87 L182.80,617.85 L183.80,617.83 L184.80,617.80 L185.80,617.78 L186.80,617.76 L187.80,617.74 L188.80,617.72 L189.80,617.69 L190.80,617.67 L191.80,617.65 L192.80,617.62 L193.80,617.60 L194.80,617.58 L195.80,617.55 L196.80,617.53 L197.80,617.50 L198.80,617.48 L199.80,617.45 L200.80,617.43 L201.80,617.40 L202.80,617.37 L203.80,617.35 L204.80,617.32 L205.80,617.29 L206.80,617.27 L207.80,617.24 L208.80,617.21 L209.80,617.18 L210.80,617.15 L211.80,617.13 L212.80,617.10 L213.80,617.07 L214.80,617.04 L215.80,617.01 L216.80,616.97 L217.80,616.94 L218.80,616.91 L219.80,616.87 L220.80,616.83 L221.80,616.79 L222.80,616.74 L223.80,616.70 L224.80,616.65 L225.80,616.61 L226.80,616.56 L227.80,616.51 L228.80,616.46 L229.80,616.41 L230.80,616.36 L231.80,616.30 L232.80,616.25 L233.80,616.19 L234.80,616.14 L235.80,616.08 L236.80,616.02 L237.80,615.96 L238.80,615.90 L239.80,615.84 L240.80,615.78 L241.80,615.71 L242.80,615.65 L243.80,615.58 L244.80,615.52 L245.80,615.45 L246.80,615.38 L247.80,615.32 L248.80,615.25 L249.80,615.18 L250.80,615.11 L251.80,615.03 L252.80,614.96 L253.80,614.89 L254.80,614.82 L255.80,614.74 L256.80,614.67 L257.80,614.59 L258.80,614.52 L259.80,614.44 L260.80,614.36 L261.80,614.29 L262.80,614.21 L263.80,614.13 L264.80,614.05 L265.80,613.97 L266.80,613.90 L267.80,613.82 L268.80,613.74 L269.80,613.65 L270.80,613.57 L271.80,613.49 L272.80,613.41 L273.80,613.32 L274.80,613.23 L275.80,613.15 L276.80,613.06 L277.80,612.97 L278.80,612.88 L279.80,612.79 L280.80,612.70 L281.80,612.60 L282.80,612.51 L283.80,612.42 L284.80,612.32 L285.80,612.22 L286.80,612.13 L287.80,612.03 L288.80,611.93 L289.80,611.83 L290.80,611.73 L291.80,611.63 L292.80,611.53 L293.80,611.42 L294.80,611.32 L295.80,611.22 L296.80,611.11 L297.80,611.01 L298.80,610.90 L299.80,610.79 L300.80,610.68 L301.80,610.57 L302.80,610.47 L303.80,610.36 L304.80,610.25 L305.80,610.13 L306.80,610.02" fill="none" stroke="#000" stroke-width="1.5" stroke-linejoin="round" />
<path d="M57.80,620.99 L58.80,620.97 L59.80,620.95 L60.80,620.93 L61.80,620.91 L62.80,620.89 L63.80,620.88 L64.80,620.86 L65.80,620.84 L66.80,620.82 L67.80,620.80 L68.80,620.78 L69.80,620.76 L70.80,620.74 L71.80,620.72 L72.80,620.70 L73.80,620.68 L74.80,620.66 L75.80,620.65 L76.80,620.63 L77.80,620.61 L78.80,620.59 L79.80,620.57 L80.80,620.55 L81.80,620.52 L82.80,620.50 L83.80,620.48 L84.80,620.46 L85.80,620.44 L86.80,620.42 L87.80,620.40 L88.80,620.38 L89.80,620.36 L90.80,620.34 L91.80,620.32 L92.80,620.30 L93.80,620.27 L94.80,620.25 L95.80,620.23 L96.80,620.21 L97.80,620.19 L98.80,620.17 L99.80,620.14 L100.80,620.12 L101.80,620.10 L102.80,620.08 L103.80,620.06 L104.80,620.03 L105.80,620.01 L106.80,619.99 L107.80,619.97 L108.80,619.94 L109.80,619.92 L110.80,619.90 L111.80,619.88 L112.80,619.85 L113.80,619.83 L114.80,619.81 L115.80,619.78 L116.80,619.76 L117.80,619.74 L118.80,619.71 L119.80,619.69 L120.80,619.67 L121.80,619.64 L122.80,619.62 L123.80,619.60 L124.80,619.57 L125.80,619.55 L126.80,619.52 L127.80,619.50 L128.80,619.48 L129.80,619.45 L130.80,619.43 L131.80,619.40 L132.80,619.38 L133.80,619.35 L134.80,619.33 L135.80,619.30 L136.80,619.28 L137.80,619.26 L138.80,619.23 L139.80,619.21 L140.80,619.18 L141.80,619.16 L142.80,619.14 L143.80,619.11 L144.80,619.09 L145.80,619.07 L146.80,619.05 L147.80,619.02 L148.80,619.00 L149.80,618.98 L150.80,618.96 L151.80,618.93 L152.80,618.91 L153.80,618.89 L154.80,618.87 L155.80,618.84 L156.80,618.82 L157.80,618.80 L158.80,618.78 L159.80,618.75 L160.80,618.73 L161.80,618.71 L162.80,618.69 L163.80,618.66 L164.80,618.64 L165.80,618.62 L166.80,618.59 L167.80,618.57 L168.80,618.55 L169.80,618.52 L170.80,618.50 L171.80,618.47 L172.80,618.45 L173.80,618.43 L174.80,618.40 L175.80,618.38 L176.80,618.35 L177.80,618.32 L178.80,618.30 L179.80,618.27 L180.80,618.25 L181.80,618.22 L182.80,618.19 L183.80,618.16 L184.80,618.14 L185.80,618.11 L186.80,618.08 L187.80,618.05 L188.80,618.02 L189.80,617.99 L190.80,617.96 L191.80,617.93 L192.80,617.90 L193.80,617.86 L194.80,617.83 L195.80,617.80 L196.80,617.77 L197.80,617.73 L198.80,617.70 L199.80,617.66 L200.80,617.63 L201.80,617.59 L202.80,617.55 L203.80,617.51 L204.80,617.48 L205.80,617.44 L206.80,617.40 L207.80,617.36 L208.80,617.32 L209.80,617.27 L210.80,617.23 L211.80,617.19 L212.80,617.15 L213.80,617.10 L214.80,617.06 L215.80,617.01 L216.80,616.96 L217.80,616.90 L218.80,616.84 L219.80,616.77 L220.80,616.70 L221.80,616.62 L222.80,616.54 L223.80,616.46 L224.80,616.38 L225.80,616.29 L226.80,616.20 L227.80,616.12 L228.80,616.03 L229.80,615.94 L230.80,615.86 L231.80,615.77 L232.80,615.67 L233.80,615.58 L234.80,615.49 L235.80,615.39 L236.80,615.30 L237.80,615.20 L238.80,615.10 L239.80,615.00 L240.80,614.90 L241.80,614.80 L242.80,614.70 L243.80,614.59 L244.80,614.49 L245.80,614.38 L246.80,614.28 L247.80,614.17 L248.80,614.06 L249.80,613.95 L250.80,613.84 L251.80,613.73 L252.80,613.61 L253.80,613.50 L254.80,613.39 L255.80,613.27 L256.80,613.15 L257.80,613.04 L258.80,612.92 L259.80,612.80 L260.80,612.68 L261.80,612.56 L262.80,612.44 L263.80,612.32 L264.80,612.20 L265.80,612.07 L266.80,611.95 L267.80,611.82 L268.80,611.70 L269.80,611.57 L270.80,611.44 L271.80,611.32 L272.80,611.18 L273.80,611.05 L274.80,610.92 L275.80,610.78 L276.80,610.65 L277.80,610.51 L278.80,610.37 L279.80,610.23 L280.80,610.09 L281.80,609.95 L282.80,609.81 L283.80,609.66 L284.80,609.52 L285.80,609.37 L286.80,609.22 L287.80,609.07 L288.80,608.92 L289.80,608.77 L290.80,608.62 L291.80,608.46 L292.80,608.31 L293.80,608.15 L294.80,607.99 L295.80,607.84 L296.80,607.68 L297.80,607.52 L298.80,607.36 L299.80,607.19 L300.80,607.03 L301.80,606.87 L302.80,606.70 L303.80,606.54 L304.80,606.37 L305.80,606.20 L306.80,606.03" fill="none" stroke="#bf4c9f" stroke-width="1.5" stroke-linejoin="round" />
</g>
<path d="M192.30,392.50 L195.30,390.30 L258.00,382.30 L258.00,384.50 Z" fill="#cfcfcf"/>
<path d="M192.30,392.50 L258.00,384.50 L258.00,389.10 L192.30,397.10 Z" fill="#a9a9a9"/>
<path d="M199.30,395.50 L217.70,395.50 L208.00,412.40 Z" fill="#c4c4c4"/>
<path d="M210.50,395.50 L217.70,395.50 L208.00,412.40 Z" fill="#b2b2b2"/>
<path d="M254.50,386.00 L254.50,401.00 M254.50,415.00 L254.50,444.80 L230.80,451.00" fill="none" stroke="#a8a8a8" stroke-width="1.1"/>
<path d="M250.30,422.90 L258.70,422.90 M251.90,424.70 L257.10,424.70" stroke="#8fb3ea" stroke-width="1.0"/>
<circle cx="254.50" cy="408.00" r="7.0" fill="#8db2ec"/>
<text x="254.50" y="411.90" font-size="11" text-anchor="middle" fill="#fff" font-family="Liberation Sans, sans-serif" font-weight="bold">A</text>
<path d="M219.40,396.10 L224.00,396.10 L224.00,404.50 L226.30,404.50 L221.70,412.00 L217.10,404.50 L219.40,404.50 Z" fill="#3f74c9"/>
<text x="225.60" y="406.30" font-size="10.2" fill="#000" font-family="Liberation Sans, sans-serif" font-weight="bold">down</text>
<rect x="188.80" y="449.70" width="42.00" height="3.90" fill="#96dcc0"/>
<path d="M220.45,445.31 L220.29,444.80 L220.02,444.29 L219.65,443.79 L219.19,443.31 L218.63,442.85 L217.98,442.41 L217.26,442.00 L216.46,441.62 L215.60,441.27 L214.69,440.96 L213.73,440.68 L212.74,440.43 L211.72,440.23 L210.70,440.07 L209.68,439.94 L208.66,439.86 L207.67,439.81 L206.71,439.80 L205.80,439.83 L204.94,439.89 L204.14,439.98 L203.42,440.10 L202.77,440.25 L202.21,440.42 L201.75,440.61 L201.38,440.82 L201.11,441.04 L200.95,441.27 L200.90,441.50" fill="none" stroke="#2a7a4f" stroke-width="3.2" stroke-linecap="round"/>
<path d="M220.45,436.65 L220.29,436.13 L220.02,435.62 L219.65,435.12 L219.19,434.64 L218.63,434.18 L217.98,433.75 L217.26,433.34 L216.46,432.95 L215.60,432.60 L214.69,432.29 L213.73,432.01 L212.74,431.77 L211.72,431.56 L210.70,431.40 L209.68,431.28 L208.66,431.19 L207.67,431.14 L206.71,431.13 L205.80,431.16 L204.94,431.22 L204.14,431.31 L203.42,431.44 L202.77,431.58 L202.21,431.76 L201.75,431.95 L201.38,432.15 L201.11,432.37 L200.95,432.60 L200.90,432.83" fill="none" stroke="#2a7a4f" stroke-width="3.2" stroke-linecap="round"/>
<path d="M220.45,427.98 L220.29,427.46 L220.02,426.95 L219.65,426.46 L219.19,425.98 L218.63,425.52 L217.98,425.08 L217.26,424.67 L216.46,424.29 L215.60,423.94 L214.69,423.62 L213.73,423.34 L212.74,423.10 L211.72,422.90 L210.70,422.73 L209.68,422.61 L208.66,422.52 L207.67,422.48 L206.71,422.47 L205.80,422.49 L204.94,422.55 L204.14,422.65 L203.42,422.77 L202.77,422.92 L202.21,423.09 L201.75,423.28 L201.38,423.49 L201.11,423.71 L200.95,423.93 L200.90,424.17" fill="none" stroke="#2a7a4f" stroke-width="3.2" stroke-linecap="round"/>
<path d="M210.70,451.60 L211.72,451.44 L212.74,451.23 L213.73,450.99 L214.69,450.71 L215.60,450.40 L216.46,450.05 L217.26,449.66 L217.98,449.25 L218.63,448.82 L219.19,448.36 L219.65,447.88 L220.02,447.38 L220.29,446.87 L220.45,446.35 L220.50,445.83" fill="none" stroke="#2f8a58" stroke-width="3.4" stroke-linecap="round"/>
<path d="M210.70,451.60 L211.72,451.44 L212.74,451.23 L213.73,450.99 L214.69,450.71 L215.60,450.40 L216.46,450.05 L217.26,449.66 L217.98,449.25 L218.63,448.82 L219.19,448.36 L219.65,447.88 L220.02,447.38 L220.29,446.87 L220.45,446.35 L220.50,445.83" fill="none" stroke="#6fd09c" stroke-width="1.8" stroke-linecap="round"/>
<path d="M200.95,441.73 L201.11,441.96 L201.38,442.18 L201.75,442.39 L202.21,442.58 L202.77,442.75 L203.42,442.90 L204.14,443.02 L204.94,443.11 L205.80,443.17 L206.71,443.20 L207.67,443.19 L208.66,443.14 L209.68,443.06 L210.70,442.93 L211.72,442.77 L212.74,442.57 L213.73,442.32 L214.69,442.04 L215.60,441.73 L216.46,441.38 L217.26,441.00 L217.98,440.59 L218.63,440.15 L219.19,439.69 L219.65,439.21 L220.02,438.71 L220.29,438.20 L220.45,437.69 L220.50,437.17" fill="none" stroke="#2f8a58" stroke-width="3.4" stroke-linecap="round"/>
<path d="M200.95,441.73 L201.11,441.96 L201.38,442.18 L201.75,442.39 L202.21,442.58 L202.77,442.75 L203.42,442.90 L204.14,443.02 L204.94,443.11 L205.80,443.17 L206.71,443.20 L207.67,443.19 L208.66,443.14 L209.68,443.06 L210.70,442.93 L211.72,442.77 L212.74,442.57 L213.73,442.32 L214.69,442.04 L215.60,441.73 L216.46,441.38 L217.26,441.00 L217.98,440.59 L218.63,440.15 L219.19,439.69 L219.65,439.21 L220.02,438.71 L220.29,438.20 L220.45,437.69 L220.50,437.17" fill="none" stroke="#6fd09c" stroke-width="1.8" stroke-linecap="round"/>
<path d="M200.95,433.07 L201.11,433.29 L201.38,433.51 L201.75,433.72 L202.21,433.91 L202.77,434.08 L203.42,434.23 L204.14,434.35 L204.94,434.45 L205.80,434.51 L206.71,434.53 L207.67,434.52 L208.66,434.48 L209.68,434.39 L210.70,434.27 L211.72,434.10 L212.74,433.90 L213.73,433.66 L214.69,433.38 L215.60,433.06 L216.46,432.71 L217.26,432.33 L217.98,431.92 L218.63,431.48 L219.19,431.02 L219.65,430.54 L220.02,430.05 L220.29,429.54 L220.45,429.02 L220.50,428.50" fill="none" stroke="#2f8a58" stroke-width="3.4" stroke-linecap="round"/>
<path d="M200.95,433.07 L201.11,433.29 L201.38,433.51 L201.75,433.72 L202.21,433.91 L202.77,434.08 L203.42,434.23 L204.14,434.35 L204.94,434.45 L205.80,434.51 L206.71,434.53 L207.67,434.52 L208.66,434.48 L209.68,434.39 L210.70,434.27 L211.72,434.10 L212.74,433.90 L213.73,433.66 L214.69,433.38 L215.60,433.06 L216.46,432.71 L217.26,432.33 L217.98,431.92 L218.63,431.48 L219.19,431.02 L219.65,430.54 L220.02,430.05 L220.29,429.54 L220.45,429.02 L220.50,428.50" fill="none" stroke="#6fd09c" stroke-width="1.8" stroke-linecap="round"/>
<path d="M200.95,424.40 L201.11,424.63 L201.38,424.85 L201.75,425.05 L202.21,425.24 L202.77,425.42 L203.42,425.56 L204.14,425.69 L204.94,425.78 L205.80,425.84 L206.71,425.87 L207.67,425.86 L208.66,425.81 L209.68,425.72 L210.70,425.60" fill="none" stroke="#2f8a58" stroke-width="3.4" stroke-linecap="round"/>
<path d="M200.95,424.40 L201.11,424.63 L201.38,424.85 L201.75,425.05 L202.21,425.24 L202.77,425.42 L203.42,425.56 L204.14,425.69 L204.94,425.78 L205.80,425.84 L206.71,425.87 L207.67,425.86 L208.66,425.81 L209.68,425.72 L210.70,425.60" fill="none" stroke="#6fd09c" stroke-width="1.8" stroke-linecap="round"/>
<line x1="210.70" y1="452.00" x2="210.70" y2="417.20" stroke="#222" stroke-width="1.1"/>
<path d="M208.50,418.00 L210.70,414.20 L212.90,418.00 Z" fill="#222"/>
<line x1="217.70" y1="425.20" x2="217.70" y2="436.50" stroke="#3a6fc4" stroke-width="1.6"/>
<path d="M215.30,431.00 L217.70,434.50 L220.10,431.00 Z" fill="#3a6fc4"/>
<circle cx="217.70" cy="425.20" r="3.8" fill="url(#gBlue)"/>
<ellipse cx="217.70" cy="425.20" rx="7.22" ry="2.09" fill="none" stroke="#111" stroke-width="0.8" transform="rotate(-8 217.70 425.20)"/>
<line x1="201.90" y1="436.10" x2="201.90" y2="449.40" stroke="#3a6fc4" stroke-width="1.6"/>
<path d="M199.50,443.90 L201.90,447.40 L204.30,443.90 Z" fill="#3a6fc4"/>
<circle cx="201.90" cy="436.10" r="3.8" fill="url(#gBlue)"/>
<ellipse cx="201.90" cy="436.10" rx="7.22" ry="2.09" fill="none" stroke="#111" stroke-width="0.8" transform="rotate(-8 201.90 436.10)"/>
<text x="246.30" y="456.20" font-size="11.3" fill="#8c8c8c" font-family="Liberation Sans, sans-serif" font-weight="bold">L-ZnO</text>
<path d="M559.60,391.50 L562.60,389.30 L625.30,382.80 L625.30,385.00 Z" fill="#cfcfcf"/>
<path d="M559.60,391.50 L625.30,385.00 L625.30,389.40 L559.60,395.90 Z" fill="#a9a9a9"/>
<path d="M566.60,395.80 L585.90,395.80 L575.90,412.20 Z" fill="#c4c4c4"/>
<path d="M578.25,395.80 L585.90,395.80 L575.90,412.20 Z" fill="#b2b2b2"/>
<path d="M621.80,387.00 L621.80,401.90 M621.80,415.50 L621.80,444.60 L596.40,450.20" fill="none" stroke="#a8a8a8" stroke-width="1.1"/>
<path d="M617.60,423.90 L626.00,423.90 M619.20,425.70 L624.40,425.70" stroke="#8fb3ea" stroke-width="1.0"/>
<circle cx="621.80" cy="408.70" r="6.8" fill="#8db2ec"/>
<text x="621.80" y="412.60" font-size="11" text-anchor="middle" fill="#fff" font-family="Liberation Sans, sans-serif" font-weight="bold">A</text>
<path d="M588.00,410.40 L592.60,410.40 L592.60,403.00 L594.90,403.00 L590.30,395.50 L585.70,403.00 L588.00,403.00 Z" fill="#3f74c9"/>
<text x="594.60" y="409.50" font-size="10.2" fill="#000" font-family="Liberation Sans, sans-serif" font-weight="bold">up</text>
<rect x="555.30" y="449.80" width="41.10" height="3.90" fill="#96dcc0"/>
<path d="M585.15,445.31 L584.99,444.80 L584.72,444.29 L584.35,443.79 L583.89,443.31 L583.33,442.85 L582.68,442.41 L581.96,442.00 L581.16,441.62 L580.30,441.27 L579.39,440.96 L578.43,440.68 L577.44,440.43 L576.42,440.23 L575.40,440.07 L574.38,439.94 L573.36,439.86 L572.37,439.81 L571.41,439.80 L570.50,439.83 L569.64,439.89 L568.84,439.98 L568.12,440.10 L567.47,440.25 L566.91,440.42 L566.45,440.61 L566.08,440.82 L565.81,441.04 L565.65,441.27 L565.60,441.50" fill="none" stroke="#2a7a4f" stroke-width="3.2" stroke-linecap="round"/>
<path d="M585.15,436.65 L584.99,436.13 L584.72,435.62 L584.35,435.12 L583.89,434.64 L583.33,434.18 L582.68,433.75 L581.96,433.34 L581.16,432.95 L580.30,432.60 L579.39,432.29 L578.43,432.01 L577.44,431.77 L576.42,431.56 L575.40,431.40 L574.38,431.28 L573.36,431.19 L572.37,431.14 L571.41,431.13 L570.50,431.16 L569.64,431.22 L568.84,431.31 L568.12,431.44 L567.47,431.58 L566.91,431.76 L566.45,431.95 L566.08,432.15 L565.81,432.37 L565.65,432.60 L565.60,432.83" fill="none" stroke="#2a7a4f" stroke-width="3.2" stroke-linecap="round"/>
<path d="M585.15,427.98 L584.99,427.46 L584.72,426.95 L584.35,426.46 L583.89,425.98 L583.33,425.52 L582.68,425.08 L581.96,424.67 L581.16,424.29 L580.30,423.94 L579.39,423.62 L578.43,423.34 L577.44,423.10 L576.42,422.90 L575.40,422.73 L574.38,422.61 L573.36,422.52 L572.37,422.48 L571.41,422.47 L570.50,422.49 L569.64,422.55 L568.84,422.65 L568.12,422.77 L567.47,422.92 L566.91,423.09 L566.45,423.28 L566.08,423.49 L565.81,423.71 L565.65,423.93 L565.60,424.17" fill="none" stroke="#2a7a4f" stroke-width="3.2" stroke-linecap="round"/>
<path d="M575.40,451.60 L576.42,451.44 L577.44,451.23 L578.43,450.99 L579.39,450.71 L580.30,450.40 L581.16,450.05 L581.96,449.66 L582.68,449.25 L583.33,448.82 L583.89,448.36 L584.35,447.88 L584.72,447.38 L584.99,446.87 L585.15,446.35 L585.20,445.83" fill="none" stroke="#2f8a58" stroke-width="3.4" stroke-linecap="round"/>
<path d="M575.40,451.60 L576.42,451.44 L577.44,451.23 L578.43,450.99 L579.39,450.71 L580.30,450.40 L581.16,450.05 L581.96,449.66 L582.68,449.25 L583.33,448.82 L583.89,448.36 L584.35,447.88 L584.72,447.38 L584.99,446.87 L585.15,446.35 L585.20,445.83" fill="none" stroke="#6fd09c" stroke-width="1.8" stroke-linecap="round"/>
<path d="M565.65,441.73 L565.81,441.96 L566.08,442.18 L566.45,442.39 L566.91,442.58 L567.47,442.75 L568.12,442.90 L568.84,443.02 L569.64,443.11 L570.50,443.17 L571.41,443.20 L572.37,443.19 L573.36,443.14 L574.38,443.06 L575.40,442.93 L576.42,442.77 L577.44,442.57 L578.43,442.32 L579.39,442.04 L580.30,441.73 L581.16,441.38 L581.96,441.00 L582.68,440.59 L583.33,440.15 L583.89,439.69 L584.35,439.21 L584.72,438.71 L584.99,438.20 L585.15,437.69 L585.20,437.17" fill="none" stroke="#2f8a58" stroke-width="3.4" stroke-linecap="round"/>
<path d="M565.65,441.73 L565.81,441.96 L566.08,442.18 L566.45,442.39 L566.91,442.58 L567.47,442.75 L568.12,442.90 L568.84,443.02 L569.64,443.11 L570.50,443.17 L571.41,443.20 L572.37,443.19 L573.36,443.14 L574.38,443.06 L575.40,442.93 L576.42,442.77 L577.44,442.57 L578.43,442.32 L579.39,442.04 L580.30,441.73 L581.16,441.38 L581.96,441.00 L582.68,440.59 L583.33,440.15 L583.89,439.69 L584.35,439.21 L584.72,438.71 L584.99,438.20 L585.15,437.69 L585.20,437.17" fill="none" stroke="#6fd09c" stroke-width="1.8" stroke-linecap="round"/>
<path d="M565.65,433.07 L565.81,433.29 L566.08,433.51 L566.45,433.72 L566.91,433.91 L567.47,434.08 L568.12,434.23 L568.84,434.35 L569.64,434.45 L570.50,434.51 L571.41,434.53 L572.37,434.52 L573.36,434.48 L574.38,434.39 L575.40,434.27 L576.42,434.10 L577.44,433.90 L578.43,433.66 L579.39,433.38 L580.30,433.06 L581.16,432.71 L581.96,432.33 L582.68,431.92 L583.33,431.48 L583.89,431.02 L584.35,430.54 L584.72,430.05 L584.99,429.54 L585.15,429.02 L585.20,428.50" fill="none" stroke="#2f8a58" stroke-width="3.4" stroke-linecap="round"/>
<path d="M565.65,433.07 L565.81,433.29 L566.08,433.51 L566.45,433.72 L566.91,433.91 L567.47,434.08 L568.12,434.23 L568.84,434.35 L569.64,434.45 L570.50,434.51 L571.41,434.53 L572.37,434.52 L573.36,434.48 L574.38,434.39 L575.40,434.27 L576.42,434.10 L577.44,433.90 L578.43,433.66 L579.39,433.38 L580.30,433.06 L581.16,432.71 L581.96,432.33 L582.68,431.92 L583.33,431.48 L583.89,431.02 L584.35,430.54 L584.72,430.05 L584.99,429.54 L585.15,429.02 L585.20,428.50" fill="none" stroke="#6fd09c" stroke-width="1.8" stroke-linecap="round"/>
<path d="M565.65,424.40 L565.81,424.63 L566.08,424.85 L566.45,425.05 L566.91,425.24 L567.47,425.42 L568.12,425.56 L568.84,425.69 L569.64,425.78 L570.50,425.84 L571.41,425.87 L572.37,425.86 L573.36,425.81 L574.38,425.72 L575.40,425.60" fill="none" stroke="#2f8a58" stroke-width="3.4" stroke-linecap="round"/>
<path d="M565.65,424.40 L565.81,424.63 L566.08,424.85 L566.45,425.05 L566.91,425.24 L567.47,425.42 L568.12,425.56 L568.84,425.69 L569.64,425.78 L570.50,425.84 L571.41,425.87 L572.37,425.86 L573.36,425.81 L574.38,425.72 L575.40,425.60" fill="none" stroke="#6fd09c" stroke-width="1.8" stroke-linecap="round"/>
<line x1="575.40" y1="452.00" x2="575.40" y2="417.80" stroke="#222" stroke-width="1.1"/>
<path d="M573.20,418.60 L575.40,414.80 L577.60,418.60 Z" fill="#222"/>
<line x1="566.60" y1="428.00" x2="566.60" y2="413.70" stroke="#e0474c" stroke-width="1.6"/>
<path d="M564.20,419.20 L566.60,415.70 L569.00,419.20 Z" fill="#e0474c"/>
<circle cx="566.60" cy="428.00" r="3.8" fill="url(#gRed)"/>
<ellipse cx="566.60" cy="428.00" rx="7.22" ry="2.09" fill="none" stroke="#111" stroke-width="0.8" transform="rotate(-8 566.60 428.00)"/>
<line x1="584.20" y1="443.70" x2="584.20" y2="429.40" stroke="#e0474c" stroke-width="1.6"/>
<path d="M581.80,434.90 L584.20,431.40 L586.60,434.90 Z" fill="#e0474c"/>
<circle cx="584.20" cy="443.70" r="3.8" fill="url(#gRed)"/>
<ellipse cx="584.20" cy="443.70" rx="7.22" ry="2.09" fill="none" stroke="#111" stroke-width="0.8" transform="rotate(-8 584.20 443.70)"/>
<text x="613.60" y="455.60" font-size="11.2" fill="#8c8c8c" font-family="Liberation Sans, sans-serif" font-weight="bold">D-ZnO</text>
<path d="M209.90,633.00 L212.90,630.80 L274.00,624.40 L274.00,626.60 Z" fill="#cfcfcf"/>
<path d="M209.90,633.00 L274.00,626.60 L274.00,630.80 L209.90,637.20 Z" fill="#a9a9a9"/>
<path d="M217.10,636.60 L233.60,636.60 L225.00,652.00 Z" fill="#c4c4c4"/>
<path d="M227.35,636.60 L233.60,636.60 L225.00,652.00 Z" fill="#b2b2b2"/>
<path d="M270.20,629.00 L270.20,642.10 M270.20,656.30 L270.20,685.20 L245.90,690.90" fill="none" stroke="#a8a8a8" stroke-width="1.1"/>
<path d="M266.00,664.00 L274.40,664.00 M267.60,665.80 L272.80,665.80" stroke="#8fb3ea" stroke-width="1.0"/>
<circle cx="270.20" cy="649.20" r="7.1" fill="#8db2ec"/>
<text x="270.20" y="653.10" font-size="11" text-anchor="middle" fill="#fff" font-family="Liberation Sans, sans-serif" font-weight="bold">A</text>
<path d="M208.50,637.80 L213.10,637.80 L213.10,646.40 L215.40,646.40 L210.80,653.90 L206.20,646.40 L208.50,646.40 Z" fill="#3f74c9"/>
<path d="M236.00,652.00 L240.60,652.00 L240.60,644.30 L242.90,644.30 L238.30,636.80 L233.70,644.30 L236.00,644.30 Z" fill="#3f74c9"/>
<text x="179.00" y="648.80" font-size="10.2" fill="#000" font-family="Liberation Sans, sans-serif" font-weight="bold">down</text>
<text x="243.40" y="648.80" font-size="10.2" fill="#000" font-family="Liberation Sans, sans-serif" font-weight="bold">up</text>
<rect x="204.20" y="690.50" width="42.70" height="3.30" fill="#96dcc0"/>
<path d="M237.43,685.49 L237.23,684.98 L236.89,684.49 L236.42,684.00 L235.83,683.53 L235.11,683.08 L234.29,682.66 L233.36,682.26 L232.35,681.89 L231.25,681.55 L230.08,681.24 L228.86,680.98 L227.60,680.75 L226.31,680.55 L225.00,680.40 L223.69,680.29 L222.40,680.21 L221.14,680.18 L219.92,680.18 L218.75,680.22 L217.65,680.29 L216.64,680.39 L215.71,680.52 L214.89,680.68 L214.17,680.87 L213.58,681.07 L213.11,681.29 L212.77,681.52 L212.57,681.76 L212.50,682.00" fill="none" stroke="#2a7a4f" stroke-width="3.2" stroke-linecap="round"/>
<path d="M237.43,677.49 L237.23,676.98 L236.89,676.49 L236.42,676.00 L235.83,675.53 L235.11,675.08 L234.29,674.66 L233.36,674.26 L232.35,673.89 L231.25,673.55 L230.08,673.24 L228.86,672.98 L227.60,672.75 L226.31,672.55 L225.00,672.40 L223.69,672.29 L222.40,672.21 L221.14,672.18 L219.92,672.18 L218.75,672.22 L217.65,672.29 L216.64,672.39 L215.71,672.52 L214.89,672.68 L214.17,672.87 L213.58,673.07 L213.11,673.29 L212.77,673.52 L212.57,673.76 L212.50,674.00" fill="none" stroke="#2a7a4f" stroke-width="3.2" stroke-linecap="round"/>
<path d="M237.43,669.49 L237.23,668.98 L236.89,668.49 L236.42,668.00 L235.83,667.53 L235.11,667.08 L234.29,666.66 L233.36,666.26 L232.35,665.89 L231.25,665.55 L230.08,665.24 L228.86,664.98 L227.60,664.75 L226.31,664.55 L225.00,664.40 L223.69,664.29 L222.40,664.21 L221.14,664.18 L219.92,664.18 L218.75,664.22 L217.65,664.29 L216.64,664.39 L215.71,664.52 L214.89,664.68 L214.17,664.87 L213.58,665.07 L213.11,665.29 L212.77,665.52 L212.57,665.76 L212.50,666.00" fill="none" stroke="#2a7a4f" stroke-width="3.2" stroke-linecap="round"/>
<path d="M225.00,691.60 L226.31,691.45 L227.60,691.25 L228.86,691.02 L230.08,690.76 L231.25,690.45 L232.35,690.11 L233.36,689.74 L234.29,689.34 L235.11,688.92 L235.83,688.47 L236.42,688.00 L236.89,687.51 L237.23,687.02 L237.43,686.51 L237.50,686.00" fill="none" stroke="#2f8a58" stroke-width="3.4" stroke-linecap="round"/>
<path d="M225.00,691.60 L226.31,691.45 L227.60,691.25 L228.86,691.02 L230.08,690.76 L231.25,690.45 L232.35,690.11 L233.36,689.74 L234.29,689.34 L235.11,688.92 L235.83,688.47 L236.42,688.00 L236.89,687.51 L237.23,687.02 L237.43,686.51 L237.50,686.00" fill="none" stroke="#6fd09c" stroke-width="1.8" stroke-linecap="round"/>
<path d="M212.57,682.24 L212.77,682.48 L213.11,682.71 L213.58,682.93 L214.17,683.13 L214.89,683.32 L215.71,683.48 L216.64,683.61 L217.65,683.71 L218.75,683.78 L219.92,683.82 L221.14,683.82 L222.40,683.79 L223.69,683.71 L225.00,683.60 L226.31,683.45 L227.60,683.25 L228.86,683.02 L230.08,682.76 L231.25,682.45 L232.35,682.11 L233.36,681.74 L234.29,681.34 L235.11,680.92 L235.83,680.47 L236.42,680.00 L236.89,679.51 L237.23,679.02 L237.43,678.51 L237.50,678.00" fill="none" stroke="#2f8a58" stroke-width="3.4" stroke-linecap="round"/>
<path d="M212.57,682.24 L212.77,682.48 L213.11,682.71 L213.58,682.93 L214.17,683.13 L214.89,683.32 L215.71,683.48 L216.64,683.61 L217.65,683.71 L218.75,683.78 L219.92,683.82 L221.14,683.82 L222.40,683.79 L223.69,683.71 L225.00,683.60 L226.31,683.45 L227.60,683.25 L228.86,683.02 L230.08,682.76 L231.25,682.45 L232.35,682.11 L233.36,681.74 L234.29,681.34 L235.11,680.92 L235.83,680.47 L236.42,680.00 L236.89,679.51 L237.23,679.02 L237.43,678.51 L237.50,678.00" fill="none" stroke="#6fd09c" stroke-width="1.8" stroke-linecap="round"/>
<path d="M212.57,674.24 L212.77,674.48 L213.11,674.71 L213.58,674.93 L214.17,675.13 L214.89,675.32 L215.71,675.48 L216.64,675.61 L217.65,675.71 L218.75,675.78 L219.92,675.82 L221.14,675.82 L222.40,675.79 L223.69,675.71 L225.00,675.60 L226.31,675.45 L227.60,675.25 L228.86,675.02 L230.08,674.76 L231.25,674.45 L232.35,674.11 L233.36,673.74 L234.29,673.34 L235.11,672.92 L235.83,672.47 L236.42,672.00 L236.89,671.51 L237.23,671.02 L237.43,670.51 L237.50,670.00" fill="none" stroke="#2f8a58" stroke-width="3.4" stroke-linecap="round"/>
<path d="M212.57,674.24 L212.77,674.48 L213.11,674.71 L213.58,674.93 L214.17,675.13 L214.89,675.32 L215.71,675.48 L216.64,675.61 L217.65,675.71 L218.75,675.78 L219.92,675.82 L221.14,675.82 L222.40,675.79 L223.69,675.71 L225.00,675.60 L226.31,675.45 L227.60,675.25 L228.86,675.02 L230.08,674.76 L231.25,674.45 L232.35,674.11 L233.36,673.74 L234.29,673.34 L235.11,672.92 L235.83,672.47 L236.42,672.00 L236.89,671.51 L237.23,671.02 L237.43,670.51 L237.50,670.00" fill="none" stroke="#6fd09c" stroke-width="1.8" stroke-linecap="round"/>
<path d="M212.57,666.24 L212.77,666.48 L213.11,666.71 L213.58,666.93 L214.17,667.13 L214.89,667.32 L215.71,667.48 L216.64,667.61 L217.65,667.71 L218.75,667.78 L219.92,667.82 L221.14,667.82 L222.40,667.79 L223.69,667.71 L225.00,667.60" fill="none" stroke="#2f8a58" stroke-width="3.4" stroke-linecap="round"/>
<path d="M212.57,666.24 L212.77,666.48 L213.11,666.71 L213.58,666.93 L214.17,667.13 L214.89,667.32 L215.71,667.48 L216.64,667.61 L217.65,667.71 L218.75,667.78 L219.92,667.82 L221.14,667.82 L222.40,667.79 L223.69,667.71 L225.00,667.60" fill="none" stroke="#6fd09c" stroke-width="1.8" stroke-linecap="round"/>
<line x1="225.00" y1="692.00" x2="225.00" y2="659.80" stroke="#222" stroke-width="1.1"/>
<path d="M222.80,660.60 L225.00,656.80 L227.20,660.60 Z" fill="#222"/>
<line x1="219.70" y1="668.10" x2="219.70" y2="654.80" stroke="#e0474c" stroke-width="1.6"/>
<path d="M217.30,660.30 L219.70,656.80 L222.10,660.30 Z" fill="#e0474c"/>
<circle cx="219.70" cy="668.10" r="3.9" fill="url(#gRed)"/>
<ellipse cx="219.70" cy="668.10" rx="7.41" ry="2.15" fill="none" stroke="#111" stroke-width="0.8" transform="rotate(-8 219.70 668.10)"/>
<line x1="231.70" y1="674.80" x2="231.70" y2="688.20" stroke="#3a6fc4" stroke-width="1.6"/>
<path d="M229.30,682.70 L231.70,686.20 L234.10,682.70 Z" fill="#3a6fc4"/>
<circle cx="231.70" cy="674.80" r="3.9" fill="url(#gBlue)"/>
<ellipse cx="231.70" cy="674.80" rx="7.41" ry="2.15" fill="none" stroke="#111" stroke-width="0.8" transform="rotate(-8 231.70 674.80)"/>
<text x="256.60" y="698.50" font-size="11.2" fill="#8c8c8c" font-family="Liberation Sans, sans-serif" font-weight="bold">DL-ZnO</text>
<text transform="translate(372.00,529.80)" font-size="21" text-anchor="start" fill="#000" >f</text>
<clipPath id="hc1"><path d="M397.2,546.1 Q416.65,550.6500000000001 436.1,552.2 C431.1,555.2 424.9,559.0 421.9,562.5 C435.9,569.5 446.8,581.5 446.8,594.5 C446.8,606.5 431.5,618.0 418.5,626.0 C432.5,634.0 447.8,644.0 447.8,656.0 C447.5,666.0 433.5,674.5 425.5,680.5 C421.5,683.5 420.0,686.5 421.0,688.5 C427.5,697.5 439.0,706.8 448.0,713.8 L393.5,713.8 C402.5,706.8 413.5,697.5 419.5,688.5 C407.5,680.5 389.8,670.0 389.8,656.0 C389.8,642.0 405.5,634.0 418.5,626.0 C405.5,618.0 388.6,610.5 388.6,596.5 C388.6,582.5 406.5,573.5 416.5,565.5 C419.5,561.5 405.2,549.1 397.2,546.1 Z"/></clipPath>
<path d="M397.2,546.1 Q416.65,550.6500000000001 436.1,552.2 C431.1,555.2 424.9,559.0 421.9,562.5 C435.9,569.5 446.8,581.5 446.8,594.5 C446.8,606.5 431.5,618.0 418.5,626.0 C432.5,634.0 447.8,644.0 447.8,656.0 C447.5,666.0 433.5,674.5 425.5,680.5 C421.5,683.5 420.0,686.5 421.0,688.5 C427.5,697.5 439.0,706.8 448.0,713.8 L393.5,713.8 C402.5,706.8 413.5,697.5 419.5,688.5 C407.5,680.5 389.8,670.0 389.8,656.0 C389.8,642.0 405.5,634.0 418.5,626.0 C405.5,618.0 388.6,610.5 388.6,596.5 C388.6,582.5 406.5,573.5 416.5,565.5 C419.5,561.5 405.2,549.1 397.2,546.1 Z" fill="#56b585"/>
<g clip-path="url(#hc1)">
<ellipse cx="414.70000000000005" cy="598.5" rx="24.443999999999996" ry="20" fill="url(#gHiL)"/>
<ellipse cx="415.8" cy="658.0" rx="24.36" ry="20" fill="url(#gHiL)"/>
<rect x="417.70000000000005" y="541.1" width="40" height="200" fill="url(#gDarkR)"/>
<path d="M418.9,560.5 C435.9,569.5 447.8,581.5 447.8,597.5 C437.8,587.5 428.9,576.5 414.9,569.5 Z" fill="url(#gDarkBand)" filter="url(#fBlurB)"/>
<path d="M416.5,626.0 C432.5,634.0 448.8,644.0 448.8,656.0 C448.3,666.0 434.5,674.5 425.5,681.5 C430.5,672.5 441.8,662.0 442.8,656.0 C441.8,650.0 426.5,638.0 413.5,631.0 Z M431.5,676.5 C427.5,682.5 421.5,690.5 425.5,694.5 L433.5,700.5 L448.0,713.8 L450.0,693.8 Z" fill="url(#gDarkBand)" filter="url(#fBlurB)"/>
<path d="M436.1,552.2 C431.1,555.2 424.9,559.0 421.9,562.5 L415.9,559.5 C423.9,553.5 424.1,549.2 436.1,552.2 Z" fill="url(#gDarkBand)" filter="url(#fBlurB)"/>
</g>
<clipPath id="hc2"><path d="M495.0,545.7 Q509.9,550.35 524.8,552.0 C519.8,555.0 516.5,558.0 513.5,561.5 C527.5,568.5 539.8,576.0 539.8,589.0 C539.8,601.0 524.2,615.0 511.2,623.0 C525.2,631.0 540.8,643.5 540.8,655.5 C540.5,665.5 525.5,673.5 517.5,679.5 C513.5,682.5 512.0,686.3 513.0,688.3 C519.5,697.3 532.6,706.8 541.6,713.8 L486.4,713.8 C495.4,706.8 505.5,697.3 511.5,688.3 C499.5,680.3 483.0,670.5 483.0,656.5 C483.0,642.5 498.2,631.0 511.2,623.0 C498.2,615.0 482.2,606.5 482.2,592.5 C482.2,578.5 499.5,572.5 509.5,564.5 C512.5,560.5 503.0,548.7 495.0,545.7 Z"/></clipPath>
<path d="M495.0,545.7 Q509.9,550.35 524.8,552.0 C519.8,555.0 516.5,558.0 513.5,561.5 C527.5,568.5 539.8,576.0 539.8,589.0 C539.8,601.0 524.2,615.0 511.2,623.0 C525.2,631.0 540.8,643.5 540.8,655.5 C540.5,665.5 525.5,673.5 517.5,679.5 C513.5,682.5 512.0,686.3 513.0,688.3 C519.5,697.3 532.6,706.8 541.6,713.8 L486.4,713.8 C495.4,706.8 505.5,697.3 511.5,688.3 C499.5,680.3 483.0,670.5 483.0,656.5 C483.0,642.5 498.2,631.0 511.2,623.0 C498.2,615.0 482.2,606.5 482.2,592.5 C482.2,578.5 499.5,572.5 509.5,564.5 C512.5,560.5 503.0,548.7 495.0,545.7 Z" fill="#56b585"/>
<g clip-path="url(#hc2)">
<ellipse cx="508.0" cy="594.5" rx="24.191999999999986" ry="20" fill="url(#gHiL)"/>
<ellipse cx="508.9" cy="658.5" rx="24.27599999999998" ry="20" fill="url(#gHiL)"/>
<rect x="511.0" y="540.7" width="40" height="200" fill="url(#gDarkR)"/>
<path d="M510.5,559.5 C527.5,568.5 540.8,576.0 540.8,592.0 C530.8,582.0 520.5,575.5 506.5,568.5 Z" fill="url(#gDarkBand)" filter="url(#fBlurB)"/>
<path d="M509.2,623.0 C525.2,631.0 541.8,643.5 541.8,655.5 C541.3,665.5 526.5,673.5 517.5,680.5 C522.5,671.5 534.8,661.5 535.8,655.5 C534.8,649.5 519.2,635.0 506.2,628.0 Z M523.5,675.5 C519.5,681.5 513.5,690.3 517.5,694.3 L525.5,700.3 L541.6,713.8 L543.6,693.8 Z" fill="url(#gDarkBand)" filter="url(#fBlurB)"/>
<path d="M524.8,552.0 C519.8,555.0 516.5,558.0 513.5,561.5 L507.5,558.5 C515.5,552.5 512.8,549.0 524.8,552.0 Z" fill="url(#gDarkBand)" filter="url(#fBlurB)"/>
</g>
<path d="M372,558 L392,543 L424,563 L420,585 L408,602 L382,596 Z" fill="#fffbe0" opacity="0.93" filter="url(#fBlur3)"/>
<circle cx="380.1" cy="549.3" r="16" fill="#ffd866" opacity="0.45" filter="url(#fBlur1)"/>
<path d="M388.00,548.03 L397.02,551.00 L387.59,552.12 Z M387.88,551.14 L392.88,556.16 L385.94,554.77 Z M386.59,553.98 L390.86,562.46 L383.40,556.59 Z M384.30,556.11 L384.28,563.18 L380.36,557.30 Z M381.37,557.20 L378.40,566.22 L377.28,556.79 Z M378.26,557.08 L373.24,562.08 L374.63,555.14 Z M375.42,555.79 L366.94,560.06 L372.81,552.60 Z M373.29,553.50 L366.22,553.48 L372.10,549.56 Z M372.20,550.57 L363.18,547.60 L372.61,546.48 Z M372.32,547.46 L367.32,542.44 L374.26,543.83 Z M373.61,544.62 L369.34,536.14 L376.80,542.01 Z M375.90,542.49 L375.92,535.42 L379.84,541.30 Z M378.83,541.40 L381.80,532.38 L382.92,541.81 Z M381.94,541.52 L386.96,536.52 L385.57,543.46 Z M384.78,542.81 L393.26,538.54 L387.39,546.00 Z M386.91,545.10 L393.98,545.12 L388.10,549.04 Z" fill="#ffc21f" filter="url(#fBlur05)"/>
<circle cx="380.1" cy="549.3" r="9" fill="url(#gSun)"/>
<g transform="rotate(0 415.60 586.50)"><line x1="415.60" y1="592.50" x2="415.60" y2="580.50" stroke="#d9575a" stroke-width="1.4"/><path d="M413.40,581.00 L415.60,578.00 L417.80,581.00 Z" fill="#d9575a"/></g>
<circle cx="415.60" cy="586.50" r="4.3" fill="url(#gRed)" stroke="#5a1a1a" stroke-width="0.4"/>
<text x="413.40" y="589.10" font-size="7" fill="#111" font-family="Liberation Sans, sans-serif" font-weight="bold">h<tspan font-size="5" dy="-3">+</tspan></text>
<g transform="rotate(-20 404.20 594.80)"><line x1="404.20" y1="600.80" x2="404.20" y2="588.80" stroke="#d9575a" stroke-width="1.4"/><path d="M402.00,589.30 L404.20,586.30 L406.40,589.30 Z" fill="#d9575a"/></g>
<circle cx="404.20" cy="594.80" r="4.3" fill="url(#gRed)" stroke="#5a1a1a" stroke-width="0.4"/>
<text x="402.00" y="597.40" font-size="7" fill="#111" font-family="Liberation Sans, sans-serif" font-weight="bold">h<tspan font-size="5" dy="-3">+</tspan></text>
<g transform="rotate(-40 430.60 600.00)"><line x1="430.60" y1="606.00" x2="430.60" y2="594.00" stroke="#d9575a" stroke-width="1.4"/><path d="M428.40,594.50 L430.60,591.50 L432.80,594.50 Z" fill="#d9575a"/></g>
<circle cx="430.60" cy="600.00" r="4.3" fill="url(#gRed)" stroke="#5a1a1a" stroke-width="0.4"/>
<text x="428.40" y="602.60" font-size="7" fill="#111" font-family="Liberation Sans, sans-serif" font-weight="bold">h<tspan font-size="5" dy="-3">+</tspan></text>
<g transform="rotate(20 412.50 610.50)"><line x1="412.50" y1="616.50" x2="412.50" y2="604.50" stroke="#d9575a" stroke-width="1.4"/><path d="M410.30,605.00 L412.50,602.00 L414.70,605.00 Z" fill="#d9575a"/></g>
<circle cx="412.50" cy="610.50" r="4.3" fill="url(#gRed)" stroke="#5a1a1a" stroke-width="0.4"/>
<text x="410.30" y="613.10" font-size="7" fill="#111" font-family="Liberation Sans, sans-serif" font-weight="bold">h<tspan font-size="5" dy="-3">+</tspan></text>
<g transform="rotate(-60 405.00 650.20)"><line x1="405.00" y1="656.20" x2="405.00" y2="644.20" stroke="#3d6cb8" stroke-width="1.4"/><path d="M402.80,644.70 L405.00,641.70 L407.20,644.70 Z" fill="#3d6cb8"/></g>
<circle cx="405.00" cy="650.20" r="4.3" fill="url(#gBlue)" stroke="#5a1a1a" stroke-width="0.4"/>
<text x="402.80" y="652.80" font-size="7" fill="#111" font-family="Liberation Sans, sans-serif" font-weight="bold">e<tspan font-size="5" dy="-3">-</tspan></text>
<g transform="rotate(40 423.40 648.40)"><line x1="423.40" y1="654.40" x2="423.40" y2="642.40" stroke="#3d6cb8" stroke-width="1.4"/><path d="M421.20,642.90 L423.40,639.90 L425.60,642.90 Z" fill="#3d6cb8"/></g>
<circle cx="423.40" cy="648.40" r="4.3" fill="url(#gBlue)" stroke="#5a1a1a" stroke-width="0.4"/>
<text x="421.20" y="651.00" font-size="7" fill="#111" font-family="Liberation Sans, sans-serif" font-weight="bold">e<tspan font-size="5" dy="-3">-</tspan></text>
<g transform="rotate(60 407.60 668.60)"><line x1="407.60" y1="674.60" x2="407.60" y2="662.60" stroke="#3d6cb8" stroke-width="1.4"/><path d="M405.40,663.10 L407.60,660.10 L409.80,663.10 Z" fill="#3d6cb8"/></g>
<circle cx="407.60" cy="668.60" r="4.3" fill="url(#gBlue)" stroke="#5a1a1a" stroke-width="0.4"/>
<text x="405.40" y="671.20" font-size="7" fill="#111" font-family="Liberation Sans, sans-serif" font-weight="bold">e<tspan font-size="5" dy="-3">-</tspan></text>
<g transform="rotate(-40 420.70 671.20)"><line x1="420.70" y1="677.20" x2="420.70" y2="665.20" stroke="#3d6cb8" stroke-width="1.4"/><path d="M418.50,665.70 L420.70,662.70 L422.90,665.70 Z" fill="#3d6cb8"/></g>
<circle cx="420.70" cy="671.20" r="4.3" fill="url(#gBlue)" stroke="#5a1a1a" stroke-width="0.4"/>
<text x="418.50" y="673.80" font-size="7" fill="#111" font-family="Liberation Sans, sans-serif" font-weight="bold">e<tspan font-size="5" dy="-3">-</tspan></text>
<line x1="504.3" y1="605.2" x2="504.3" y2="590.2" stroke="#d9575a" stroke-width="1.4"/><path d="M502.1,591.2 L504.3,587.7 L506.5,591.2 Z" fill="#d9575a"/>
<ellipse cx="504.3" cy="597.2" rx="3.9" ry="4.6" fill="url(#gRed)"/>
<line x1="518.1" y1="605.2" x2="518.1" y2="590.2" stroke="#d9575a" stroke-width="1.4"/><path d="M515.9,591.2 L518.1,587.7 L520.3000000000001,591.2 Z" fill="#d9575a"/>
<ellipse cx="518.1" cy="597.2" rx="3.9" ry="4.6" fill="url(#gRed)"/>
<line x1="502.2" y1="666.4" x2="502.2" y2="652.4" stroke="#3d6cb8" stroke-width="1.4"/><path d="M500.0,653.4 L502.2,649.9 L504.4,653.4 Z" fill="#3d6cb8"/>
<ellipse cx="502.2" cy="659.4" rx="3.7" ry="4.4" fill="url(#gBlue)"/>
<line x1="516.1" y1="666.4" x2="516.1" y2="652.4" stroke="#3d6cb8" stroke-width="1.4"/><path d="M513.9,653.4 L516.1,649.9 L518.3000000000001,653.4 Z" fill="#3d6cb8"/>
<ellipse cx="516.1" cy="659.4" rx="3.7" ry="4.4" fill="url(#gBlue)"/>
<circle cx="463" cy="628.6" r="19" fill="none" stroke="#fdb515" stroke-width="2.6" stroke-linecap="butt" stroke-dasharray="2.5,2.5"/>
<ellipse cx="609.8" cy="626" rx="69.5" ry="92.5" fill="none" stroke="#fdb515" stroke-width="2.6" stroke-linecap="butt" stroke-dasharray="2.5,2.5"/>
<path d="M463,609.6 L578,541.5" fill="none" stroke="#fdb515" stroke-width="2.6" stroke-linecap="butt" stroke-dasharray="2.5,2.5"/>
<path d="M479.8,645 L585,712" fill="none" stroke="#fdb515" stroke-width="2.6" stroke-linecap="butt" stroke-dasharray="2.5,2.5"/>
<line x1="449.6" y1="628.7" x2="474" y2="628.7" stroke="#000" stroke-width="2"/><path d="M472,624.8 L480,628.7 L472,632.6 Z" fill="#000"/>
<path d="M601.2,624.9 L608.6,626.2 C610,627.5 611.5,628.5 613.6,629.3 C620,632 626,634 632.2,636.1 C640,639 645,640.5 650.8,642.3 C658,645 665,648 671.3,651 C666,653.5 661,656 657,658.4 C651,662 646,665 642.1,668.3 C637,672 632,676 628.5,680.1 C629.5,683 631,686.5 632.2,689.4 C629,691.5 625.5,693 622.3,693.8 L618.6,692.5 C616.5,688 615,683 613.6,677 C611,668 609,660 607.4,652.2 C606,645 605,639 603.7,633.6 C603,630 602,627 601.2,624.9 Z" fill="url(#gCone2)"/>
<path d="M603.7,633.6 C605,639 606,645 607.4,652.2 C609,660 611,668 613.6,677 C615,683 616.5,688 618.6,692.5 L622.3,693.8 C625.5,693 629,691.5 632.2,689.4 C626,678 618,662 612,650 C609,644 606.5,638 603.7,633.6 Z" fill="#13503a" opacity="0.85"/>
<path d="M553,590.4 C560,581 572,568 580.1,563.8 C586,560.5 592,558.5 597.1,557.4 C602,563 607,578 607.8,592.6 C608.5,604 608.5,616 608.8,624.5 L605.6,628.7 C596,622 585,617 582.2,616 C574,611 562,602 553,590.4 Z" fill="url(#gCone)"/>
<path d="M553,590.4 C556,589 560,588.5 563.6,589.5 C566,593 568,598 570,604 C563,600 557,595 553,590.4 Z" fill="#1a5f3e"/>
<path d="M597.1,557.4 C602,563 607,578 607.8,592.6 C608.5,604 608.5,616 608.8,624.5 L605.6,628.7 C604,615 602,598 599,585 C597,575 596,565 597.1,557.4 Z" fill="#1e6c46" opacity="0.55"/>
<path d="M604.54,556.83 L604.68,557.60 L604.56,558.48 L604.20,559.46 L603.60,560.51 L602.76,561.63 L601.70,562.81 L600.44,564.03 L598.99,565.29 L597.36,566.56 L595.59,567.83 L593.69,569.09 L591.69,570.33 L589.61,571.53 L587.48,572.68 L585.32,573.77 L583.17,574.78 L581.05,575.71 L578.98,576.54 L576.99,577.28 L575.10,577.90 L573.35,578.41 L571.74,578.80 L570.30,579.07 L569.05,579.21 L568.00,579.24 L567.16,579.14 L566.54,578.93 L566.16,578.61 L566.01,578.18 L566.09,577.65 L566.41,577.03 L566.96,576.33 L567.73,575.56 L568.71,574.73 L569.89,573.86 L571.26,572.95 L572.80,572.02 L574.49,571.07 L576.31,570.14 L578.24,569.22 L580.25,568.33 L582.32,567.48 L584.42,566.69 L586.54,565.97 L588.64,565.31 L590.70,564.75 L592.70,564.27 L594.61,563.90 L596.41,563.63 L598.08,563.47 L599.60,563.42 L600.95,563.49 L602.12,563.67 L603.10,563.97 L603.88,564.37 L604.44,564.89 L604.78,565.50 L604.90,566.22 L604.81,567.02 L604.49,567.90 L603.97,568.85 L603.24,569.86 L602.31,570.92 L601.21,572.02 L599.94,573.14 L598.52,574.28 L596.97,575.41 L595.31,576.54 L593.56,577.64 L591.74,578.71 L589.88,579.74 L588.00,580.70 L586.12,581.60 L584.27,582.43 L582.46,583.17 L580.73,583.82 L579.09,584.37 L577.56,584.83 L576.16,585.18 L574.91,585.42 L573.83,585.55 L572.92,585.58 L572.19,585.50 L571.66,585.32 L571.33,585.05 L571.21,584.68 L571.29,584.22 L571.57,583.69 L572.06,583.08 L572.74,582.42 L573.60,581.71 L574.64,580.95 L575.84,580.17 L577.18,579.37 L578.66,578.57 L580.24,577.77 L581.92,576.98 L583.68,576.23 L585.48,575.51 L587.31,574.84 L589.16,574.23 L590.98,573.69 L592.78,573.22 L594.51,572.83 L596.17,572.53 L597.74,572.33 L599.19,572.21 L600.51,572.20 L601.68,572.29 L602.70,572.48 L603.55,572.76 L604.23,573.14 L604.71,573.62 L605.02,574.18 L605.13,574.83 L605.05,575.55 L604.78,576.34 L604.33,577.19 L603.71,578.09 L602.92,579.03 L601.98,580.00 L600.89,580.99 L599.67,581.99 L598.35,583.00 L596.92,583.99 L595.43,584.96 L593.87,585.89 L592.28,586.79 L590.67,587.64 L589.07,588.42 L587.49,589.15 L585.95,589.79 L584.47,590.36 L583.07,590.85 L581.77,591.25 L580.59,591.55 L579.53,591.77 L578.60,591.89 L577.83,591.92 L577.22,591.86 L576.78,591.71 L576.51,591.48 L576.41,591.17 L576.49,590.79 L576.74,590.34 L577.16,589.84 L577.75,589.28 L578.49,588.68 L579.38,588.05 L580.41,587.40 L581.56,586.73 L582.82,586.06 L584.18,585.40 L585.61,584.75 L587.11,584.12 L588.64,583.54 L590.20,582.99 L591.77,582.50 L593.33,582.06 L594.85,581.69 L596.33,581.39 L597.73,581.17 L599.06,581.02 L600.29,580.96 L601.42,580.98 L602.41,581.09 L603.28,581.28 L604.00,581.56 L604.57,581.92 L604.99,582.35 L605.25,582.86 L605.35,583.44 L605.29,584.08 L605.07,584.78 L604.70,585.52 L604.19,586.31 L603.53,587.14 L602.74,587.98 L601.84,588.84 L600.83,589.71 L599.72,590.58 L598.54,591.43 L597.30,592.27 L596.00,593.08 L594.68,593.85 L593.35,594.57 L592.02,595.25 L590.71,595.86 L589.43,596.42 L588.21,596.91 L587.06,597.32 L585.99,597.66 L585.01,597.93 L584.14,598.12 L583.38,598.23 L582.75,598.26 L582.26,598.22 L581.90,598.10 L581.68,597.92 L581.61,597.67 L581.69,597.36 L581.90,597.00 L582.26,596.59 L582.76,596.14 L583.38,595.66 L584.13,595.15 L584.98,594.62 L585.94,594.09 L586.99,593.55 L588.11,593.02 L589.30,592.51 L590.54,592.02 L591.81,591.56 L593.10,591.14 L594.39,590.76 L595.67,590.44 L596.92,590.16 L598.14,589.95 L599.30,589.80 L600.39,589.72 L601.40,589.71 L602.32,589.76 L603.15,589.89 L603.86,590.09 L604.45,590.35 L604.92,590.69 L605.27,591.08 L605.49,591.54 L605.58,592.05 L605.53,592.61 L605.36,593.22 L605.07,593.86 L604.66,594.54 L604.14,595.24 L603.51,595.96 L602.79,596.70 L601.98,597.43 L601.10,598.16 L600.16,598.88 L599.16,599.58 L598.14,600.26 L597.08,600.90 L596.02,601.51 L594.97,602.07 L593.93,602.58 L592.92,603.04 L591.95,603.45 L591.04,603.80 L590.20,604.08 L589.43,604.31 L588.75,604.47 L588.16,604.56 L587.67,604.60 L587.29,604.57 L587.02,604.49 L586.86,604.35 L586.82,604.17 L586.89,603.93 L587.07,603.65 L587.37,603.34 L587.77,603.00 L588.27,602.63 L588.87,602.24 L589.56,601.85 L590.32,601.45 L591.15,601.04 L592.05,600.65 L592.99,600.28 L593.97,599.92 L594.97,599.59 L595.99,599.29 L597.00,599.03 L598.01,598.81 L599.00,598.64 L599.95,598.51 L600.86,598.44 L601.72,598.42 L602.51,598.45 L603.23,598.55 L603.88,598.69 L604.43,598.89 L604.90,599.15 L605.27,599.46 L605.55,599.81 L605.72,600.22 L605.80,600.66 L605.78,601.14 L605.66,601.66 L605.44,602.20 L605.13,602.77 L604.75,603.35 L604.28,603.95 L603.74,604.55 L603.13,605.15 L602.48,605.74 L601.77,606.33 L601.03,606.89 L600.27,607.44 L599.49,607.95 L598.70,608.44 L597.92,608.89 L597.15,609.30 L596.41,609.67 L595.70,609.99 L595.03,610.27 L594.41,610.50 L593.85,610.68 L593.36,610.82 L592.94,610.90 L592.59,610.94 L592.32,610.93 L592.14,610.88 L592.03,610.79 L592.02,610.66 L592.09,610.50 L592.24,610.31 L592.47,610.09 L592.78,609.86 L593.16,609.60 L593.61,609.34 L594.13,609.07 L594.70,608.80 L595.32,608.54 L595.98,608.28 L596.67,608.04 L597.39,607.82 L598.13,607.61 L598.88,607.44 L599.62,607.30 L600.36,607.18 L601.07,607.11 L601.77,607.07 L602.43,607.07 L603.05,607.12 L603.62,607.20 L604.14,607.33 L604.61,607.49 L605.01,607.70 L605.35,607.95 L605.62,608.23 L605.83,608.55 L605.96,608.89 L606.02,609.27 L606.02,609.67 L605.95,610.10 L605.81,610.54 L605.61,611.00 L605.35,611.46 L605.04,611.93 L604.69,612.40 L604.29,612.87 L603.85,613.33 L603.39,613.77 L602.90,614.20 L602.40,614.62 L601.89,615.01 L601.37,615.37 L600.87,615.71 L600.37,616.02 L599.89,616.29 L599.44,616.54 L599.01,616.75 L598.62,616.92 L598.28,617.06 L597.97,617.17 L597.71,617.24 L597.51,617.28 L597.35,617.29 L597.25,617.27 L597.21,617.23 L597.22,617.16 L597.28,617.07 L597.40,616.96 L597.57,616.85 L597.79,616.72 L598.05,616.58 L598.36,616.44 L598.70,616.30 L599.08,616.16 L599.48,616.03 L599.91,615.91 L600.36,615.80 L600.82,615.71 L601.29,615.64 L601.77,615.59 L602.24,615.56 L602.70,615.56 L603.15,615.58 L603.58,615.63 L603.99,615.71 L604.37,615.81 L604.73,615.95 L605.05,616.11 L605.34,616.29 L605.59,616.51 L605.80,616.74 L605.97,617.00 L606.10,617.28 L606.20,617.57" fill="none" stroke="#e9c9c4" stroke-width="1.1"/>
<line x1="569.5" y1="589.4" x2="633.5" y2="664.5" stroke="#333" stroke-width="0.8"/>
<path d="M631.5,662.8 L635.4,667.6 L630,666.6 Z" fill="#000" transform="rotate(0)"/>
<line x1="582.1" y1="566.4" x2="596.1" y2="562.4" stroke="#4a78c0" stroke-width="1.3"/>
<path d="M595.1,560.1999999999999 L597.7,562.0 L594.3000000000001,563.8 Z" fill="#4a78c0"/>
<circle cx="589.1" cy="564.4" r="4.8" fill="url(#gBlue)"/>
<line x1="557.7" y1="580.7" x2="571.7" y2="576.7" stroke="#4a78c0" stroke-width="1.3"/>
<path d="M570.7,574.5 L573.3000000000001,576.3000000000001 L569.9000000000001,578.1 Z" fill="#4a78c0"/>
<circle cx="564.7" cy="578.7" r="4.6" fill="url(#gBlue)"/>
<line x1="575.8" y1="585.0" x2="589.8" y2="581.0" stroke="#4a78c0" stroke-width="1.3"/>
<path d="M588.8,578.8 L591.4,580.6 L588.0,582.4 Z" fill="#4a78c0"/>
<circle cx="582.8" cy="583.0" r="4.8" fill="url(#gBlue)"/>
<line x1="585.7" y1="579.1" x2="599.7" y2="575.1" stroke="#4a78c0" stroke-width="1.3"/>
<path d="M598.7,572.9 L601.3000000000001,574.7 L597.9000000000001,576.5 Z" fill="#4a78c0"/>
<circle cx="592.7" cy="577.1" r="4.6" fill="url(#gBlue)"/>
<line x1="622.1" y1="661.0" x2="636.1" y2="657.0" stroke="#4a78c0" stroke-width="1.3"/>
<path d="M635.1,654.8 L637.7,656.6 L634.3000000000001,658.4 Z" fill="#4a78c0"/>
<circle cx="629.1" cy="659.0" r="4.3" fill="url(#gBlue)"/>
<line x1="632.7" y1="676.3" x2="646.7" y2="672.3" stroke="#4a78c0" stroke-width="1.3"/>
<path d="M645.7,670.0999999999999 L648.3000000000001,671.9 L644.9000000000001,673.6999999999999 Z" fill="#4a78c0"/>
<circle cx="639.7" cy="674.3" r="4.3" fill="url(#gBlue)"/>
<text transform="translate(568.00,658.30) rotate(65.5)" font-size="15.8" text-anchor="middle" fill="#000" stroke="#000" stroke-width="0.45">CISS effect</text>
<text transform="translate(520.50,740.60)" font-size="15.9" text-anchor="middle" fill="#000" >Spin-polarized carrier generation</text>
</svg></body></html>
